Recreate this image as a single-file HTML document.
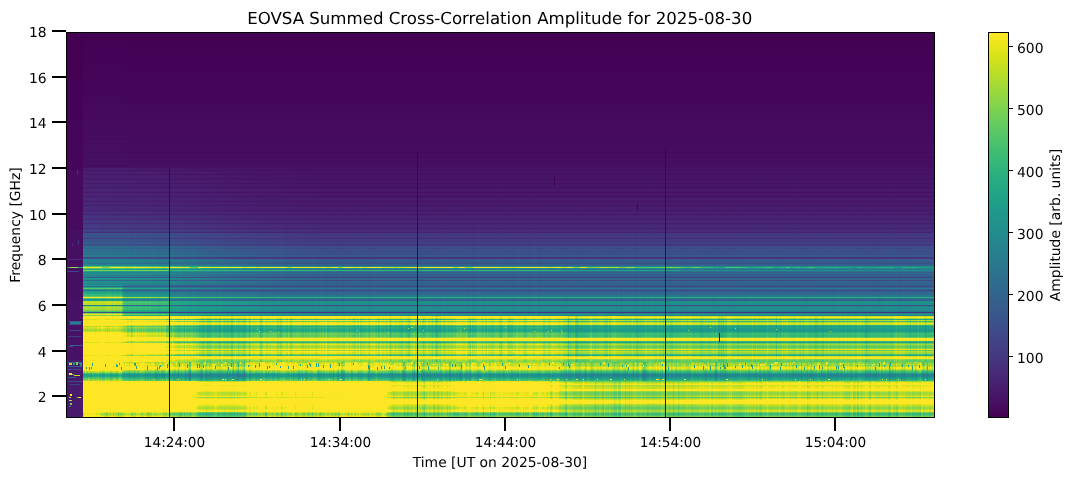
<!DOCTYPE html>
<html lang="en"><head><meta charset="utf-8"><title>EOVSA Summed Cross-Correlation Amplitude for 2025-08-30</title><style>html,body{margin:0;padding:0;background:#fff;overflow:hidden}svg{display:block}</style></head><body>
<svg width="1073" height="479" viewBox="0 0 1073 479" shape-rendering="crispEdges">
<defs>
<filter id="vir" x="0" y="0" width="100%" height="100%" filterUnits="objectBoundingBox" color-interpolation-filters="sRGB">
<feComponentTransfer>
<feFuncR type="table" tableValues=".267 .267 .267 .267 .267 .267 .267 .267 .267 .267 .267 .269 .269 .269 .269 .27 .27 .27 .271 .271 .271 .273 .273 .274 .274 .275 .275 .276 .276 .277 .277 .278 .279 .279 .28 .28 .28 .281 .281 .281 .282 .282 .283 .283 .283 .283 .283 .283 .283 .283 .283 .283 .282 .282 .281 .281 .28 .28 .278 .277 .276 .275 .274 .272 .271 .269 .268 .265 .264 .262 .259 .257 .254 .252 .25 .247 .245 .241 .239 .236 .234 .23 .226 .224 .22 .216 .214 .211 .207 .205 .201 .198 .194 .191 .189 .186 .182 .179 .176 .173 .17 .167 .164 .161 .158 .155 .152 .149 .146 .143 .139 .136 .134 .131 .129 .125 .123 .122 .12 .12 .119 .121 .122 .125 .13 .135 .143 .15 .162 .171 .186 .197 .214 .233 .246 .267 .289 .304 .328 .352 .369 .395 .422 .449 .478 .497 .526 .555 .586 .616 .647 .678 .71 .741 .773 .804 .835 .866 .896 .926 .955 .993 .993 .993 .993 .993 .993 .993 .993 .993 .993 .993 .993 .993 .993 .993 .993 .993 .993 .993 .993 .993 .993 .993 .993 .993 .993 .993 .993 .993 .993 .993 .993 .993 .993 .993 .993 .993 .993 .993 .993 .993 .993 .993 .993 .993 .993 .993 .993 .993 .993 .993 .993 .993 .993 .993 .993 .993 .993 .993 .993 .993 .993 .993 .993 .993 .993 .993 .993 .993 .993 .993 .993 .993 .993 .993 .993 .993 .993 .993 .993 .993 .993 .993 .993 .993 .993 .993 .993 .993 .993 .993 .993 .993 .993 .993"/>
<feFuncG type="table" tableValues=".005 .005 .005 .005 .005 .005 .005 .005 .005 .005 .005 .01 .01 .01 .01 .015 .015 .015 .02 .02 .02 .026 .026 .031 .031 .038 .038 .044 .044 .05 .05 .056 .062 .062 .068 .073 .073 .079 .084 .084 .09 .095 .1 .105 .111 .111 .116 .121 .126 .131 .136 .141 .146 .151 .156 .161 .166 .171 .18 .185 .19 .195 .2 .209 .214 .219 .224 .233 .238 .242 .252 .256 .265 .27 .274 .283 .288 .296 .301 .31 .314 .322 .331 .335 .343 .352 .356 .364 .372 .376 .384 .392 .399 .407 .411 .419 .426 .434 .441 .449 .456 .464 .471 .479 .486 .493 .501 .508 .515 .523 .534 .541 .549 .556 .563 .574 .582 .589 .6 .607 .615 .626 .633 .64 .651 .659 .669 .677 .687 .694 .705 .712 .722 .732 .739 .749 .758 .765 .774 .783 .789 .797 .806 .814 .821 .826 .833 .84 .847 .853 .858 .864 .869 .873 .878 .882 .886 .89 .894 .897 .901 .906 .906 .906 .906 .906 .906 .906 .906 .906 .906 .906 .906 .906 .906 .906 .906 .906 .906 .906 .906 .906 .906 .906 .906 .906 .906 .906 .906 .906 .906 .906 .906 .906 .906 .906 .906 .906 .906 .906 .906 .906 .906 .906 .906 .906 .906 .906 .906 .906 .906 .906 .906 .906 .906 .906 .906 .906 .906 .906 .906 .906 .906 .906 .906 .906 .906 .906 .906 .906 .906 .906 .906 .906 .906 .906 .906 .906 .906 .906 .906 .906 .906 .906 .906 .906 .906 .906 .906 .906 .906 .906 .906 .906 .906 .906"/>
<feFuncB type="table" tableValues=".329 .329 .329 .329 .329 .329 .329 .329 .329 .329 .329 .335 .335 .335 .335 .341 .341 .341 .347 .347 .347 .353 .353 .359 .359 .365 .365 .37 .37 .376 .376 .381 .387 .387 .392 .397 .397 .402 .407 .407 .412 .417 .422 .427 .432 .432 .436 .441 .445 .449 .453 .458 .462 .465 .469 .473 .476 .48 .487 .49 .493 .496 .499 .504 .507 .51 .512 .517 .519 .521 .525 .527 .53 .532 .533 .536 .537 .54 .541 .543 .544 .546 .547 .548 .549 .551 .551 .552 .553 .554 .554 .555 .556 .556 .556 .557 .557 .557 .558 .558 .558 .558 .558 .558 .558 .558 .558 .557 .557 .556 .555 .554 .554 .552 .551 .549 .547 .546 .543 .54 .538 .533 .53 .527 .522 .518 .511 .507 .499 .494 .485 .479 .47 .459 .452 .441 .428 .42 .407 .393 .383 .368 .352 .335 .318 .306 .288 .269 .25 .23 .21 .19 .169 .15 .131 .115 .103 .096 .096 .104 .118 .144 .144 .144 .144 .144 .144 .144 .144 .144 .144 .144 .144 .144 .144 .144 .144 .144 .144 .144 .144 .144 .144 .144 .144 .144 .144 .144 .144 .144 .144 .144 .144 .144 .144 .144 .144 .144 .144 .144 .144 .144 .144 .144 .144 .144 .144 .144 .144 .144 .144 .144 .144 .144 .144 .144 .144 .144 .144 .144 .144 .144 .144 .144 .144 .144 .144 .144 .144 .144 .144 .144 .144 .144 .144 .144 .144 .144 .144 .144 .144 .144 .144 .144 .144 .144 .144 .144 .144 .144 .144 .144 .144 .144 .144 .144"/>
</feComponentTransfer></filter>
<linearGradient id="cb" x1="0" y1="0" x2="0" y2="1"><stop offset="0" stop-color="#fde725"/><stop offset=".031" stop-color="#ece51b"/><stop offset=".062" stop-color="#d8e219"/><stop offset=".094" stop-color="#c2df23"/><stop offset=".125" stop-color="#addc30"/><stop offset=".156" stop-color="#98d83e"/><stop offset=".188" stop-color="#84d44b"/><stop offset=".219" stop-color="#70cf57"/><stop offset=".25" stop-color="#5ec962"/><stop offset=".281" stop-color="#4ec36b"/><stop offset=".312" stop-color="#3fbc73"/><stop offset=".344" stop-color="#32b67a"/><stop offset=".375" stop-color="#28ae80"/><stop offset=".406" stop-color="#22a785"/><stop offset=".438" stop-color="#1fa088"/><stop offset=".469" stop-color="#1f988b"/><stop offset=".5" stop-color="#21918c"/><stop offset=".531" stop-color="#23898e"/><stop offset=".562" stop-color="#26828e"/><stop offset=".594" stop-color="#297a8e"/><stop offset=".625" stop-color="#2c728e"/><stop offset=".656" stop-color="#2f6b8e"/><stop offset=".688" stop-color="#33638d"/><stop offset=".719" stop-color="#375b8d"/><stop offset=".75" stop-color="#3b528b"/><stop offset=".781" stop-color="#3e4989"/><stop offset=".812" stop-color="#424086"/><stop offset=".844" stop-color="#453781"/><stop offset=".875" stop-color="#472d7b"/><stop offset=".906" stop-color="#482374"/><stop offset=".938" stop-color="#48186a"/><stop offset=".969" stop-color="#470d60"/><stop offset="1" stop-color="#440154"/></linearGradient>
</defs>
<rect width="1073" height="479" fill="#fff"/>
<g filter="url(#vir)">
<rect x="67" y="33" width="867" height="384" fill="#000"/>
<g>
<rect x="67" y="33" width="867" height="5" fill="#0d0d0d"/>
<rect x="67" y="38" width="867" height="6" fill="#0e0e0e"/>
<rect x="67" y="44" width="867" height="6" fill="#0f0f0f"/>
<rect x="67" y="50" width="867" height="7" fill="#101010"/>
<rect x="67" y="57" width="867" height="8" fill="#111111"/>
<rect x="67" y="65" width="867" height="8" fill="#121212"/>
<rect x="67" y="73" width="867" height="8" fill="#131313"/>
<rect x="67" y="81" width="867" height="4" fill="#141414"/>
<rect x="67" y="85" width="867" height="5" fill="#151515"/>
<rect x="67" y="90" width="867" height="5" fill="#161616"/>
<rect x="67" y="95" width="867" height="6" fill="#171717"/>
<rect x="67" y="101" width="867" height="4" fill="#181818"/>
<rect x="67" y="105" width="867" height="5" fill="#191919"/>
<rect x="67" y="110" width="867" height="1" fill="#1a1a1a"/>
<rect x="67" y="111" width="867" height="2" fill="#191919"/>
<rect x="67" y="113" width="867" height="5" fill="#1a1a1a"/>
<rect x="67" y="118" width="867" height="3" fill="#1b1b1b"/>
<rect x="67" y="121" width="867" height="1" fill="#1a1a1a"/>
<rect x="67" y="122" width="867" height="1" fill="#1b1b1b"/>
<rect x="67" y="123" width="867" height="2" fill="#1c1c1c"/>
<rect x="67" y="125" width="867" height="1" fill="#1b1b1b"/>
<rect x="67" y="126" width="867" height="1" fill="#1c1c1c"/>
<rect x="67" y="127" width="867" height="1" fill="#1d1d1d"/>
<rect x="67" y="128" width="867" height="2" fill="#1c1c1c"/>
<rect x="67" y="130" width="867" height="1" fill="#1b1b1b"/>
<rect x="67" y="131" width="867" height="1" fill="#1d1d1d"/>
<rect x="67" y="132" width="867" height="1" fill="#1e1e1e"/>
<rect x="67" y="133" width="867" height="1" fill="#1d1d1d"/>
<rect x="67" y="134" width="867" height="1" fill="#1c1c1c"/>
<rect x="67" y="135" width="867" height="1" fill="#1d1d1d"/>
<rect x="67" y="136" width="867" height="1" fill="#1e1e1e"/>
<rect x="67" y="137" width="867" height="1" fill="#1d1d1d"/>
<rect x="67" y="138" width="867" height="2" fill="#1c1c1c"/>
<rect x="67" y="140" width="867" height="1" fill="#1e1e1e"/>
<rect x="67" y="141" width="867" height="1" fill="#1f1f1f"/>
<rect x="67" y="142" width="867" height="1" fill="#1e1e1e"/>
<rect x="67" y="143" width="867" height="1" fill="#1c1c1c"/>
<rect x="67" y="144" width="867" height="1" fill="#1e1e1e"/>
<rect x="67" y="145" width="867" height="1" fill="#202020"/>
<rect x="67" y="146" width="867" height="1" fill="#1e1e1e"/>
<rect x="67" y="147" width="867" height="1" fill="#1d1d1d"/>
<rect x="67" y="148" width="867" height="1" fill="#1f1f1f"/>
<rect x="67" y="149" width="867" height="2" fill="#202020"/>
<rect x="67" y="151" width="867" height="1" fill="#1f1f1f"/>
<rect x="67" y="152" width="867" height="1" fill="#1d1d1d"/>
<rect x="67" y="153" width="867" height="1" fill="#1f1f1f"/>
<rect x="67" y="154" width="867" height="1" fill="#212121"/>
<rect x="67" y="155" width="867" height="1" fill="#202020"/>
<rect x="67" y="156" width="867" height="1" fill="#1d1d1d"/>
<rect x="67" y="157" width="867" height="1" fill="#202020"/>
<rect x="67" y="158" width="867" height="2" fill="#222222"/>
<rect x="67" y="160" width="867" height="1" fill="#202020"/>
<rect x="67" y="161" width="867" height="1" fill="#1e1e1e"/>
<rect x="67" y="162" width="867" height="1" fill="#202020"/>
<rect x="67" y="163" width="867" height="1" fill="#222222"/>
<rect x="67" y="164" width="867" height="1" fill="#212121"/>
<rect x="67" y="165" width="867" height="1" fill="#1e1e1e"/>
<rect x="67" y="166" width="867" height="1" fill="#212121"/>
<rect x="67" y="167" width="867" height="1" fill="#232323"/>
<rect x="67" y="33" width="16" height="135" opacity="1"/>
<rect x="127" y="33" width="86" height="135" opacity=".01"/>
<rect x="213" y="33" width="721" height="135" opacity=".02"/>
</g>
<g>
<rect x="67" y="168" width="867" height="2" fill="#2d2d2d"/>
<rect x="67" y="170" width="867" height="1" fill="#292929"/>
<rect x="67" y="171" width="867" height="1" fill="#2e2e2e"/>
<rect x="67" y="172" width="867" height="1" fill="#313131"/>
<rect x="67" y="173" width="867" height="1" fill="#2e2e2e"/>
<rect x="67" y="174" width="867" height="1" fill="#2a2a2a"/>
<rect x="67" y="175" width="867" height="1" fill="#2f2f2f"/>
<rect x="67" y="176" width="867" height="1" fill="#323232"/>
<rect x="67" y="177" width="867" height="2" fill="#2f2f2f"/>
<rect x="67" y="179" width="867" height="1" fill="#2b2b2b"/>
<rect x="67" y="180" width="867" height="1" fill="#303030"/>
<rect x="67" y="181" width="867" height="1" fill="#343434"/>
<rect x="67" y="182" width="867" height="1" fill="#303030"/>
<rect x="67" y="183" width="867" height="1" fill="#2b2b2b"/>
<rect x="67" y="184" width="867" height="1" fill="#313131"/>
<rect x="67" y="185" width="867" height="1" fill="#353535"/>
<rect x="67" y="186" width="867" height="1" fill="#313131"/>
<rect x="67" y="187" width="867" height="1" fill="#2c2c2c"/>
<rect x="67" y="188" width="867" height="1" fill="#313131"/>
<rect x="67" y="189" width="867" height="1" fill="#353535"/>
<rect x="67" y="190" width="867" height="1" fill="#363636"/>
<rect x="67" y="191" width="867" height="1" fill="#323232"/>
<rect x="67" y="192" width="867" height="1" fill="#2d2d2d"/>
<rect x="67" y="193" width="867" height="1" fill="#323232"/>
<rect x="67" y="194" width="867" height="1" fill="#373737"/>
<rect x="67" y="195" width="867" height="1" fill="#333333"/>
<rect x="67" y="196" width="867" height="1" fill="#2e2e2e"/>
<rect x="67" y="197" width="867" height="1" fill="#333333"/>
<rect x="67" y="198" width="867" height="1" fill="#373737"/>
<rect x="67" y="199" width="867" height="1" fill="#383838"/>
<rect x="67" y="200" width="867" height="1" fill="#343434"/>
<rect x="67" y="201" width="867" height="1" fill="#2f2f2f"/>
<rect x="67" y="202" width="867" height="1" fill="#353535"/>
<rect x="67" y="203" width="867" height="1" fill="#393939"/>
<rect x="67" y="204" width="867" height="1" fill="#363636"/>
<rect x="67" y="205" width="867" height="1" fill="#303030"/>
<rect x="67" y="206" width="867" height="1" fill="#363636"/>
<rect x="67" y="207" width="867" height="1" fill="#3b3b3b"/>
<rect x="67" y="208" width="867" height="1" fill="#373737"/>
<rect x="67" y="209" width="867" height="1" fill="#383838"/>
<rect x="67" y="210" width="867" height="1" fill="#323232"/>
<rect x="67" y="211" width="867" height="1" fill="#393939"/>
<rect x="67" y="212" width="867" height="1" fill="#3d3d3d"/>
<rect x="67" y="213" width="867" height="1" fill="#3a3a3a"/>
<rect x="67" y="214" width="867" height="1" fill="#353535"/>
<rect x="67" y="215" width="867" height="1" fill="#3c3c3c"/>
<rect x="67" y="216" width="867" height="1" fill="#414141"/>
<rect x="67" y="217" width="867" height="1" fill="#3d3d3d"/>
<rect x="67" y="218" width="867" height="1" fill="#3e3e3e"/>
<rect x="67" y="219" width="867" height="1" fill="#383838"/>
<rect x="67" y="220" width="867" height="1" fill="#404040"/>
<rect x="67" y="221" width="867" height="1" fill="#454545"/>
<rect x="67" y="222" width="867" height="1" fill="#414141"/>
<rect x="67" y="223" width="867" height="1" fill="#3b3b3b"/>
<rect x="67" y="224" width="867" height="1" fill="#434343"/>
<rect x="67" y="225" width="867" height="1" fill="#444444"/>
<rect x="67" y="226" width="867" height="1" fill="#474747"/>
<rect x="67" y="227" width="867" height="1" fill="#434343"/>
<rect x="67" y="228" width="867" height="1" fill="#3c3c3c"/>
<rect x="67" y="229" width="867" height="1" fill="#474747"/>
<rect x="67" y="230" width="867" height="1" fill="#494949"/>
<rect x="67" y="231" width="867" height="1" fill="#474747"/>
<rect x="67" y="232" width="867" height="1" fill="#3e3e3e"/>
<rect x="67" y="233" width="867" height="1" fill="#515151"/>
<rect x="67" y="234" width="867" height="1" fill="#545454"/>
<rect x="67" y="235" width="867" height="1" fill="#515151"/>
<rect x="67" y="236" width="867" height="1" fill="#545454"/>
<rect x="67" y="237" width="867" height="1" fill="#515151"/>
<rect x="67" y="238" width="867" height="1" fill="#494949"/>
<rect x="67" y="239" width="867" height="1" fill="#545454"/>
<rect x="67" y="240" width="867" height="1" fill="#565656"/>
<rect x="67" y="241" width="867" height="1" fill="#515151"/>
<rect x="67" y="242" width="867" height="1" fill="#575757"/>
<rect x="67" y="243" width="867" height="1" fill="#5b5b5b"/>
<rect x="67" y="244" width="867" height="1" fill="#4d4d4d"/>
<rect x="67" y="245" width="867" height="1" fill="#565656"/>
<rect x="67" y="246" width="867" height="1" fill="#5f5f5f"/>
<rect x="67" y="247" width="867" height="1" fill="#636363"/>
<rect x="67" y="248" width="867" height="1" fill="#5f5f5f"/>
<rect x="67" y="249" width="867" height="1" fill="#636363"/>
<rect x="67" y="250" width="867" height="1" fill="#656565"/>
<rect x="67" y="251" width="867" height="1" fill="#616161"/>
<rect x="67" y="252" width="867" height="2" fill="#656565"/>
<rect x="67" y="254" width="867" height="1" fill="#636363"/>
<rect x="67" y="255" width="867" height="1" fill="#6b6b6b"/>
<rect x="67" y="256" width="867" height="1" fill="#696969"/>
<rect x="67" y="257" width="867" height="1" fill="#4b4b4b"/>
<rect x="67" y="258" width="867" height="1" fill="#565656"/>
<rect x="67" y="259" width="867" height="1" fill="#696969"/>
<rect x="67" y="260" width="867" height="1" fill="#707070"/>
<rect x="67" y="261" width="867" height="1" fill="#6e6e6e"/>
<rect x="67" y="262" width="867" height="1" fill="#696969"/>
<rect x="67" y="263" width="867" height="1" fill="#656565"/>
<rect x="67" y="264" width="867" height="1" fill="#6e6e6e"/>
<rect x="67" y="265" width="867" height="1" fill="#727272"/>
<rect x="67" y="266" width="867" height="1" fill="#8c8c8c"/>
<rect x="67" y="267" width="867" height="1" fill="#bababa"/>
<rect x="67" y="268" width="867" height="1" fill="#8c8c8c"/>
<rect x="67" y="269" width="867" height="1" fill="#7c7c7c"/>
<rect x="67" y="270" width="867" height="1" fill="#9a9a9a"/>
<rect x="67" y="271" width="867" height="1" fill="#7c7c7c"/>
<rect x="67" y="272" width="867" height="1" fill="#707070"/>
<rect x="67" y="273" width="867" height="1" fill="#747474"/>
<rect x="67" y="274" width="867" height="1" fill="#727272"/>
<rect x="67" y="275" width="867" height="2" fill="#6e6e6e"/>
<rect x="67" y="277" width="867" height="1" fill="#5a5a5a"/>
<rect x="67" y="278" width="867" height="1" fill="#777777"/>
<rect x="67" y="279" width="867" height="1" fill="#747474"/>
<rect x="67" y="280" width="867" height="1" fill="#5f5f5f"/>
<rect x="67" y="281" width="867" height="2" fill="#747474"/>
<rect x="67" y="283" width="867" height="1" fill="#727272"/>
<rect x="67" y="284" width="867" height="1" fill="#6e6e6e"/>
<rect x="67" y="168" width="16" height="117" opacity="1"/>
<rect x="87" y="168" width="2" height="117" opacity=".01"/>
<rect x="90" y="168" width="1" height="117" opacity=".01"/>
<rect x="92" y="168" width="10" height="117" opacity=".01"/>
<rect x="102" y="168" width="3" height="117" opacity=".02"/>
<rect x="105" y="168" width="1" height="117" opacity=".01"/>
<rect x="106" y="168" width="1" height="117" opacity=".02"/>
<rect x="107" y="168" width="4" height="117" opacity=".01"/>
<rect x="111" y="168" width="3" height="117" opacity=".02"/>
<rect x="114" y="168" width="1" height="117" opacity=".01"/>
<rect x="115" y="168" width="5" height="117" opacity=".02"/>
<rect x="120" y="168" width="1" height="117" opacity=".01"/>
<rect x="121" y="168" width="2" height="117" opacity=".02"/>
<rect x="123" y="168" width="2" height="117" opacity=".01"/>
<rect x="125" y="168" width="2" height="117" opacity=".02"/>
<rect x="127" y="168" width="1" height="117" opacity=".03"/>
<rect x="128" y="168" width="3" height="117" opacity=".02"/>
<rect x="131" y="168" width="2" height="117" opacity=".03"/>
<rect x="133" y="168" width="3" height="117" opacity=".02"/>
<rect x="136" y="168" width="6" height="117" opacity=".03"/>
<rect x="142" y="168" width="2" height="117" opacity=".04"/>
<rect x="144" y="168" width="3" height="117" opacity=".03"/>
<rect x="147" y="168" width="2" height="117" opacity=".04"/>
<rect x="149" y="168" width="2" height="117" opacity=".03"/>
<rect x="151" y="168" width="6" height="117" opacity=".04"/>
<rect x="157" y="168" width="8" height="117" opacity=".05"/>
<rect x="165" y="168" width="1" height="117" opacity=".06"/>
<rect x="166" y="168" width="1" height="117" opacity=".05"/>
<rect x="167" y="168" width="4" height="117" opacity=".06"/>
<rect x="171" y="168" width="1" height="117" opacity=".07"/>
<rect x="172" y="168" width="3" height="117" opacity=".06"/>
<rect x="175" y="168" width="3" height="117" opacity=".07"/>
<rect x="178" y="168" width="2" height="117" opacity=".06"/>
<rect x="180" y="168" width="2" height="117" opacity=".07"/>
<rect x="182" y="168" width="1" height="117" opacity=".08"/>
<rect x="183" y="168" width="1" height="117" opacity=".07"/>
<rect x="184" y="168" width="1" height="117" opacity=".08"/>
<rect x="185" y="168" width="2" height="117" opacity=".07"/>
<rect x="187" y="168" width="1" height="117" opacity=".08"/>
<rect x="188" y="168" width="1" height="117" opacity=".09"/>
<rect x="189" y="168" width="2" height="117" opacity=".08"/>
<rect x="191" y="168" width="1" height="117" opacity=".09"/>
<rect x="192" y="168" width="3" height="117" opacity=".08"/>
<rect x="195" y="168" width="1" height="117" opacity=".09"/>
<rect x="196" y="168" width="1" height="117" opacity=".08"/>
<rect x="197" y="168" width="5" height="117" opacity=".09"/>
<rect x="202" y="168" width="2" height="117" opacity=".1"/>
<rect x="204" y="168" width="1" height="117" opacity=".11"/>
<rect x="205" y="168" width="1" height="117" opacity=".09"/>
<rect x="206" y="168" width="5" height="117" opacity=".1"/>
<rect x="211" y="168" width="3" height="117" opacity=".11"/>
<rect x="214" y="168" width="1" height="117" opacity=".1"/>
<rect x="215" y="168" width="3" height="117" opacity=".11"/>
<rect x="218" y="168" width="1" height="117" opacity=".12"/>
<rect x="219" y="168" width="2" height="117" opacity=".11"/>
<rect x="221" y="168" width="5" height="117" opacity=".12"/>
<rect x="226" y="168" width="10" height="117" opacity=".13"/>
<rect x="236" y="168" width="2" height="117" opacity=".14"/>
<rect x="238" y="168" width="2" height="117" opacity=".13"/>
<rect x="240" y="168" width="2" height="117" opacity=".14"/>
<rect x="242" y="168" width="1" height="117" opacity=".15"/>
<rect x="243" y="168" width="1" height="117" opacity=".14"/>
<rect x="244" y="168" width="1" height="117" opacity=".15"/>
<rect x="245" y="168" width="1" height="117" opacity=".14"/>
<rect x="246" y="168" width="10" height="117" opacity=".15"/>
<rect x="256" y="168" width="6" height="117" opacity=".16"/>
<rect x="262" y="168" width="1" height="117" opacity=".17"/>
<rect x="263" y="168" width="4" height="117" opacity=".16"/>
<rect x="267" y="168" width="1" height="117" opacity=".17"/>
<rect x="268" y="168" width="1" height="117" opacity=".16"/>
<rect x="269" y="168" width="1" height="117" opacity=".17"/>
<rect x="270" y="168" width="1" height="117" opacity=".16"/>
<rect x="271" y="168" width="1" height="117" opacity=".17"/>
<rect x="272" y="168" width="1" height="117" opacity=".18"/>
<rect x="273" y="168" width="11" height="117" opacity=".17"/>
<rect x="284" y="168" width="2" height="117" opacity=".18"/>
<rect x="286" y="168" width="1" height="117" opacity=".19"/>
<rect x="287" y="168" width="4" height="117" opacity=".18"/>
<rect x="291" y="168" width="1" height="117" opacity=".19"/>
<rect x="292" y="168" width="3" height="117" opacity=".18"/>
<rect x="295" y="168" width="2" height="117" opacity=".19"/>
<rect x="297" y="168" width="1" height="117" opacity=".18"/>
<rect x="298" y="168" width="2" height="117" opacity=".19"/>
<rect x="300" y="168" width="1" height="117" opacity=".18"/>
<rect x="301" y="168" width="9" height="117" opacity=".19"/>
<rect x="310" y="168" width="1" height="117" opacity=".2"/>
<rect x="311" y="168" width="5" height="117" opacity=".19"/>
<rect x="316" y="168" width="4" height="117" opacity=".2"/>
<rect x="320" y="168" width="1" height="117" opacity=".19"/>
<rect x="321" y="168" width="4" height="117" opacity=".2"/>
<rect x="325" y="168" width="2" height="117" opacity=".21"/>
<rect x="327" y="168" width="8" height="117" opacity=".2"/>
<rect x="335" y="168" width="2" height="117" opacity=".21"/>
<rect x="337" y="168" width="4" height="117" opacity=".2"/>
<rect x="341" y="168" width="3" height="117" opacity=".21"/>
<rect x="344" y="168" width="1" height="117" opacity=".2"/>
<rect x="345" y="168" width="1" height="117" opacity=".21"/>
<rect x="346" y="168" width="9" height="117" opacity=".2"/>
<rect x="355" y="168" width="1" height="117" opacity=".21"/>
<rect x="356" y="168" width="3" height="117" opacity=".2"/>
<rect x="359" y="168" width="1" height="117" opacity=".19"/>
<rect x="360" y="168" width="8" height="117" opacity=".2"/>
<rect x="368" y="168" width="3" height="117" opacity=".21"/>
<rect x="371" y="168" width="10" height="117" opacity=".2"/>
<rect x="381" y="168" width="1" height="117" opacity=".19"/>
<rect x="382" y="168" width="5" height="117" opacity=".2"/>
<rect x="387" y="168" width="1" height="117" opacity=".19"/>
<rect x="388" y="168" width="10" height="117" opacity=".2"/>
<rect x="398" y="168" width="1" height="117" opacity=".19"/>
<rect x="399" y="168" width="2" height="117" opacity=".2"/>
<rect x="401" y="168" width="1" height="117" opacity=".19"/>
<rect x="402" y="168" width="19" height="117" opacity=".2"/>
<rect x="421" y="168" width="1" height="117" opacity=".21"/>
<rect x="422" y="168" width="9" height="117" opacity=".2"/>
<rect x="431" y="168" width="1" height="117" opacity=".21"/>
<rect x="432" y="168" width="2" height="117" opacity=".2"/>
<rect x="434" y="168" width="1" height="117" opacity=".21"/>
<rect x="435" y="168" width="2" height="117" opacity=".2"/>
<rect x="437" y="168" width="2" height="117" opacity=".21"/>
<rect x="439" y="168" width="1" height="117" opacity=".2"/>
<rect x="440" y="168" width="1" height="117" opacity=".21"/>
<rect x="441" y="168" width="1" height="117" opacity=".2"/>
<rect x="442" y="168" width="2" height="117" opacity=".19"/>
<rect x="444" y="168" width="3" height="117" opacity=".2"/>
<rect x="447" y="168" width="1" height="117" opacity=".19"/>
<rect x="448" y="168" width="18" height="117" opacity=".2"/>
<rect x="466" y="168" width="1" height="117" opacity=".19"/>
<rect x="467" y="168" width="1" height="117" opacity=".21"/>
<rect x="468" y="168" width="4" height="117" opacity=".2"/>
<rect x="472" y="168" width="3" height="117" opacity=".21"/>
<rect x="475" y="168" width="3" height="117" opacity=".2"/>
<rect x="478" y="168" width="3" height="117" opacity=".19"/>
<rect x="481" y="168" width="2" height="117" opacity=".2"/>
<rect x="483" y="168" width="1" height="117" opacity=".21"/>
<rect x="484" y="168" width="4" height="117" opacity=".2"/>
<rect x="488" y="168" width="1" height="117" opacity=".19"/>
<rect x="489" y="168" width="2" height="117" opacity=".21"/>
<rect x="491" y="168" width="1" height="117" opacity=".19"/>
<rect x="492" y="168" width="5" height="117" opacity=".2"/>
<rect x="497" y="168" width="3" height="117" opacity=".19"/>
<rect x="500" y="168" width="1" height="117" opacity=".2"/>
<rect x="501" y="168" width="1" height="117" opacity=".19"/>
<rect x="502" y="168" width="10" height="117" opacity=".2"/>
<rect x="512" y="168" width="1" height="117" opacity=".21"/>
<rect x="513" y="168" width="5" height="117" opacity=".2"/>
<rect x="518" y="168" width="2" height="117" opacity=".19"/>
<rect x="520" y="168" width="1" height="117" opacity=".2"/>
<rect x="521" y="168" width="1" height="117" opacity=".19"/>
<rect x="522" y="168" width="5" height="117" opacity=".2"/>
<rect x="527" y="168" width="2" height="117" opacity=".21"/>
<rect x="529" y="168" width="3" height="117" opacity=".2"/>
<rect x="532" y="168" width="5" height="117" opacity=".19"/>
<rect x="537" y="168" width="1" height="117" opacity=".2"/>
<rect x="538" y="168" width="2" height="117" opacity=".21"/>
<rect x="540" y="168" width="11" height="117" opacity=".2"/>
<rect x="551" y="168" width="2" height="117" opacity=".19"/>
<rect x="553" y="168" width="2" height="117" opacity=".2"/>
<rect x="555" y="168" width="1" height="117" opacity=".19"/>
<rect x="556" y="168" width="9" height="117" opacity=".2"/>
<rect x="565" y="168" width="2" height="117" opacity=".21"/>
<rect x="567" y="168" width="4" height="117" opacity=".2"/>
<rect x="571" y="168" width="1" height="117" opacity=".19"/>
<rect x="572" y="168" width="6" height="117" opacity=".2"/>
<rect x="578" y="168" width="1" height="117" opacity=".21"/>
<rect x="579" y="168" width="11" height="117" opacity=".2"/>
<rect x="590" y="168" width="1" height="117" opacity=".19"/>
<rect x="591" y="168" width="3" height="117" opacity=".2"/>
<rect x="594" y="168" width="1" height="117" opacity=".21"/>
<rect x="595" y="168" width="2" height="117" opacity=".2"/>
<rect x="597" y="168" width="2" height="117" opacity=".19"/>
<rect x="599" y="168" width="10" height="117" opacity=".2"/>
<rect x="609" y="168" width="1" height="117" opacity=".21"/>
<rect x="610" y="168" width="10" height="117" opacity=".2"/>
<rect x="620" y="168" width="2" height="117" opacity=".21"/>
<rect x="622" y="168" width="2" height="117" opacity=".2"/>
<rect x="624" y="168" width="1" height="117" opacity=".19"/>
<rect x="625" y="168" width="7" height="117" opacity=".2"/>
<rect x="632" y="168" width="1" height="117" opacity=".19"/>
<rect x="633" y="168" width="2" height="117" opacity=".2"/>
<rect x="635" y="168" width="2" height="117" opacity=".21"/>
<rect x="637" y="168" width="3" height="117" opacity=".2"/>
<rect x="640" y="168" width="1" height="117" opacity=".19"/>
<rect x="641" y="168" width="6" height="117" opacity=".2"/>
<rect x="647" y="168" width="1" height="117" opacity=".19"/>
<rect x="648" y="168" width="2" height="117" opacity=".2"/>
<rect x="650" y="168" width="2" height="117" opacity=".19"/>
<rect x="652" y="168" width="1" height="117" opacity=".2"/>
<rect x="653" y="168" width="1" height="117" opacity=".19"/>
<rect x="654" y="168" width="6" height="117" opacity=".2"/>
<rect x="660" y="168" width="1" height="117" opacity=".19"/>
<rect x="661" y="168" width="1" height="117" opacity=".2"/>
<rect x="662" y="168" width="1" height="117" opacity=".19"/>
<rect x="663" y="168" width="4" height="117" opacity=".2"/>
<rect x="667" y="168" width="1" height="117" opacity=".21"/>
<rect x="668" y="168" width="1" height="117" opacity=".2"/>
<rect x="669" y="168" width="2" height="117" opacity=".21"/>
<rect x="671" y="168" width="5" height="117" opacity=".2"/>
<rect x="676" y="168" width="1" height="117" opacity=".19"/>
<rect x="677" y="168" width="4" height="117" opacity=".2"/>
<rect x="681" y="168" width="2" height="117" opacity=".21"/>
<rect x="683" y="168" width="3" height="117" opacity=".2"/>
<rect x="686" y="168" width="1" height="117" opacity=".21"/>
<rect x="687" y="168" width="1" height="117" opacity=".2"/>
<rect x="688" y="168" width="1" height="117" opacity=".21"/>
<rect x="689" y="168" width="3" height="117" opacity=".2"/>
<rect x="692" y="168" width="1" height="117" opacity=".19"/>
<rect x="693" y="168" width="2" height="117" opacity=".2"/>
<rect x="695" y="168" width="1" height="117" opacity=".19"/>
<rect x="696" y="168" width="15" height="117" opacity=".2"/>
<rect x="711" y="168" width="1" height="117" opacity=".21"/>
<rect x="712" y="168" width="1" height="117" opacity=".2"/>
<rect x="713" y="168" width="2" height="117" opacity=".21"/>
<rect x="715" y="168" width="11" height="117" opacity=".2"/>
<rect x="726" y="168" width="1" height="117" opacity=".21"/>
<rect x="727" y="168" width="1" height="117" opacity=".2"/>
<rect x="728" y="168" width="1" height="117" opacity=".21"/>
<rect x="729" y="168" width="3" height="117" opacity=".2"/>
<rect x="732" y="168" width="1" height="117" opacity=".21"/>
<rect x="733" y="168" width="17" height="117" opacity=".2"/>
<rect x="750" y="168" width="2" height="117" opacity=".19"/>
<rect x="752" y="168" width="1" height="117" opacity=".2"/>
<rect x="753" y="168" width="2" height="117" opacity=".19"/>
<rect x="755" y="168" width="8" height="117" opacity=".2"/>
<rect x="763" y="168" width="2" height="117" opacity=".19"/>
<rect x="765" y="168" width="5" height="117" opacity=".2"/>
<rect x="770" y="168" width="1" height="117" opacity=".19"/>
<rect x="771" y="168" width="17" height="117" opacity=".2"/>
<rect x="788" y="168" width="1" height="117" opacity=".19"/>
<rect x="789" y="168" width="2" height="117" opacity=".2"/>
<rect x="791" y="168" width="2" height="117" opacity=".19"/>
<rect x="793" y="168" width="3" height="117" opacity=".2"/>
<rect x="796" y="168" width="2" height="117" opacity=".19"/>
<rect x="798" y="168" width="1" height="117" opacity=".2"/>
<rect x="799" y="168" width="1" height="117" opacity=".19"/>
<rect x="800" y="168" width="5" height="117" opacity=".2"/>
<rect x="805" y="168" width="2" height="117" opacity=".21"/>
<rect x="807" y="168" width="10" height="117" opacity=".2"/>
<rect x="817" y="168" width="1" height="117" opacity=".19"/>
<rect x="818" y="168" width="3" height="117" opacity=".2"/>
<rect x="821" y="168" width="1" height="117" opacity=".19"/>
<rect x="822" y="168" width="5" height="117" opacity=".2"/>
<rect x="827" y="168" width="1" height="117" opacity=".19"/>
<rect x="828" y="168" width="4" height="117" opacity=".2"/>
<rect x="832" y="168" width="1" height="117" opacity=".21"/>
<rect x="833" y="168" width="4" height="117" opacity=".2"/>
<rect x="837" y="168" width="2" height="117" opacity=".19"/>
<rect x="839" y="168" width="6" height="117" opacity=".2"/>
<rect x="845" y="168" width="1" height="117" opacity=".19"/>
<rect x="846" y="168" width="11" height="117" opacity=".2"/>
<rect x="857" y="168" width="1" height="117" opacity=".21"/>
<rect x="858" y="168" width="4" height="117" opacity=".2"/>
<rect x="862" y="168" width="1" height="117" opacity=".21"/>
<rect x="863" y="168" width="1" height="117" opacity=".2"/>
<rect x="864" y="168" width="1" height="117" opacity=".21"/>
<rect x="865" y="168" width="8" height="117" opacity=".2"/>
<rect x="873" y="168" width="1" height="117" opacity=".21"/>
<rect x="874" y="168" width="3" height="117" opacity=".2"/>
<rect x="877" y="168" width="4" height="117" opacity=".21"/>
<rect x="881" y="168" width="6" height="117" opacity=".2"/>
<rect x="887" y="168" width="2" height="117" opacity=".19"/>
<rect x="889" y="168" width="3" height="117" opacity=".2"/>
<rect x="892" y="168" width="3" height="117" opacity=".19"/>
<rect x="895" y="168" width="4" height="117" opacity=".2"/>
<rect x="899" y="168" width="2" height="117" opacity=".21"/>
<rect x="901" y="168" width="3" height="117" opacity=".2"/>
<rect x="904" y="168" width="1" height="117" opacity=".19"/>
<rect x="905" y="168" width="3" height="117" opacity=".2"/>
<rect x="908" y="168" width="1" height="117" opacity=".21"/>
<rect x="909" y="168" width="1" height="117" opacity=".2"/>
<rect x="910" y="168" width="1" height="117" opacity=".21"/>
<rect x="911" y="168" width="1" height="117" opacity=".2"/>
<rect x="912" y="168" width="1" height="117" opacity=".19"/>
<rect x="913" y="168" width="9" height="117" opacity=".2"/>
<rect x="922" y="168" width="1" height="117" opacity=".19"/>
<rect x="923" y="168" width="10" height="117" opacity=".2"/>
<rect x="933" y="168" width="1" height="117" opacity=".19"/>
</g>
<g>
<rect x="67" y="285" width="867" height="1" fill="#777777"/>
<rect x="67" y="286" width="867" height="1" fill="#626262"/>
<rect x="67" y="287" width="867" height="1" fill="#7d7d7d"/>
<rect x="67" y="288" width="867" height="1" fill="#8d8d8d"/>
<rect x="67" y="289" width="867" height="1" fill="#777777"/>
<rect x="67" y="290" width="867" height="1" fill="#666666"/>
<rect x="67" y="291" width="867" height="1" fill="#777777"/>
<rect x="67" y="292" width="867" height="1" fill="#818181"/>
<rect x="67" y="293" width="867" height="1" fill="#7d7d7d"/>
<rect x="67" y="294" width="867" height="2" fill="#868686"/>
<rect x="67" y="296" width="867" height="1" fill="#8d8d8d"/>
<rect x="67" y="297" width="867" height="1" fill="#acacac"/>
<rect x="67" y="298" width="867" height="1" fill="#8a8a8a"/>
<rect x="67" y="299" width="867" height="1" fill="#777777"/>
<rect x="67" y="300" width="867" height="1" fill="#7b7b7b"/>
<rect x="67" y="301" width="867" height="1" fill="#9a9a9a"/>
<rect x="67" y="302" width="867" height="1" fill="#9d9d9d"/>
<rect x="67" y="303" width="867" height="2" fill="#9a9a9a"/>
<rect x="67" y="305" width="867" height="1" fill="#6d6d6d"/>
<rect x="67" y="306" width="867" height="1" fill="#929292"/>
<rect x="67" y="307" width="867" height="1" fill="#9a9a9a"/>
<rect x="67" y="308" width="867" height="2" fill="#979797"/>
<rect x="67" y="310" width="867" height="1" fill="#929292"/>
<rect x="67" y="311" width="867" height="1" fill="#8a8a8a"/>
<rect x="67" y="312" width="867" height="1" fill="#545454"/>
<rect x="67" y="313" width="867" height="1" fill="#929292"/>
<rect x="67" y="314" width="867" height="1" fill="#a2a2a2"/>
<rect x="67" y="315" width="867" height="1" fill="#929292"/>
<rect x="67" y="285" width="16" height="31" opacity="1"/>
<rect x="83" y="285" width="2" height="31" opacity=".01"/>
<rect x="87" y="285" width="4" height="31" opacity=".01"/>
<rect x="92" y="285" width="11" height="31" opacity=".01"/>
<rect x="103" y="285" width="1" height="31" opacity=".02"/>
<rect x="104" y="285" width="3" height="31" opacity=".01"/>
<rect x="109" y="285" width="1" height="31" opacity=".01"/>
<rect x="111" y="285" width="1" height="31" opacity=".01"/>
<rect x="112" y="285" width="1" height="31" opacity=".02"/>
<rect x="113" y="285" width="1" height="31" opacity=".01"/>
<rect x="115" y="285" width="5" height="31" opacity=".01"/>
<rect x="121" y="285" width="1" height="31" opacity=".01"/>
<rect x="122" y="285" width="1" height="31" opacity=".06"/>
<rect x="123" y="285" width="2" height="31" opacity=".11"/>
<rect x="125" y="285" width="2" height="31" opacity=".12"/>
<rect x="127" y="285" width="1" height="31" opacity=".13"/>
<rect x="128" y="285" width="3" height="31" opacity=".12"/>
<rect x="131" y="285" width="2" height="31" opacity=".13"/>
<rect x="133" y="285" width="3" height="31" opacity=".12"/>
<rect x="136" y="285" width="2" height="31" opacity=".13"/>
<rect x="138" y="285" width="4" height="31" opacity=".12"/>
<rect x="142" y="285" width="3" height="31" opacity=".13"/>
<rect x="145" y="285" width="2" height="31" opacity=".12"/>
<rect x="147" y="285" width="2" height="31" opacity=".13"/>
<rect x="149" y="285" width="2" height="31" opacity=".12"/>
<rect x="151" y="285" width="7" height="31" opacity=".13"/>
<rect x="158" y="285" width="3" height="31" opacity=".14"/>
<rect x="161" y="285" width="4" height="31" opacity=".13"/>
<rect x="165" y="285" width="1" height="31" opacity=".14"/>
<rect x="166" y="285" width="1" height="31" opacity=".13"/>
<rect x="167" y="285" width="2" height="31" opacity=".14"/>
<rect x="169" y="285" width="1" height="31" opacity=".17"/>
<rect x="170" y="285" width="1" height="31" opacity=".19"/>
<rect x="171" y="285" width="1" height="31" opacity=".2"/>
<rect x="172" y="285" width="8" height="31" opacity=".19"/>
<rect x="180" y="285" width="5" height="31" opacity=".2"/>
<rect x="185" y="285" width="1" height="31" opacity=".19"/>
<rect x="186" y="285" width="2" height="31" opacity=".2"/>
<rect x="188" y="285" width="1" height="31" opacity=".21"/>
<rect x="189" y="285" width="2" height="31" opacity=".2"/>
<rect x="191" y="285" width="1" height="31" opacity=".21"/>
<rect x="192" y="285" width="3" height="31" opacity=".2"/>
<rect x="195" y="285" width="1" height="31" opacity=".21"/>
<rect x="196" y="285" width="1" height="31" opacity=".2"/>
<rect x="197" y="285" width="7" height="31" opacity=".21"/>
<rect x="204" y="285" width="1" height="31" opacity=".22"/>
<rect x="205" y="285" width="6" height="31" opacity=".21"/>
<rect x="211" y="285" width="2" height="31" opacity=".22"/>
<rect x="213" y="285" width="2" height="31" opacity=".21"/>
<rect x="215" y="285" width="4" height="31" opacity=".22"/>
<rect x="219" y="285" width="2" height="31" opacity=".21"/>
<rect x="221" y="285" width="2" height="31" opacity=".22"/>
<rect x="223" y="285" width="2" height="31" opacity=".23"/>
<rect x="225" y="285" width="1" height="31" opacity=".22"/>
<rect x="226" y="285" width="10" height="31" opacity=".23"/>
<rect x="236" y="285" width="1" height="31" opacity=".24"/>
<rect x="237" y="285" width="4" height="31" opacity=".23"/>
<rect x="241" y="285" width="2" height="31" opacity=".24"/>
<rect x="243" y="285" width="1" height="31" opacity=".23"/>
<rect x="244" y="285" width="1" height="31" opacity=".24"/>
<rect x="245" y="285" width="1" height="31" opacity=".23"/>
<rect x="246" y="285" width="12" height="31" opacity=".24"/>
<rect x="258" y="285" width="1" height="31" opacity=".25"/>
<rect x="259" y="285" width="1" height="31" opacity=".24"/>
<rect x="260" y="285" width="10" height="31" opacity=".25"/>
<rect x="270" y="285" width="1" height="31" opacity=".24"/>
<rect x="271" y="285" width="3" height="31" opacity=".26"/>
<rect x="274" y="285" width="10" height="31" opacity=".25"/>
<rect x="284" y="285" width="3" height="31" opacity=".26"/>
<rect x="287" y="285" width="1" height="31" opacity=".25"/>
<rect x="288" y="285" width="1" height="31" opacity=".26"/>
<rect x="289" y="285" width="1" height="31" opacity=".25"/>
<rect x="290" y="285" width="2" height="31" opacity=".26"/>
<rect x="292" y="285" width="1" height="31" opacity=".25"/>
<rect x="293" y="285" width="22" height="31" opacity=".26"/>
<rect x="315" y="285" width="1" height="31" opacity=".25"/>
<rect x="316" y="285" width="3" height="31" opacity=".26"/>
<rect x="319" y="285" width="1" height="31" opacity=".27"/>
<rect x="320" y="285" width="1" height="31" opacity=".25"/>
<rect x="321" y="285" width="4" height="31" opacity=".26"/>
<rect x="325" y="285" width="2" height="31" opacity=".27"/>
<rect x="327" y="285" width="8" height="31" opacity=".26"/>
<rect x="335" y="285" width="2" height="31" opacity=".27"/>
<rect x="337" y="285" width="4" height="31" opacity=".26"/>
<rect x="341" y="285" width="3" height="31" opacity=".27"/>
<rect x="344" y="285" width="1" height="31" opacity=".26"/>
<rect x="345" y="285" width="1" height="31" opacity=".27"/>
<rect x="346" y="285" width="9" height="31" opacity=".26"/>
<rect x="355" y="285" width="1" height="31" opacity=".27"/>
<rect x="356" y="285" width="12" height="31" opacity=".26"/>
<rect x="368" y="285" width="3" height="31" opacity=".27"/>
<rect x="371" y="285" width="10" height="31" opacity=".26"/>
<rect x="381" y="285" width="1" height="31" opacity=".25"/>
<rect x="382" y="285" width="5" height="31" opacity=".26"/>
<rect x="387" y="285" width="1" height="31" opacity=".25"/>
<rect x="388" y="285" width="10" height="31" opacity=".26"/>
<rect x="398" y="285" width="1" height="31" opacity=".25"/>
<rect x="399" y="285" width="2" height="31" opacity=".26"/>
<rect x="401" y="285" width="1" height="31" opacity=".25"/>
<rect x="402" y="285" width="19" height="31" opacity=".26"/>
<rect x="421" y="285" width="1" height="31" opacity=".27"/>
<rect x="422" y="285" width="9" height="31" opacity=".26"/>
<rect x="431" y="285" width="1" height="31" opacity=".27"/>
<rect x="432" y="285" width="2" height="31" opacity=".26"/>
<rect x="434" y="285" width="1" height="31" opacity=".27"/>
<rect x="435" y="285" width="2" height="31" opacity=".26"/>
<rect x="437" y="285" width="2" height="31" opacity=".27"/>
<rect x="439" y="285" width="1" height="31" opacity=".26"/>
<rect x="440" y="285" width="1" height="31" opacity=".27"/>
<rect x="441" y="285" width="2" height="31" opacity=".26"/>
<rect x="443" y="285" width="1" height="31" opacity=".25"/>
<rect x="444" y="285" width="22" height="31" opacity=".26"/>
<rect x="466" y="285" width="1" height="31" opacity=".25"/>
<rect x="467" y="285" width="2" height="31" opacity=".27"/>
<rect x="469" y="285" width="3" height="31" opacity=".26"/>
<rect x="472" y="285" width="3" height="31" opacity=".27"/>
<rect x="475" y="285" width="3" height="31" opacity=".26"/>
<rect x="478" y="285" width="3" height="31" opacity=".25"/>
<rect x="481" y="285" width="2" height="31" opacity=".26"/>
<rect x="483" y="285" width="1" height="31" opacity=".27"/>
<rect x="484" y="285" width="5" height="31" opacity=".26"/>
<rect x="489" y="285" width="2" height="31" opacity=".27"/>
<rect x="491" y="285" width="1" height="31" opacity=".25"/>
<rect x="492" y="285" width="5" height="31" opacity=".26"/>
<rect x="497" y="285" width="3" height="31" opacity=".25"/>
<rect x="500" y="285" width="1" height="31" opacity=".26"/>
<rect x="501" y="285" width="1" height="31" opacity=".25"/>
<rect x="502" y="285" width="10" height="31" opacity=".26"/>
<rect x="512" y="285" width="1" height="31" opacity=".27"/>
<rect x="513" y="285" width="5" height="31" opacity=".26"/>
<rect x="518" y="285" width="1" height="31" opacity=".25"/>
<rect x="519" y="285" width="8" height="31" opacity=".26"/>
<rect x="527" y="285" width="2" height="31" opacity=".27"/>
<rect x="529" y="285" width="4" height="31" opacity=".26"/>
<rect x="533" y="285" width="4" height="31" opacity=".25"/>
<rect x="537" y="285" width="1" height="31" opacity=".26"/>
<rect x="538" y="285" width="2" height="31" opacity=".27"/>
<rect x="540" y="285" width="11" height="31" opacity=".26"/>
<rect x="551" y="285" width="1" height="31" opacity=".25"/>
<rect x="552" y="285" width="3" height="31" opacity=".26"/>
<rect x="555" y="285" width="1" height="31" opacity=".25"/>
<rect x="556" y="285" width="9" height="31" opacity=".26"/>
<rect x="565" y="285" width="2" height="31" opacity=".27"/>
<rect x="567" y="285" width="11" height="31" opacity=".26"/>
<rect x="578" y="285" width="1" height="31" opacity=".27"/>
<rect x="579" y="285" width="15" height="31" opacity=".26"/>
<rect x="594" y="285" width="1" height="31" opacity=".27"/>
<rect x="595" y="285" width="2" height="31" opacity=".26"/>
<rect x="597" y="285" width="1" height="31" opacity=".25"/>
<rect x="598" y="285" width="11" height="31" opacity=".26"/>
<rect x="609" y="285" width="1" height="31" opacity=".27"/>
<rect x="610" y="285" width="6" height="31" opacity=".26"/>
<rect x="616" y="285" width="1" height="31" opacity=".27"/>
<rect x="617" y="285" width="3" height="31" opacity=".26"/>
<rect x="620" y="285" width="2" height="31" opacity=".27"/>
<rect x="622" y="285" width="2" height="31" opacity=".26"/>
<rect x="624" y="285" width="1" height="31" opacity=".25"/>
<rect x="625" y="285" width="9" height="31" opacity=".26"/>
<rect x="634" y="285" width="3" height="31" opacity=".27"/>
<rect x="637" y="285" width="3" height="31" opacity=".26"/>
<rect x="640" y="285" width="1" height="31" opacity=".25"/>
<rect x="641" y="285" width="6" height="31" opacity=".26"/>
<rect x="647" y="285" width="1" height="31" opacity=".25"/>
<rect x="648" y="285" width="2" height="31" opacity=".26"/>
<rect x="650" y="285" width="2" height="31" opacity=".25"/>
<rect x="652" y="285" width="1" height="31" opacity=".26"/>
<rect x="653" y="285" width="1" height="31" opacity=".25"/>
<rect x="654" y="285" width="6" height="31" opacity=".26"/>
<rect x="660" y="285" width="1" height="31" opacity=".25"/>
<rect x="661" y="285" width="1" height="31" opacity=".26"/>
<rect x="662" y="285" width="1" height="31" opacity=".25"/>
<rect x="663" y="285" width="4" height="31" opacity=".26"/>
<rect x="667" y="285" width="1" height="31" opacity=".27"/>
<rect x="668" y="285" width="1" height="31" opacity=".26"/>
<rect x="669" y="285" width="2" height="31" opacity=".27"/>
<rect x="671" y="285" width="5" height="31" opacity=".26"/>
<rect x="676" y="285" width="1" height="31" opacity=".25"/>
<rect x="677" y="285" width="1" height="31" opacity=".27"/>
<rect x="678" y="285" width="3" height="31" opacity=".26"/>
<rect x="681" y="285" width="2" height="31" opacity=".27"/>
<rect x="683" y="285" width="1" height="31" opacity=".26"/>
<rect x="684" y="285" width="1" height="31" opacity=".27"/>
<rect x="685" y="285" width="1" height="31" opacity=".26"/>
<rect x="686" y="285" width="1" height="31" opacity=".27"/>
<rect x="687" y="285" width="1" height="31" opacity=".26"/>
<rect x="688" y="285" width="1" height="31" opacity=".27"/>
<rect x="689" y="285" width="22" height="31" opacity=".26"/>
<rect x="711" y="285" width="1" height="31" opacity=".27"/>
<rect x="712" y="285" width="1" height="31" opacity=".26"/>
<rect x="713" y="285" width="2" height="31" opacity=".27"/>
<rect x="715" y="285" width="11" height="31" opacity=".26"/>
<rect x="726" y="285" width="1" height="31" opacity=".27"/>
<rect x="727" y="285" width="1" height="31" opacity=".26"/>
<rect x="728" y="285" width="1" height="31" opacity=".27"/>
<rect x="729" y="285" width="3" height="31" opacity=".26"/>
<rect x="732" y="285" width="1" height="31" opacity=".27"/>
<rect x="733" y="285" width="17" height="31" opacity=".26"/>
<rect x="750" y="285" width="2" height="31" opacity=".25"/>
<rect x="752" y="285" width="1" height="31" opacity=".26"/>
<rect x="753" y="285" width="2" height="31" opacity=".25"/>
<rect x="755" y="285" width="15" height="31" opacity=".26"/>
<rect x="770" y="285" width="1" height="31" opacity=".25"/>
<rect x="771" y="285" width="17" height="31" opacity=".26"/>
<rect x="788" y="285" width="1" height="31" opacity=".25"/>
<rect x="789" y="285" width="2" height="31" opacity=".26"/>
<rect x="791" y="285" width="2" height="31" opacity=".25"/>
<rect x="793" y="285" width="3" height="31" opacity=".26"/>
<rect x="796" y="285" width="1" height="31" opacity=".25"/>
<rect x="797" y="285" width="2" height="31" opacity=".26"/>
<rect x="799" y="285" width="1" height="31" opacity=".25"/>
<rect x="800" y="285" width="5" height="31" opacity=".26"/>
<rect x="805" y="285" width="2" height="31" opacity=".27"/>
<rect x="807" y="285" width="10" height="31" opacity=".26"/>
<rect x="817" y="285" width="1" height="31" opacity=".25"/>
<rect x="818" y="285" width="3" height="31" opacity=".26"/>
<rect x="821" y="285" width="1" height="31" opacity=".25"/>
<rect x="822" y="285" width="5" height="31" opacity=".26"/>
<rect x="827" y="285" width="1" height="31" opacity=".25"/>
<rect x="828" y="285" width="4" height="31" opacity=".26"/>
<rect x="832" y="285" width="1" height="31" opacity=".27"/>
<rect x="833" y="285" width="4" height="31" opacity=".26"/>
<rect x="837" y="285" width="2" height="31" opacity=".25"/>
<rect x="839" y="285" width="6" height="31" opacity=".26"/>
<rect x="845" y="285" width="1" height="31" opacity=".25"/>
<rect x="846" y="285" width="11" height="31" opacity=".26"/>
<rect x="857" y="285" width="1" height="31" opacity=".27"/>
<rect x="858" y="285" width="4" height="31" opacity=".26"/>
<rect x="862" y="285" width="1" height="31" opacity=".27"/>
<rect x="863" y="285" width="1" height="31" opacity=".26"/>
<rect x="864" y="285" width="1" height="31" opacity=".27"/>
<rect x="865" y="285" width="8" height="31" opacity=".26"/>
<rect x="873" y="285" width="1" height="31" opacity=".27"/>
<rect x="874" y="285" width="3" height="31" opacity=".26"/>
<rect x="877" y="285" width="4" height="31" opacity=".27"/>
<rect x="881" y="285" width="6" height="31" opacity=".26"/>
<rect x="887" y="285" width="2" height="31" opacity=".25"/>
<rect x="889" y="285" width="3" height="31" opacity=".26"/>
<rect x="892" y="285" width="3" height="31" opacity=".25"/>
<rect x="895" y="285" width="4" height="31" opacity=".26"/>
<rect x="899" y="285" width="2" height="31" opacity=".27"/>
<rect x="901" y="285" width="7" height="31" opacity=".26"/>
<rect x="908" y="285" width="1" height="31" opacity=".27"/>
<rect x="909" y="285" width="1" height="31" opacity=".26"/>
<rect x="910" y="285" width="1" height="31" opacity=".27"/>
<rect x="911" y="285" width="1" height="31" opacity=".26"/>
<rect x="912" y="285" width="1" height="31" opacity=".25"/>
<rect x="913" y="285" width="9" height="31" opacity=".26"/>
<rect x="922" y="285" width="1" height="31" opacity=".25"/>
<rect x="923" y="285" width="11" height="31" opacity=".26"/>
</g>
<g>
<rect x="67" y="316" width="867" height="1" fill="#cbcbcb"/>
<rect x="67" y="317" width="867" height="1" fill="#d6d6d6"/>
<rect x="67" y="318" width="867" height="1" fill="#c4c4c4"/>
<rect x="67" y="319" width="867" height="1" fill="#a2a2a2"/>
<rect x="67" y="320" width="867" height="1" fill="#c8c8c8"/>
<rect x="67" y="321" width="867" height="1" fill="#afafaf"/>
<rect x="67" y="322" width="867" height="1" fill="#c2c2c2"/>
<rect x="67" y="323" width="867" height="1" fill="#d1d1d1"/>
<rect x="67" y="324" width="867" height="1" fill="#c8c8c8"/>
<rect x="67" y="325" width="867" height="1" fill="#ababab"/>
<rect x="67" y="326" width="867" height="1" fill="#9c9c9c"/>
<rect x="67" y="327" width="867" height="1" fill="#a3a3a3"/>
<rect x="67" y="328" width="867" height="1" fill="#9f9f9f"/>
<rect x="67" y="329" width="867" height="1" fill="#9c9c9c"/>
<rect x="67" y="330" width="867" height="1" fill="#999999"/>
<rect x="67" y="331" width="867" height="1" fill="#9f9f9f"/>
<rect x="67" y="332" width="867" height="1" fill="#a6a6a6"/>
<rect x="67" y="333" width="867" height="2" fill="#afafaf"/>
<rect x="67" y="335" width="867" height="1" fill="#acacac"/>
<rect x="67" y="336" width="867" height="1" fill="#adadad"/>
<rect x="67" y="337" width="867" height="1" fill="#b8b8b8"/>
<rect x="67" y="338" width="867" height="1" fill="#e9e9e9"/>
<rect x="67" y="339" width="867" height="1" fill="#eeeeee"/>
<rect x="67" y="340" width="867" height="1" fill="#d3d3d3"/>
<rect x="67" y="341" width="867" height="1" fill="#aaaaaa"/>
<rect x="67" y="342" width="867" height="1" fill="#a2a2a2"/>
<rect x="67" y="343" width="867" height="1" fill="#b8b8b8"/>
<rect x="67" y="344" width="867" height="1" fill="#c4c4c4"/>
<rect x="67" y="345" width="867" height="1" fill="#bbbbbb"/>
<rect x="67" y="346" width="867" height="2" fill="#b8b8b8"/>
<rect x="67" y="348" width="867" height="1" fill="#bfbfbf"/>
<rect x="67" y="349" width="867" height="1" fill="#cfcfcf"/>
<rect x="67" y="350" width="867" height="1" fill="#b8b8b8"/>
<rect x="67" y="351" width="867" height="1" fill="#c8c8c8"/>
<rect x="67" y="352" width="867" height="1" fill="#c4c4c4"/>
<rect x="67" y="353" width="867" height="1" fill="#c2c2c2"/>
<rect x="67" y="354" width="867" height="1" fill="#afafaf"/>
<rect x="67" y="355" width="867" height="1" fill="#a4a4a4"/>
<rect x="67" y="356" width="867" height="1" fill="#cbcbcb"/>
<rect x="67" y="357" width="867" height="1" fill="#e5e5e5"/>
<rect x="67" y="358" width="867" height="1" fill="#dbdbdb"/>
<rect x="67" y="359" width="867" height="1" fill="#bfbfbf"/>
<rect x="67" y="360" width="867" height="1" fill="#b8b8b8"/>
<rect x="67" y="361" width="867" height="1" fill="#b6b6b6"/>
<rect x="67" y="316" width="16" height="46" opacity="1"/>
<rect x="83" y="316" width="1" height="46" opacity=".04"/>
<rect x="84" y="316" width="1" height="46" opacity=".01"/>
<rect x="85" y="316" width="2" height="46" opacity=".03"/>
<rect x="87" y="316" width="1" height="46" opacity=".04"/>
<rect x="88" y="316" width="1" height="46" opacity=".03"/>
<rect x="89" y="316" width="1" height="46" opacity=".02"/>
<rect x="90" y="316" width="2" height="46" opacity=".03"/>
<rect x="92" y="316" width="2" height="46" opacity=".02"/>
<rect x="94" y="316" width="1" height="46" opacity=".03"/>
<rect x="95" y="316" width="1" height="46" opacity=".04"/>
<rect x="96" y="316" width="1" height="46" opacity=".03"/>
<rect x="97" y="316" width="1" height="46" opacity=".02"/>
<rect x="99" y="316" width="1" height="46" opacity=".04"/>
<rect x="100" y="316" width="1" height="46" opacity=".02"/>
<rect x="103" y="316" width="1" height="46" opacity=".01"/>
<rect x="104" y="316" width="1" height="46" opacity=".02"/>
<rect x="105" y="316" width="1" height="46" opacity=".03"/>
<rect x="106" y="316" width="1" height="46" opacity=".02"/>
<rect x="107" y="316" width="1" height="46" opacity=".06"/>
<rect x="108" y="316" width="1" height="46" opacity=".02"/>
<rect x="109" y="316" width="1" height="46" opacity=".04"/>
<rect x="110" y="316" width="1" height="46" opacity=".01"/>
<rect x="111" y="316" width="1" height="46" opacity=".02"/>
<rect x="112" y="316" width="1" height="46" opacity=".03"/>
<rect x="113" y="316" width="3" height="46" opacity=".02"/>
<rect x="116" y="316" width="1" height="46" opacity=".01"/>
<rect x="117" y="316" width="1" height="46" opacity=".02"/>
<rect x="118" y="316" width="1" height="46" opacity=".03"/>
<rect x="119" y="316" width="1" height="46" opacity=".02"/>
<rect x="120" y="316" width="1" height="46" opacity=".03"/>
<rect x="121" y="316" width="1" height="46" opacity=".04"/>
<rect x="122" y="316" width="1" height="46" opacity=".05"/>
<rect x="123" y="316" width="3" height="46" opacity=".07"/>
<rect x="126" y="316" width="1" height="46" opacity=".08"/>
<rect x="127" y="316" width="2" height="46" opacity=".11"/>
<rect x="129" y="316" width="2" height="46" opacity=".09"/>
<rect x="131" y="316" width="1" height="46" opacity=".14"/>
<rect x="132" y="316" width="1" height="46" opacity=".11"/>
<rect x="133" y="316" width="1" height="46" opacity=".09"/>
<rect x="134" y="316" width="1" height="46" opacity=".1"/>
<rect x="135" y="316" width="2" height="46" opacity=".08"/>
<rect x="137" y="316" width="1" height="46" opacity=".09"/>
<rect x="138" y="316" width="1" height="46" opacity=".08"/>
<rect x="139" y="316" width="2" height="46" opacity=".09"/>
<rect x="141" y="316" width="1" height="46" opacity=".1"/>
<rect x="142" y="316" width="1" height="46" opacity=".08"/>
<rect x="143" y="316" width="1" height="46" opacity=".1"/>
<rect x="144" y="316" width="1" height="46" opacity=".09"/>
<rect x="145" y="316" width="1" height="46" opacity=".08"/>
<rect x="146" y="316" width="6" height="46" opacity=".1"/>
<rect x="152" y="316" width="1" height="46" opacity=".11"/>
<rect x="153" y="316" width="4" height="46" opacity=".1"/>
<rect x="157" y="316" width="1" height="46" opacity=".09"/>
<rect x="158" y="316" width="1" height="46" opacity=".12"/>
<rect x="159" y="316" width="1" height="46" opacity=".1"/>
<rect x="160" y="316" width="1" height="46" opacity=".09"/>
<rect x="161" y="316" width="1" height="46" opacity=".12"/>
<rect x="162" y="316" width="3" height="46" opacity=".1"/>
<rect x="165" y="316" width="1" height="46" opacity=".09"/>
<rect x="166" y="316" width="1" height="46" opacity=".15"/>
<rect x="167" y="316" width="2" height="46" opacity=".14"/>
<rect x="169" y="316" width="1" height="46" opacity=".13"/>
<rect x="170" y="316" width="1" height="46" opacity=".15"/>
<rect x="171" y="316" width="1" height="46" opacity=".17"/>
<rect x="172" y="316" width="1" height="46" opacity=".13"/>
<rect x="173" y="316" width="1" height="46" opacity=".14"/>
<rect x="174" y="316" width="1" height="46" opacity=".15"/>
<rect x="175" y="316" width="3" height="46" opacity=".17"/>
<rect x="178" y="316" width="1" height="46" opacity=".18"/>
<rect x="179" y="316" width="1" height="46" opacity=".19"/>
<rect x="180" y="316" width="2" height="46" opacity=".17"/>
<rect x="182" y="316" width="1" height="46" opacity=".16"/>
<rect x="183" y="316" width="1" height="46" opacity=".17"/>
<rect x="184" y="316" width="1" height="46" opacity=".2"/>
<rect x="185" y="316" width="1" height="46" opacity=".15"/>
<rect x="186" y="316" width="1" height="46" opacity=".17"/>
<rect x="187" y="316" width="1" height="46" opacity=".18"/>
<rect x="188" y="316" width="1" height="46" opacity=".17"/>
<rect x="189" y="316" width="1" height="46" opacity=".18"/>
<rect x="190" y="316" width="3" height="46" opacity=".17"/>
<rect x="193" y="316" width="1" height="46" opacity=".18"/>
<rect x="194" y="316" width="1" height="46" opacity=".19"/>
<rect x="195" y="316" width="1" height="46" opacity=".17"/>
<rect x="196" y="316" width="1" height="46" opacity=".2"/>
<rect x="197" y="316" width="1" height="46" opacity=".19"/>
<rect x="198" y="316" width="1" height="46" opacity=".2"/>
<rect x="199" y="316" width="2" height="46" opacity=".21"/>
<rect x="201" y="316" width="2" height="46" opacity=".22"/>
<rect x="203" y="316" width="1" height="46" opacity=".24"/>
<rect x="204" y="316" width="1" height="46" opacity=".22"/>
<rect x="205" y="316" width="1" height="46" opacity=".21"/>
<rect x="206" y="316" width="1" height="46" opacity=".22"/>
<rect x="207" y="316" width="1" height="46" opacity=".24"/>
<rect x="208" y="316" width="1" height="46" opacity=".23"/>
<rect x="209" y="316" width="2" height="46" opacity=".24"/>
<rect x="211" y="316" width="1" height="46" opacity=".21"/>
<rect x="212" y="316" width="1" height="46" opacity=".22"/>
<rect x="213" y="316" width="1" height="46" opacity=".2"/>
<rect x="214" y="316" width="1" height="46" opacity=".21"/>
<rect x="215" y="316" width="2" height="46" opacity=".22"/>
<rect x="217" y="316" width="1" height="46" opacity=".21"/>
<rect x="218" y="316" width="1" height="46" opacity=".22"/>
<rect x="219" y="316" width="1" height="46" opacity=".23"/>
<rect x="220" y="316" width="1" height="46" opacity=".24"/>
<rect x="221" y="316" width="2" height="46" opacity=".2"/>
<rect x="223" y="316" width="1" height="46" opacity=".22"/>
<rect x="224" y="316" width="1" height="46" opacity=".23"/>
<rect x="225" y="316" width="2" height="46" opacity=".22"/>
<rect x="227" y="316" width="1" height="46" opacity=".24"/>
<rect x="228" y="316" width="3" height="46" opacity=".22"/>
<rect x="231" y="316" width="2" height="46" opacity=".25"/>
<rect x="233" y="316" width="2" height="46" opacity=".22"/>
<rect x="235" y="316" width="1" height="46" opacity=".2"/>
<rect x="236" y="316" width="1" height="46" opacity=".22"/>
<rect x="237" y="316" width="1" height="46" opacity=".21"/>
<rect x="238" y="316" width="1" height="46" opacity=".24"/>
<rect x="239" y="316" width="2" height="46" opacity=".22"/>
<rect x="241" y="316" width="1" height="46" opacity=".21"/>
<rect x="242" y="316" width="1" height="46" opacity=".22"/>
<rect x="243" y="316" width="1" height="46" opacity=".23"/>
<rect x="244" y="316" width="1" height="46" opacity=".24"/>
<rect x="245" y="316" width="1" height="46" opacity=".22"/>
<rect x="246" y="316" width="1" height="46" opacity=".21"/>
<rect x="247" y="316" width="1" height="46" opacity=".19"/>
<rect x="248" y="316" width="1" height="46" opacity=".2"/>
<rect x="249" y="316" width="1" height="46" opacity=".23"/>
<rect x="250" y="316" width="1" height="46" opacity=".21"/>
<rect x="251" y="316" width="1" height="46" opacity=".18"/>
<rect x="252" y="316" width="1" height="46" opacity=".19"/>
<rect x="253" y="316" width="1" height="46" opacity=".2"/>
<rect x="254" y="316" width="3" height="46" opacity=".19"/>
<rect x="257" y="316" width="2" height="46" opacity=".18"/>
<rect x="259" y="316" width="1" height="46" opacity=".2"/>
<rect x="260" y="316" width="2" height="46" opacity=".23"/>
<rect x="262" y="316" width="1" height="46" opacity=".21"/>
<rect x="263" y="316" width="1" height="46" opacity=".19"/>
<rect x="264" y="316" width="1" height="46" opacity=".18"/>
<rect x="265" y="316" width="1" height="46" opacity=".19"/>
<rect x="266" y="316" width="2" height="46" opacity=".2"/>
<rect x="268" y="316" width="2" height="46" opacity=".19"/>
<rect x="270" y="316" width="1" height="46" opacity=".2"/>
<rect x="271" y="316" width="1" height="46" opacity=".18"/>
<rect x="272" y="316" width="1" height="46" opacity=".19"/>
<rect x="273" y="316" width="2" height="46" opacity=".18"/>
<rect x="275" y="316" width="1" height="46" opacity=".19"/>
<rect x="276" y="316" width="1" height="46" opacity=".18"/>
<rect x="277" y="316" width="1" height="46" opacity=".22"/>
<rect x="278" y="316" width="1" height="46" opacity=".21"/>
<rect x="279" y="316" width="1" height="46" opacity=".2"/>
<rect x="280" y="316" width="2" height="46" opacity=".22"/>
<rect x="282" y="316" width="1" height="46" opacity=".2"/>
<rect x="283" y="316" width="3" height="46" opacity=".18"/>
<rect x="286" y="316" width="2" height="46" opacity=".2"/>
<rect x="288" y="316" width="1" height="46" opacity=".17"/>
<rect x="289" y="316" width="1" height="46" opacity=".19"/>
<rect x="290" y="316" width="2" height="46" opacity=".21"/>
<rect x="292" y="316" width="1" height="46" opacity=".2"/>
<rect x="293" y="316" width="2" height="46" opacity=".18"/>
<rect x="295" y="316" width="1" height="46" opacity=".19"/>
<rect x="296" y="316" width="4" height="46" opacity=".18"/>
<rect x="300" y="316" width="1" height="46" opacity=".19"/>
<rect x="301" y="316" width="1" height="46" opacity=".2"/>
<rect x="302" y="316" width="1" height="46" opacity=".19"/>
<rect x="303" y="316" width="1" height="46" opacity=".21"/>
<rect x="304" y="316" width="1" height="46" opacity=".18"/>
<rect x="305" y="316" width="1" height="46" opacity=".2"/>
<rect x="306" y="316" width="2" height="46" opacity=".19"/>
<rect x="308" y="316" width="1" height="46" opacity=".2"/>
<rect x="309" y="316" width="2" height="46" opacity=".18"/>
<rect x="311" y="316" width="3" height="46" opacity=".19"/>
<rect x="314" y="316" width="1" height="46" opacity=".18"/>
<rect x="315" y="316" width="2" height="46" opacity=".2"/>
<rect x="317" y="316" width="2" height="46" opacity=".19"/>
<rect x="319" y="316" width="1" height="46" opacity=".18"/>
<rect x="320" y="316" width="1" height="46" opacity=".17"/>
<rect x="321" y="316" width="1" height="46" opacity=".2"/>
<rect x="322" y="316" width="2" height="46" opacity=".17"/>
<rect x="324" y="316" width="1" height="46" opacity=".2"/>
<rect x="325" y="316" width="1" height="46" opacity=".17"/>
<rect x="326" y="316" width="1" height="46" opacity=".16"/>
<rect x="327" y="316" width="2" height="46" opacity=".2"/>
<rect x="329" y="316" width="8" height="46" opacity=".18"/>
<rect x="337" y="316" width="1" height="46" opacity=".2"/>
<rect x="338" y="316" width="5" height="46" opacity=".19"/>
<rect x="343" y="316" width="2" height="46" opacity=".2"/>
<rect x="345" y="316" width="1" height="46" opacity=".18"/>
<rect x="346" y="316" width="1" height="46" opacity=".19"/>
<rect x="347" y="316" width="1" height="46" opacity=".17"/>
<rect x="348" y="316" width="1" height="46" opacity=".19"/>
<rect x="349" y="316" width="1" height="46" opacity=".2"/>
<rect x="350" y="316" width="1" height="46" opacity=".18"/>
<rect x="351" y="316" width="1" height="46" opacity=".19"/>
<rect x="352" y="316" width="2" height="46" opacity=".2"/>
<rect x="354" y="316" width="1" height="46" opacity=".21"/>
<rect x="355" y="316" width="1" height="46" opacity=".2"/>
<rect x="356" y="316" width="1" height="46" opacity=".19"/>
<rect x="357" y="316" width="1" height="46" opacity=".2"/>
<rect x="358" y="316" width="1" height="46" opacity=".21"/>
<rect x="359" y="316" width="1" height="46" opacity=".17"/>
<rect x="360" y="316" width="2" height="46" opacity=".21"/>
<rect x="362" y="316" width="1" height="46" opacity=".19"/>
<rect x="363" y="316" width="2" height="46" opacity=".2"/>
<rect x="365" y="316" width="2" height="46" opacity=".19"/>
<rect x="367" y="316" width="1" height="46" opacity=".18"/>
<rect x="368" y="316" width="1" height="46" opacity=".2"/>
<rect x="369" y="316" width="1" height="46" opacity=".21"/>
<rect x="370" y="316" width="4" height="46" opacity=".18"/>
<rect x="374" y="316" width="1" height="46" opacity=".17"/>
<rect x="375" y="316" width="1" height="46" opacity=".19"/>
<rect x="376" y="316" width="1" height="46" opacity=".2"/>
<rect x="377" y="316" width="1" height="46" opacity=".18"/>
<rect x="378" y="316" width="1" height="46" opacity=".22"/>
<rect x="379" y="316" width="1" height="46" opacity=".2"/>
<rect x="380" y="316" width="1" height="46" opacity=".18"/>
<rect x="381" y="316" width="1" height="46" opacity=".19"/>
<rect x="382" y="316" width="2" height="46" opacity=".2"/>
<rect x="384" y="316" width="2" height="46" opacity=".19"/>
<rect x="386" y="316" width="1" height="46" opacity=".21"/>
<rect x="387" y="316" width="1" height="46" opacity=".2"/>
<rect x="388" y="316" width="1" height="46" opacity=".18"/>
<rect x="389" y="316" width="1" height="46" opacity=".21"/>
<rect x="390" y="316" width="1" height="46" opacity=".23"/>
<rect x="391" y="316" width="1" height="46" opacity=".21"/>
<rect x="392" y="316" width="3" height="46" opacity=".2"/>
<rect x="395" y="316" width="1" height="46" opacity=".22"/>
<rect x="396" y="316" width="2" height="46" opacity=".2"/>
<rect x="398" y="316" width="2" height="46" opacity=".21"/>
<rect x="400" y="316" width="2" height="46" opacity=".22"/>
<rect x="402" y="316" width="1" height="46" opacity=".23"/>
<rect x="403" y="316" width="2" height="46" opacity=".2"/>
<rect x="405" y="316" width="1" height="46" opacity=".21"/>
<rect x="406" y="316" width="2" height="46" opacity=".22"/>
<rect x="408" y="316" width="2" height="46" opacity=".24"/>
<rect x="410" y="316" width="1" height="46" opacity=".21"/>
<rect x="411" y="316" width="2" height="46" opacity=".2"/>
<rect x="413" y="316" width="1" height="46" opacity=".19"/>
<rect x="414" y="316" width="1" height="46" opacity=".18"/>
<rect x="415" y="316" width="1" height="46" opacity=".21"/>
<rect x="416" y="316" width="1" height="46" opacity=".2"/>
<rect x="417" y="316" width="2" height="46" opacity=".22"/>
<rect x="419" y="316" width="1" height="46" opacity=".2"/>
<rect x="420" y="316" width="1" height="46" opacity=".21"/>
<rect x="421" y="316" width="1" height="46" opacity=".2"/>
<rect x="422" y="316" width="1" height="46" opacity=".22"/>
<rect x="423" y="316" width="1" height="46" opacity=".23"/>
<rect x="424" y="316" width="2" height="46" opacity=".22"/>
<rect x="426" y="316" width="1" height="46" opacity=".2"/>
<rect x="427" y="316" width="1" height="46" opacity=".19"/>
<rect x="428" y="316" width="4" height="46" opacity=".21"/>
<rect x="432" y="316" width="1" height="46" opacity=".24"/>
<rect x="433" y="316" width="2" height="46" opacity=".21"/>
<rect x="435" y="316" width="1" height="46" opacity=".23"/>
<rect x="436" y="316" width="1" height="46" opacity=".26"/>
<rect x="437" y="316" width="1" height="46" opacity=".24"/>
<rect x="438" y="316" width="2" height="46" opacity=".22"/>
<rect x="440" y="316" width="1" height="46" opacity=".23"/>
<rect x="441" y="316" width="2" height="46" opacity=".2"/>
<rect x="443" y="316" width="2" height="46" opacity=".22"/>
<rect x="445" y="316" width="1" height="46" opacity=".21"/>
<rect x="446" y="316" width="2" height="46" opacity=".2"/>
<rect x="448" y="316" width="1" height="46" opacity=".21"/>
<rect x="449" y="316" width="2" height="46" opacity=".2"/>
<rect x="451" y="316" width="1" height="46" opacity=".21"/>
<rect x="452" y="316" width="1" height="46" opacity=".2"/>
<rect x="453" y="316" width="1" height="46" opacity=".19"/>
<rect x="454" y="316" width="2" height="46" opacity=".2"/>
<rect x="456" y="316" width="1" height="46" opacity=".18"/>
<rect x="457" y="316" width="1" height="46" opacity=".17"/>
<rect x="458" y="316" width="2" height="46" opacity=".18"/>
<rect x="460" y="316" width="1" height="46" opacity=".17"/>
<rect x="461" y="316" width="2" height="46" opacity=".18"/>
<rect x="463" y="316" width="2" height="46" opacity=".19"/>
<rect x="465" y="316" width="1" height="46" opacity=".18"/>
<rect x="466" y="316" width="1" height="46" opacity=".17"/>
<rect x="467" y="316" width="1" height="46" opacity=".2"/>
<rect x="468" y="316" width="1" height="46" opacity=".21"/>
<rect x="469" y="316" width="1" height="46" opacity=".22"/>
<rect x="470" y="316" width="1" height="46" opacity=".23"/>
<rect x="471" y="316" width="1" height="46" opacity=".19"/>
<rect x="472" y="316" width="1" height="46" opacity=".22"/>
<rect x="473" y="316" width="2" height="46" opacity=".21"/>
<rect x="475" y="316" width="1" height="46" opacity=".2"/>
<rect x="476" y="316" width="1" height="46" opacity=".21"/>
<rect x="477" y="316" width="1" height="46" opacity=".17"/>
<rect x="478" y="316" width="2" height="46" opacity=".18"/>
<rect x="480" y="316" width="1" height="46" opacity=".19"/>
<rect x="481" y="316" width="1" height="46" opacity=".18"/>
<rect x="482" y="316" width="1" height="46" opacity=".21"/>
<rect x="483" y="316" width="1" height="46" opacity=".18"/>
<rect x="484" y="316" width="1" height="46" opacity=".19"/>
<rect x="485" y="316" width="1" height="46" opacity=".2"/>
<rect x="486" y="316" width="1" height="46" opacity=".21"/>
<rect x="487" y="316" width="1" height="46" opacity=".18"/>
<rect x="488" y="316" width="4" height="46" opacity=".2"/>
<rect x="492" y="316" width="1" height="46" opacity=".22"/>
<rect x="493" y="316" width="2" height="46" opacity=".2"/>
<rect x="495" y="316" width="4" height="46" opacity=".19"/>
<rect x="499" y="316" width="2" height="46" opacity=".22"/>
<rect x="501" y="316" width="1" height="46" opacity=".23"/>
<rect x="502" y="316" width="1" height="46" opacity=".2"/>
<rect x="503" y="316" width="2" height="46" opacity=".19"/>
<rect x="505" y="316" width="1" height="46" opacity=".17"/>
<rect x="506" y="316" width="1" height="46" opacity=".18"/>
<rect x="507" y="316" width="1" height="46" opacity=".2"/>
<rect x="508" y="316" width="1" height="46" opacity=".21"/>
<rect x="509" y="316" width="1" height="46" opacity=".22"/>
<rect x="510" y="316" width="3" height="46" opacity=".21"/>
<rect x="513" y="316" width="1" height="46" opacity=".19"/>
<rect x="514" y="316" width="1" height="46" opacity=".2"/>
<rect x="515" y="316" width="1" height="46" opacity=".19"/>
<rect x="516" y="316" width="1" height="46" opacity=".18"/>
<rect x="517" y="316" width="1" height="46" opacity=".17"/>
<rect x="518" y="316" width="3" height="46" opacity=".19"/>
<rect x="521" y="316" width="1" height="46" opacity=".18"/>
<rect x="522" y="316" width="1" height="46" opacity=".19"/>
<rect x="523" y="316" width="1" height="46" opacity=".2"/>
<rect x="524" y="316" width="3" height="46" opacity=".21"/>
<rect x="527" y="316" width="2" height="46" opacity=".19"/>
<rect x="529" y="316" width="1" height="46" opacity=".18"/>
<rect x="530" y="316" width="1" height="46" opacity=".19"/>
<rect x="531" y="316" width="1" height="46" opacity=".18"/>
<rect x="532" y="316" width="1" height="46" opacity=".19"/>
<rect x="533" y="316" width="2" height="46" opacity=".2"/>
<rect x="535" y="316" width="3" height="46" opacity=".18"/>
<rect x="538" y="316" width="1" height="46" opacity=".17"/>
<rect x="539" y="316" width="2" height="46" opacity=".19"/>
<rect x="541" y="316" width="1" height="46" opacity=".18"/>
<rect x="542" y="316" width="1" height="46" opacity=".19"/>
<rect x="543" y="316" width="1" height="46" opacity=".21"/>
<rect x="544" y="316" width="1" height="46" opacity=".22"/>
<rect x="545" y="316" width="1" height="46" opacity=".19"/>
<rect x="546" y="316" width="1" height="46" opacity=".2"/>
<rect x="547" y="316" width="1" height="46" opacity=".19"/>
<rect x="548" y="316" width="2" height="46" opacity=".21"/>
<rect x="550" y="316" width="1" height="46" opacity=".2"/>
<rect x="551" y="316" width="1" height="46" opacity=".19"/>
<rect x="552" y="316" width="1" height="46" opacity=".18"/>
<rect x="553" y="316" width="2" height="46" opacity=".19"/>
<rect x="555" y="316" width="1" height="46" opacity=".2"/>
<rect x="556" y="316" width="1" height="46" opacity=".19"/>
<rect x="557" y="316" width="2" height="46" opacity=".2"/>
<rect x="559" y="316" width="1" height="46" opacity=".21"/>
<rect x="560" y="316" width="1" height="46" opacity=".2"/>
<rect x="561" y="316" width="1" height="46" opacity=".19"/>
<rect x="562" y="316" width="1" height="46" opacity=".2"/>
<rect x="563" y="316" width="2" height="46" opacity=".21"/>
<rect x="565" y="316" width="2" height="46" opacity=".22"/>
<rect x="567" y="316" width="1" height="46" opacity=".23"/>
<rect x="568" y="316" width="1" height="46" opacity=".27"/>
<rect x="569" y="316" width="1" height="46" opacity=".23"/>
<rect x="570" y="316" width="1" height="46" opacity=".24"/>
<rect x="571" y="316" width="1" height="46" opacity=".23"/>
<rect x="572" y="316" width="1" height="46" opacity=".22"/>
<rect x="573" y="316" width="1" height="46" opacity=".23"/>
<rect x="574" y="316" width="1" height="46" opacity=".21"/>
<rect x="575" y="316" width="1" height="46" opacity=".26"/>
<rect x="576" y="316" width="1" height="46" opacity=".27"/>
<rect x="577" y="316" width="1" height="46" opacity=".26"/>
<rect x="578" y="316" width="1" height="46" opacity=".25"/>
<rect x="579" y="316" width="1" height="46" opacity=".23"/>
<rect x="580" y="316" width="1" height="46" opacity=".24"/>
<rect x="581" y="316" width="1" height="46" opacity=".25"/>
<rect x="582" y="316" width="5" height="46" opacity=".24"/>
<rect x="587" y="316" width="1" height="46" opacity=".23"/>
<rect x="588" y="316" width="1" height="46" opacity=".24"/>
<rect x="589" y="316" width="1" height="46" opacity=".22"/>
<rect x="590" y="316" width="1" height="46" opacity=".21"/>
<rect x="591" y="316" width="1" height="46" opacity=".2"/>
<rect x="592" y="316" width="1" height="46" opacity=".23"/>
<rect x="593" y="316" width="1" height="46" opacity=".22"/>
<rect x="594" y="316" width="1" height="46" opacity=".24"/>
<rect x="595" y="316" width="2" height="46" opacity=".23"/>
<rect x="597" y="316" width="1" height="46" opacity=".22"/>
<rect x="598" y="316" width="1" height="46" opacity=".23"/>
<rect x="599" y="316" width="5" height="46" opacity=".22"/>
<rect x="604" y="316" width="2" height="46" opacity=".24"/>
<rect x="606" y="316" width="1" height="46" opacity=".25"/>
<rect x="607" y="316" width="1" height="46" opacity=".24"/>
<rect x="608" y="316" width="1" height="46" opacity=".21"/>
<rect x="609" y="316" width="1" height="46" opacity=".24"/>
<rect x="610" y="316" width="1" height="46" opacity=".23"/>
<rect x="611" y="316" width="1" height="46" opacity=".22"/>
<rect x="612" y="316" width="2" height="46" opacity=".21"/>
<rect x="614" y="316" width="1" height="46" opacity=".2"/>
<rect x="615" y="316" width="1" height="46" opacity=".21"/>
<rect x="616" y="316" width="3" height="46" opacity=".22"/>
<rect x="619" y="316" width="1" height="46" opacity=".23"/>
<rect x="620" y="316" width="1" height="46" opacity=".22"/>
<rect x="621" y="316" width="1" height="46" opacity=".23"/>
<rect x="622" y="316" width="1" height="46" opacity=".22"/>
<rect x="623" y="316" width="3" height="46" opacity=".23"/>
<rect x="626" y="316" width="1" height="46" opacity=".24"/>
<rect x="627" y="316" width="2" height="46" opacity=".23"/>
<rect x="629" y="316" width="2" height="46" opacity=".24"/>
<rect x="631" y="316" width="1" height="46" opacity=".23"/>
<rect x="632" y="316" width="1" height="46" opacity=".22"/>
<rect x="633" y="316" width="1" height="46" opacity=".23"/>
<rect x="634" y="316" width="1" height="46" opacity=".24"/>
<rect x="635" y="316" width="1" height="46" opacity=".23"/>
<rect x="636" y="316" width="1" height="46" opacity=".25"/>
<rect x="637" y="316" width="1" height="46" opacity=".26"/>
<rect x="638" y="316" width="4" height="46" opacity=".24"/>
<rect x="642" y="316" width="3" height="46" opacity=".23"/>
<rect x="645" y="316" width="1" height="46" opacity=".22"/>
<rect x="646" y="316" width="1" height="46" opacity=".21"/>
<rect x="647" y="316" width="2" height="46" opacity=".23"/>
<rect x="649" y="316" width="1" height="46" opacity=".22"/>
<rect x="650" y="316" width="1" height="46" opacity=".23"/>
<rect x="651" y="316" width="1" height="46" opacity=".21"/>
<rect x="652" y="316" width="3" height="46" opacity=".23"/>
<rect x="655" y="316" width="2" height="46" opacity=".24"/>
<rect x="657" y="316" width="2" height="46" opacity=".22"/>
<rect x="659" y="316" width="3" height="46" opacity=".24"/>
<rect x="662" y="316" width="1" height="46" opacity=".23"/>
<rect x="663" y="316" width="1" height="46" opacity=".26"/>
<rect x="664" y="316" width="1" height="46" opacity=".23"/>
<rect x="665" y="316" width="1" height="46" opacity=".24"/>
<rect x="666" y="316" width="1" height="46" opacity=".25"/>
<rect x="667" y="316" width="1" height="46" opacity=".23"/>
<rect x="668" y="316" width="2" height="46" opacity=".24"/>
<rect x="670" y="316" width="3" height="46" opacity=".25"/>
<rect x="673" y="316" width="3" height="46" opacity=".23"/>
<rect x="676" y="316" width="1" height="46" opacity=".24"/>
<rect x="677" y="316" width="4" height="46" opacity=".23"/>
<rect x="681" y="316" width="2" height="46" opacity=".22"/>
<rect x="683" y="316" width="1" height="46" opacity=".23"/>
<rect x="684" y="316" width="2" height="46" opacity=".22"/>
<rect x="686" y="316" width="2" height="46" opacity=".23"/>
<rect x="688" y="316" width="4" height="46" opacity=".22"/>
<rect x="692" y="316" width="1" height="46" opacity=".23"/>
<rect x="693" y="316" width="2" height="46" opacity=".24"/>
<rect x="695" y="316" width="5" height="46" opacity=".23"/>
<rect x="700" y="316" width="3" height="46" opacity=".25"/>
<rect x="703" y="316" width="2" height="46" opacity=".24"/>
<rect x="705" y="316" width="1" height="46" opacity=".23"/>
<rect x="706" y="316" width="1" height="46" opacity=".24"/>
<rect x="707" y="316" width="1" height="46" opacity=".23"/>
<rect x="708" y="316" width="1" height="46" opacity=".25"/>
<rect x="709" y="316" width="3" height="46" opacity=".24"/>
<rect x="712" y="316" width="1" height="46" opacity=".23"/>
<rect x="713" y="316" width="1" height="46" opacity=".22"/>
<rect x="714" y="316" width="2" height="46" opacity=".24"/>
<rect x="716" y="316" width="1" height="46" opacity=".22"/>
<rect x="717" y="316" width="1" height="46" opacity=".23"/>
<rect x="718" y="316" width="1" height="46" opacity=".27"/>
<rect x="719" y="316" width="1" height="46" opacity=".26"/>
<rect x="720" y="316" width="1" height="46" opacity=".25"/>
<rect x="721" y="316" width="1" height="46" opacity=".27"/>
<rect x="722" y="316" width="1" height="46" opacity=".25"/>
<rect x="723" y="316" width="1" height="46" opacity=".27"/>
<rect x="724" y="316" width="1" height="46" opacity=".24"/>
<rect x="725" y="316" width="2" height="46" opacity=".25"/>
<rect x="727" y="316" width="4" height="46" opacity=".22"/>
<rect x="731" y="316" width="2" height="46" opacity=".23"/>
<rect x="733" y="316" width="2" height="46" opacity=".24"/>
<rect x="735" y="316" width="2" height="46" opacity=".23"/>
<rect x="737" y="316" width="2" height="46" opacity=".25"/>
<rect x="739" y="316" width="1" height="46" opacity=".23"/>
<rect x="740" y="316" width="7" height="46" opacity=".24"/>
<rect x="747" y="316" width="1" height="46" opacity=".23"/>
<rect x="748" y="316" width="2" height="46" opacity=".24"/>
<rect x="750" y="316" width="1" height="46" opacity=".23"/>
<rect x="751" y="316" width="1" height="46" opacity=".24"/>
<rect x="752" y="316" width="1" height="46" opacity=".22"/>
<rect x="753" y="316" width="2" height="46" opacity=".24"/>
<rect x="755" y="316" width="1" height="46" opacity=".25"/>
<rect x="756" y="316" width="1" height="46" opacity=".22"/>
<rect x="757" y="316" width="4" height="46" opacity=".24"/>
<rect x="761" y="316" width="1" height="46" opacity=".23"/>
<rect x="762" y="316" width="2" height="46" opacity=".24"/>
<rect x="764" y="316" width="1" height="46" opacity=".23"/>
<rect x="765" y="316" width="1" height="46" opacity=".24"/>
<rect x="766" y="316" width="1" height="46" opacity=".23"/>
<rect x="767" y="316" width="1" height="46" opacity=".21"/>
<rect x="768" y="316" width="2" height="46" opacity=".23"/>
<rect x="770" y="316" width="2" height="46" opacity=".24"/>
<rect x="772" y="316" width="1" height="46" opacity=".23"/>
<rect x="773" y="316" width="1" height="46" opacity=".24"/>
<rect x="774" y="316" width="1" height="46" opacity=".23"/>
<rect x="775" y="316" width="1" height="46" opacity=".24"/>
<rect x="776" y="316" width="1" height="46" opacity=".27"/>
<rect x="777" y="316" width="1" height="46" opacity=".23"/>
<rect x="778" y="316" width="1" height="46" opacity=".24"/>
<rect x="779" y="316" width="1" height="46" opacity=".23"/>
<rect x="780" y="316" width="1" height="46" opacity=".25"/>
<rect x="781" y="316" width="1" height="46" opacity=".23"/>
<rect x="782" y="316" width="1" height="46" opacity=".21"/>
<rect x="783" y="316" width="1" height="46" opacity=".24"/>
<rect x="784" y="316" width="1" height="46" opacity=".22"/>
<rect x="785" y="316" width="1" height="46" opacity=".23"/>
<rect x="786" y="316" width="2" height="46" opacity=".22"/>
<rect x="788" y="316" width="1" height="46" opacity=".23"/>
<rect x="789" y="316" width="1" height="46" opacity=".24"/>
<rect x="790" y="316" width="1" height="46" opacity=".23"/>
<rect x="791" y="316" width="3" height="46" opacity=".24"/>
<rect x="794" y="316" width="1" height="46" opacity=".25"/>
<rect x="795" y="316" width="1" height="46" opacity=".24"/>
<rect x="796" y="316" width="1" height="46" opacity=".23"/>
<rect x="797" y="316" width="1" height="46" opacity=".22"/>
<rect x="798" y="316" width="1" height="46" opacity=".23"/>
<rect x="799" y="316" width="1" height="46" opacity=".24"/>
<rect x="800" y="316" width="1" height="46" opacity=".25"/>
<rect x="801" y="316" width="2" height="46" opacity=".23"/>
<rect x="803" y="316" width="1" height="46" opacity=".25"/>
<rect x="804" y="316" width="1" height="46" opacity=".24"/>
<rect x="805" y="316" width="1" height="46" opacity=".22"/>
<rect x="806" y="316" width="1" height="46" opacity=".23"/>
<rect x="807" y="316" width="1" height="46" opacity=".22"/>
<rect x="808" y="316" width="1" height="46" opacity=".23"/>
<rect x="809" y="316" width="1" height="46" opacity=".24"/>
<rect x="810" y="316" width="1" height="46" opacity=".25"/>
<rect x="811" y="316" width="2" height="46" opacity=".23"/>
<rect x="813" y="316" width="2" height="46" opacity=".24"/>
<rect x="815" y="316" width="1" height="46" opacity=".26"/>
<rect x="816" y="316" width="1" height="46" opacity=".25"/>
<rect x="817" y="316" width="1" height="46" opacity=".26"/>
<rect x="818" y="316" width="1" height="46" opacity=".23"/>
<rect x="819" y="316" width="3" height="46" opacity=".24"/>
<rect x="822" y="316" width="1" height="46" opacity=".25"/>
<rect x="823" y="316" width="1" height="46" opacity=".26"/>
<rect x="824" y="316" width="2" height="46" opacity=".23"/>
<rect x="826" y="316" width="2" height="46" opacity=".24"/>
<rect x="828" y="316" width="1" height="46" opacity=".22"/>
<rect x="829" y="316" width="1" height="46" opacity=".23"/>
<rect x="830" y="316" width="1" height="46" opacity=".24"/>
<rect x="831" y="316" width="3" height="46" opacity=".23"/>
<rect x="834" y="316" width="1" height="46" opacity=".24"/>
<rect x="835" y="316" width="3" height="46" opacity=".23"/>
<rect x="838" y="316" width="2" height="46" opacity=".24"/>
<rect x="840" y="316" width="3" height="46" opacity=".23"/>
<rect x="843" y="316" width="2" height="46" opacity=".24"/>
<rect x="845" y="316" width="1" height="46" opacity=".22"/>
<rect x="846" y="316" width="1" height="46" opacity=".23"/>
<rect x="847" y="316" width="1" height="46" opacity=".24"/>
<rect x="848" y="316" width="5" height="46" opacity=".23"/>
<rect x="853" y="316" width="1" height="46" opacity=".22"/>
<rect x="854" y="316" width="3" height="46" opacity=".24"/>
<rect x="857" y="316" width="2" height="46" opacity=".22"/>
<rect x="859" y="316" width="1" height="46" opacity=".23"/>
<rect x="860" y="316" width="1" height="46" opacity=".22"/>
<rect x="861" y="316" width="1" height="46" opacity=".23"/>
<rect x="862" y="316" width="1" height="46" opacity=".24"/>
<rect x="863" y="316" width="1" height="46" opacity=".23"/>
<rect x="864" y="316" width="1" height="46" opacity=".24"/>
<rect x="865" y="316" width="1" height="46" opacity=".25"/>
<rect x="866" y="316" width="1" height="46" opacity=".27"/>
<rect x="867" y="316" width="1" height="46" opacity=".25"/>
<rect x="868" y="316" width="1" height="46" opacity=".24"/>
<rect x="869" y="316" width="1" height="46" opacity=".25"/>
<rect x="870" y="316" width="4" height="46" opacity=".23"/>
<rect x="874" y="316" width="1" height="46" opacity=".24"/>
<rect x="875" y="316" width="1" height="46" opacity=".23"/>
<rect x="876" y="316" width="1" height="46" opacity=".24"/>
<rect x="877" y="316" width="2" height="46" opacity=".23"/>
<rect x="879" y="316" width="1" height="46" opacity=".24"/>
<rect x="880" y="316" width="2" height="46" opacity=".23"/>
<rect x="882" y="316" width="2" height="46" opacity=".24"/>
<rect x="884" y="316" width="1" height="46" opacity=".23"/>
<rect x="885" y="316" width="2" height="46" opacity=".24"/>
<rect x="887" y="316" width="3" height="46" opacity=".23"/>
<rect x="890" y="316" width="3" height="46" opacity=".24"/>
<rect x="893" y="316" width="1" height="46" opacity=".23"/>
<rect x="894" y="316" width="1" height="46" opacity=".22"/>
<rect x="895" y="316" width="1" height="46" opacity=".21"/>
<rect x="896" y="316" width="1" height="46" opacity=".2"/>
<rect x="897" y="316" width="1" height="46" opacity=".23"/>
<rect x="898" y="316" width="2" height="46" opacity=".22"/>
<rect x="900" y="316" width="1" height="46" opacity=".21"/>
<rect x="901" y="316" width="4" height="46" opacity=".22"/>
<rect x="905" y="316" width="2" height="46" opacity=".23"/>
<rect x="907" y="316" width="1" height="46" opacity=".24"/>
<rect x="908" y="316" width="2" height="46" opacity=".23"/>
<rect x="910" y="316" width="1" height="46" opacity=".26"/>
<rect x="911" y="316" width="2" height="46" opacity=".23"/>
<rect x="913" y="316" width="1" height="46" opacity=".25"/>
<rect x="914" y="316" width="1" height="46" opacity=".23"/>
<rect x="915" y="316" width="1" height="46" opacity=".24"/>
<rect x="916" y="316" width="1" height="46" opacity=".25"/>
<rect x="917" y="316" width="2" height="46" opacity=".22"/>
<rect x="919" y="316" width="2" height="46" opacity=".24"/>
<rect x="921" y="316" width="1" height="46" opacity=".22"/>
<rect x="922" y="316" width="1" height="46" opacity=".23"/>
<rect x="923" y="316" width="1" height="46" opacity=".24"/>
<rect x="924" y="316" width="1" height="46" opacity=".23"/>
<rect x="925" y="316" width="1" height="46" opacity=".27"/>
<rect x="926" y="316" width="1" height="46" opacity=".25"/>
<rect x="927" y="316" width="1" height="46" opacity=".23"/>
<rect x="928" y="316" width="2" height="46" opacity=".24"/>
<rect x="930" y="316" width="1" height="46" opacity=".23"/>
<rect x="931" y="316" width="1" height="46" opacity=".24"/>
<rect x="932" y="316" width="2" height="46" opacity=".23"/>
</g>
<g>
<rect x="67" y="362" width="867" height="1" fill="#a9a9a9"/>
<rect x="67" y="363" width="867" height="1" fill="#adadad"/>
<rect x="67" y="364" width="867" height="1" fill="#b1b1b1"/>
<rect x="67" y="365" width="867" height="1" fill="#adadad"/>
<rect x="67" y="366" width="867" height="1" fill="#b5b5b5"/>
<rect x="67" y="367" width="867" height="2" fill="#bbbbbb"/>
<rect x="67" y="369" width="867" height="1" fill="#b3b3b3"/>
<rect x="67" y="370" width="867" height="1" fill="#a7a7a7"/>
<rect x="67" y="371" width="867" height="1" fill="#9e9e9e"/>
<rect x="67" y="372" width="867" height="1" fill="#9a9a9a"/>
<rect x="67" y="373" width="867" height="1" fill="#8b8b8b"/>
<rect x="67" y="374" width="867" height="1" fill="#828282"/>
<rect x="67" y="375" width="867" height="1" fill="#7f7f7f"/>
<rect x="67" y="376" width="867" height="1" fill="#828282"/>
<rect x="67" y="377" width="867" height="1" fill="#8a8a8a"/>
<rect x="67" y="378" width="867" height="1" fill="#909090"/>
<rect x="67" y="379" width="867" height="1" fill="#959595"/>
<rect x="67" y="380" width="867" height="1" fill="#9b9b9b"/>
<rect x="67" y="362" width="16" height="19" opacity="1"/>
<rect x="83" y="362" width="1" height="19" opacity=".04"/>
<rect x="84" y="362" width="1" height="19" opacity=".05"/>
<rect x="85" y="362" width="1" height="19" opacity=".01"/>
<rect x="86" y="362" width="2" height="19" opacity=".04"/>
<rect x="88" y="362" width="1" height="19" opacity=".02"/>
<rect x="89" y="362" width="1" height="19" opacity=".03"/>
<rect x="90" y="362" width="1" height="19" opacity=".04"/>
<rect x="91" y="362" width="1" height="19" opacity=".05"/>
<rect x="92" y="362" width="2" height="19" opacity=".02"/>
<rect x="94" y="362" width="2" height="19" opacity=".03"/>
<rect x="96" y="362" width="2" height="19" opacity=".02"/>
<rect x="99" y="362" width="2" height="19" opacity=".04"/>
<rect x="101" y="362" width="1" height="19" opacity=".02"/>
<rect x="102" y="362" width="1" height="19" opacity=".06"/>
<rect x="103" y="362" width="2" height="19" opacity=".05"/>
<rect x="105" y="362" width="1" height="19" opacity=".01"/>
<rect x="106" y="362" width="1" height="19" opacity=".02"/>
<rect x="107" y="362" width="1" height="19" opacity=".04"/>
<rect x="108" y="362" width="1" height="19" opacity=".01"/>
<rect x="109" y="362" width="1" height="19" opacity=".03"/>
<rect x="110" y="362" width="2" height="19" opacity=".05"/>
<rect x="112" y="362" width="2" height="19" opacity=".03"/>
<rect x="114" y="362" width="1" height="19" opacity=".02"/>
<rect x="115" y="362" width="1" height="19" opacity=".03"/>
<rect x="116" y="362" width="1" height="19" opacity=".04"/>
<rect x="117" y="362" width="1" height="19" opacity=".05"/>
<rect x="118" y="362" width="1" height="19" opacity=".01"/>
<rect x="122" y="362" width="2" height="19" opacity=".07"/>
<rect x="124" y="362" width="1" height="19" opacity=".1"/>
<rect x="125" y="362" width="1" height="19" opacity=".07"/>
<rect x="126" y="362" width="3" height="19" opacity=".09"/>
<rect x="129" y="362" width="1" height="19" opacity=".12"/>
<rect x="130" y="362" width="2" height="19" opacity=".09"/>
<rect x="132" y="362" width="1" height="19" opacity=".08"/>
<rect x="133" y="362" width="1" height="19" opacity=".09"/>
<rect x="134" y="362" width="1" height="19" opacity=".11"/>
<rect x="135" y="362" width="1" height="19" opacity=".09"/>
<rect x="136" y="362" width="1" height="19" opacity=".07"/>
<rect x="137" y="362" width="1" height="19" opacity=".11"/>
<rect x="138" y="362" width="1" height="19" opacity=".08"/>
<rect x="139" y="362" width="1" height="19" opacity=".09"/>
<rect x="140" y="362" width="1" height="19" opacity=".06"/>
<rect x="141" y="362" width="3" height="19" opacity=".07"/>
<rect x="144" y="362" width="1" height="19" opacity=".08"/>
<rect x="145" y="362" width="1" height="19" opacity=".12"/>
<rect x="146" y="362" width="1" height="19" opacity=".08"/>
<rect x="147" y="362" width="1" height="19" opacity=".12"/>
<rect x="148" y="362" width="1" height="19" opacity=".1"/>
<rect x="149" y="362" width="1" height="19" opacity=".09"/>
<rect x="150" y="362" width="1" height="19" opacity=".1"/>
<rect x="151" y="362" width="1" height="19" opacity=".09"/>
<rect x="152" y="362" width="1" height="19" opacity=".08"/>
<rect x="153" y="362" width="1" height="19" opacity=".09"/>
<rect x="154" y="362" width="1" height="19" opacity=".1"/>
<rect x="155" y="362" width="1" height="19" opacity=".14"/>
<rect x="156" y="362" width="3" height="19" opacity=".12"/>
<rect x="159" y="362" width="1" height="19" opacity=".1"/>
<rect x="160" y="362" width="1" height="19" opacity=".08"/>
<rect x="161" y="362" width="1" height="19" opacity=".12"/>
<rect x="162" y="362" width="1" height="19" opacity=".13"/>
<rect x="163" y="362" width="1" height="19" opacity=".12"/>
<rect x="164" y="362" width="1" height="19" opacity=".11"/>
<rect x="165" y="362" width="1" height="19" opacity=".09"/>
<rect x="166" y="362" width="1" height="19" opacity=".06"/>
<rect x="167" y="362" width="1" height="19" opacity=".08"/>
<rect x="168" y="362" width="1" height="19" opacity=".13"/>
<rect x="169" y="362" width="1" height="19" opacity=".14"/>
<rect x="170" y="362" width="1" height="19" opacity=".11"/>
<rect x="171" y="362" width="1" height="19" opacity=".09"/>
<rect x="172" y="362" width="1" height="19" opacity=".11"/>
<rect x="173" y="362" width="2" height="19" opacity=".13"/>
<rect x="175" y="362" width="1" height="19" opacity=".14"/>
<rect x="176" y="362" width="1" height="19" opacity=".1"/>
<rect x="177" y="362" width="1" height="19" opacity=".13"/>
<rect x="178" y="362" width="1" height="19" opacity=".16"/>
<rect x="179" y="362" width="1" height="19" opacity=".12"/>
<rect x="180" y="362" width="1" height="19" opacity=".11"/>
<rect x="181" y="362" width="1" height="19" opacity=".13"/>
<rect x="182" y="362" width="2" height="19" opacity=".11"/>
<rect x="184" y="362" width="1" height="19" opacity=".12"/>
<rect x="185" y="362" width="1" height="19" opacity=".15"/>
<rect x="186" y="362" width="1" height="19" opacity=".13"/>
<rect x="187" y="362" width="1" height="19" opacity=".12"/>
<rect x="188" y="362" width="1" height="19" opacity=".16"/>
<rect x="189" y="362" width="1" height="19" opacity=".2"/>
<rect x="190" y="362" width="1" height="19" opacity=".22"/>
<rect x="191" y="362" width="5" height="19" opacity=".11"/>
<rect x="196" y="362" width="1" height="19" opacity=".12"/>
<rect x="197" y="362" width="1" height="19" opacity=".14"/>
<rect x="198" y="362" width="1" height="19" opacity=".12"/>
<rect x="199" y="362" width="1" height="19" opacity=".15"/>
<rect x="200" y="362" width="1" height="19" opacity=".17"/>
<rect x="201" y="362" width="1" height="19" opacity=".18"/>
<rect x="202" y="362" width="1" height="19" opacity=".17"/>
<rect x="203" y="362" width="1" height="19" opacity=".13"/>
<rect x="204" y="362" width="1" height="19" opacity=".11"/>
<rect x="205" y="362" width="1" height="19" opacity=".17"/>
<rect x="206" y="362" width="1" height="19" opacity=".18"/>
<rect x="207" y="362" width="1" height="19" opacity=".15"/>
<rect x="208" y="362" width="1" height="19" opacity=".14"/>
<rect x="209" y="362" width="1" height="19" opacity=".17"/>
<rect x="210" y="362" width="2" height="19" opacity=".16"/>
<rect x="212" y="362" width="1" height="19" opacity=".14"/>
<rect x="213" y="362" width="1" height="19" opacity=".13"/>
<rect x="214" y="362" width="1" height="19" opacity=".14"/>
<rect x="215" y="362" width="1" height="19" opacity=".13"/>
<rect x="216" y="362" width="1" height="19" opacity=".14"/>
<rect x="217" y="362" width="1" height="19" opacity=".16"/>
<rect x="218" y="362" width="1" height="19" opacity=".14"/>
<rect x="219" y="362" width="1" height="19" opacity=".17"/>
<rect x="220" y="362" width="2" height="19" opacity=".16"/>
<rect x="222" y="362" width="2" height="19" opacity=".14"/>
<rect x="224" y="362" width="1" height="19" opacity=".13"/>
<rect x="225" y="362" width="1" height="19" opacity=".16"/>
<rect x="226" y="362" width="1" height="19" opacity=".12"/>
<rect x="227" y="362" width="1" height="19" opacity=".19"/>
<rect x="228" y="362" width="2" height="19" opacity=".15"/>
<rect x="230" y="362" width="1" height="19" opacity=".16"/>
<rect x="231" y="362" width="1" height="19" opacity=".12"/>
<rect x="232" y="362" width="1" height="19" opacity=".17"/>
<rect x="233" y="362" width="1" height="19" opacity=".22"/>
<rect x="234" y="362" width="1" height="19" opacity=".13"/>
<rect x="235" y="362" width="1" height="19" opacity=".16"/>
<rect x="236" y="362" width="1" height="19" opacity=".17"/>
<rect x="237" y="362" width="1" height="19" opacity=".19"/>
<rect x="238" y="362" width="1" height="19" opacity=".21"/>
<rect x="239" y="362" width="2" height="19" opacity=".16"/>
<rect x="241" y="362" width="1" height="19" opacity=".15"/>
<rect x="242" y="362" width="1" height="19" opacity=".17"/>
<rect x="243" y="362" width="1" height="19" opacity=".18"/>
<rect x="244" y="362" width="1" height="19" opacity=".22"/>
<rect x="245" y="362" width="1" height="19" opacity=".13"/>
<rect x="246" y="362" width="1" height="19" opacity=".12"/>
<rect x="247" y="362" width="2" height="19" opacity=".08"/>
<rect x="249" y="362" width="1" height="19" opacity=".14"/>
<rect x="250" y="362" width="1" height="19" opacity=".13"/>
<rect x="251" y="362" width="1" height="19" opacity=".1"/>
<rect x="252" y="362" width="2" height="19" opacity=".09"/>
<rect x="254" y="362" width="1" height="19" opacity=".07"/>
<rect x="255" y="362" width="1" height="19" opacity=".1"/>
<rect x="256" y="362" width="1" height="19" opacity=".11"/>
<rect x="257" y="362" width="1" height="19" opacity=".09"/>
<rect x="258" y="362" width="1" height="19" opacity=".1"/>
<rect x="259" y="362" width="3" height="19" opacity=".09"/>
<rect x="262" y="362" width="1" height="19" opacity=".1"/>
<rect x="263" y="362" width="1" height="19" opacity=".05"/>
<rect x="264" y="362" width="1" height="19" opacity=".06"/>
<rect x="265" y="362" width="1" height="19" opacity=".09"/>
<rect x="266" y="362" width="1" height="19" opacity=".1"/>
<rect x="267" y="362" width="3" height="19" opacity=".09"/>
<rect x="270" y="362" width="1" height="19" opacity=".08"/>
<rect x="271" y="362" width="1" height="19" opacity=".07"/>
<rect x="272" y="362" width="1" height="19" opacity=".1"/>
<rect x="273" y="362" width="1" height="19" opacity=".09"/>
<rect x="274" y="362" width="1" height="19" opacity=".11"/>
<rect x="275" y="362" width="1" height="19" opacity=".06"/>
<rect x="276" y="362" width="1" height="19" opacity=".07"/>
<rect x="277" y="362" width="1" height="19" opacity=".1"/>
<rect x="278" y="362" width="2" height="19" opacity=".09"/>
<rect x="280" y="362" width="1" height="19" opacity=".06"/>
<rect x="281" y="362" width="1" height="19" opacity=".08"/>
<rect x="282" y="362" width="2" height="19" opacity=".05"/>
<rect x="284" y="362" width="1" height="19" opacity=".06"/>
<rect x="285" y="362" width="1" height="19" opacity=".07"/>
<rect x="286" y="362" width="1" height="19" opacity=".08"/>
<rect x="287" y="362" width="2" height="19" opacity=".09"/>
<rect x="289" y="362" width="1" height="19" opacity=".08"/>
<rect x="290" y="362" width="1" height="19" opacity=".05"/>
<rect x="291" y="362" width="1" height="19" opacity=".09"/>
<rect x="292" y="362" width="1" height="19" opacity=".06"/>
<rect x="293" y="362" width="1" height="19" opacity=".11"/>
<rect x="294" y="362" width="1" height="19" opacity=".08"/>
<rect x="295" y="362" width="1" height="19" opacity=".07"/>
<rect x="296" y="362" width="1" height="19" opacity=".08"/>
<rect x="297" y="362" width="1" height="19" opacity=".09"/>
<rect x="298" y="362" width="1" height="19" opacity=".12"/>
<rect x="299" y="362" width="1" height="19" opacity=".11"/>
<rect x="300" y="362" width="1" height="19" opacity=".1"/>
<rect x="301" y="362" width="1" height="19" opacity=".08"/>
<rect x="302" y="362" width="1" height="19" opacity=".12"/>
<rect x="303" y="362" width="1" height="19" opacity=".08"/>
<rect x="304" y="362" width="1" height="19" opacity=".09"/>
<rect x="305" y="362" width="1" height="19" opacity=".1"/>
<rect x="306" y="362" width="1" height="19" opacity=".12"/>
<rect x="307" y="362" width="1" height="19" opacity=".1"/>
<rect x="308" y="362" width="1" height="19" opacity=".06"/>
<rect x="309" y="362" width="3" height="19" opacity=".09"/>
<rect x="312" y="362" width="1" height="19" opacity=".07"/>
<rect x="313" y="362" width="1" height="19" opacity=".06"/>
<rect x="314" y="362" width="1" height="19" opacity=".04"/>
<rect x="315" y="362" width="1" height="19" opacity=".05"/>
<rect x="316" y="362" width="1" height="19" opacity=".06"/>
<rect x="317" y="362" width="1" height="19" opacity=".09"/>
<rect x="318" y="362" width="1" height="19" opacity=".14"/>
<rect x="319" y="362" width="1" height="19" opacity=".11"/>
<rect x="320" y="362" width="2" height="19" opacity=".1"/>
<rect x="322" y="362" width="1" height="19" opacity=".08"/>
<rect x="323" y="362" width="2" height="19" opacity=".1"/>
<rect x="325" y="362" width="1" height="19" opacity=".05"/>
<rect x="326" y="362" width="2" height="19" opacity=".08"/>
<rect x="328" y="362" width="1" height="19" opacity=".06"/>
<rect x="329" y="362" width="1" height="19" opacity=".1"/>
<rect x="330" y="362" width="2" height="19" opacity=".09"/>
<rect x="332" y="362" width="1" height="19" opacity=".07"/>
<rect x="333" y="362" width="1" height="19" opacity=".13"/>
<rect x="334" y="362" width="2" height="19" opacity=".07"/>
<rect x="336" y="362" width="1" height="19" opacity=".08"/>
<rect x="337" y="362" width="1" height="19" opacity=".11"/>
<rect x="338" y="362" width="1" height="19" opacity=".14"/>
<rect x="339" y="362" width="1" height="19" opacity=".08"/>
<rect x="340" y="362" width="1" height="19" opacity=".09"/>
<rect x="341" y="362" width="2" height="19" opacity=".16"/>
<rect x="343" y="362" width="1" height="19" opacity=".15"/>
<rect x="344" y="362" width="1" height="19" opacity=".14"/>
<rect x="345" y="362" width="1" height="19" opacity=".07"/>
<rect x="346" y="362" width="1" height="19" opacity=".08"/>
<rect x="347" y="362" width="1" height="19" opacity=".07"/>
<rect x="348" y="362" width="1" height="19" opacity=".08"/>
<rect x="349" y="362" width="1" height="19" opacity=".05"/>
<rect x="350" y="362" width="1" height="19" opacity=".07"/>
<rect x="351" y="362" width="1" height="19" opacity=".11"/>
<rect x="352" y="362" width="1" height="19" opacity=".1"/>
<rect x="353" y="362" width="1" height="19" opacity=".07"/>
<rect x="354" y="362" width="1" height="19" opacity=".06"/>
<rect x="355" y="362" width="1" height="19" opacity=".07"/>
<rect x="356" y="362" width="1" height="19" opacity=".06"/>
<rect x="357" y="362" width="1" height="19" opacity=".07"/>
<rect x="358" y="362" width="1" height="19" opacity=".11"/>
<rect x="359" y="362" width="1" height="19" opacity=".09"/>
<rect x="360" y="362" width="3" height="19" opacity=".1"/>
<rect x="363" y="362" width="1" height="19" opacity=".06"/>
<rect x="364" y="362" width="1" height="19" opacity=".07"/>
<rect x="365" y="362" width="1" height="19" opacity=".06"/>
<rect x="366" y="362" width="1" height="19" opacity=".07"/>
<rect x="367" y="362" width="1" height="19" opacity=".09"/>
<rect x="368" y="362" width="2" height="19" opacity=".15"/>
<rect x="370" y="362" width="1" height="19" opacity=".12"/>
<rect x="371" y="362" width="1" height="19" opacity=".09"/>
<rect x="372" y="362" width="2" height="19" opacity=".1"/>
<rect x="374" y="362" width="1" height="19" opacity=".09"/>
<rect x="375" y="362" width="1" height="19" opacity=".08"/>
<rect x="376" y="362" width="1" height="19" opacity=".05"/>
<rect x="377" y="362" width="2" height="19" opacity=".09"/>
<rect x="379" y="362" width="1" height="19" opacity=".1"/>
<rect x="380" y="362" width="2" height="19" opacity=".09"/>
<rect x="382" y="362" width="1" height="19" opacity=".12"/>
<rect x="383" y="362" width="1" height="19" opacity=".07"/>
<rect x="384" y="362" width="1" height="19" opacity=".1"/>
<rect x="385" y="362" width="1" height="19" opacity=".08"/>
<rect x="386" y="362" width="1" height="19" opacity=".11"/>
<rect x="387" y="362" width="1" height="19" opacity=".08"/>
<rect x="388" y="362" width="2" height="19" opacity=".11"/>
<rect x="390" y="362" width="1" height="19" opacity=".12"/>
<rect x="391" y="362" width="1" height="19" opacity=".14"/>
<rect x="392" y="362" width="1" height="19" opacity=".15"/>
<rect x="393" y="362" width="1" height="19" opacity=".12"/>
<rect x="394" y="362" width="1" height="19" opacity=".11"/>
<rect x="395" y="362" width="1" height="19" opacity=".12"/>
<rect x="396" y="362" width="1" height="19" opacity=".11"/>
<rect x="397" y="362" width="1" height="19" opacity=".09"/>
<rect x="398" y="362" width="1" height="19" opacity=".12"/>
<rect x="399" y="362" width="1" height="19" opacity=".1"/>
<rect x="400" y="362" width="1" height="19" opacity=".08"/>
<rect x="401" y="362" width="1" height="19" opacity=".12"/>
<rect x="402" y="362" width="1" height="19" opacity=".14"/>
<rect x="403" y="362" width="1" height="19" opacity=".19"/>
<rect x="404" y="362" width="1" height="19" opacity=".2"/>
<rect x="405" y="362" width="1" height="19" opacity=".15"/>
<rect x="406" y="362" width="1" height="19" opacity=".12"/>
<rect x="407" y="362" width="1" height="19" opacity=".1"/>
<rect x="408" y="362" width="1" height="19" opacity=".12"/>
<rect x="409" y="362" width="3" height="19" opacity=".11"/>
<rect x="412" y="362" width="1" height="19" opacity=".16"/>
<rect x="413" y="362" width="1" height="19" opacity=".15"/>
<rect x="414" y="362" width="1" height="19" opacity=".19"/>
<rect x="415" y="362" width="2" height="19" opacity=".12"/>
<rect x="417" y="362" width="1" height="19" opacity=".14"/>
<rect x="418" y="362" width="1" height="19" opacity=".13"/>
<rect x="419" y="362" width="1" height="19" opacity=".1"/>
<rect x="420" y="362" width="1" height="19" opacity=".09"/>
<rect x="421" y="362" width="1" height="19" opacity=".15"/>
<rect x="422" y="362" width="2" height="19" opacity=".18"/>
<rect x="424" y="362" width="1" height="19" opacity=".17"/>
<rect x="425" y="362" width="1" height="19" opacity=".15"/>
<rect x="426" y="362" width="2" height="19" opacity=".14"/>
<rect x="428" y="362" width="1" height="19" opacity=".13"/>
<rect x="429" y="362" width="1" height="19" opacity=".16"/>
<rect x="430" y="362" width="1" height="19" opacity=".15"/>
<rect x="431" y="362" width="3" height="19" opacity=".13"/>
<rect x="434" y="362" width="1" height="19" opacity=".14"/>
<rect x="435" y="362" width="1" height="19" opacity=".12"/>
<rect x="436" y="362" width="1" height="19" opacity=".14"/>
<rect x="437" y="362" width="1" height="19" opacity=".13"/>
<rect x="438" y="362" width="1" height="19" opacity=".14"/>
<rect x="439" y="362" width="1" height="19" opacity=".13"/>
<rect x="440" y="362" width="1" height="19" opacity=".17"/>
<rect x="441" y="362" width="1" height="19" opacity=".14"/>
<rect x="442" y="362" width="1" height="19" opacity=".13"/>
<rect x="443" y="362" width="1" height="19" opacity=".11"/>
<rect x="444" y="362" width="1" height="19" opacity=".1"/>
<rect x="445" y="362" width="2" height="19" opacity=".14"/>
<rect x="447" y="362" width="1" height="19" opacity=".13"/>
<rect x="448" y="362" width="1" height="19" opacity=".12"/>
<rect x="449" y="362" width="1" height="19" opacity=".2"/>
<rect x="450" y="362" width="1" height="19" opacity=".18"/>
<rect x="451" y="362" width="1" height="19" opacity=".12"/>
<rect x="452" y="362" width="1" height="19" opacity=".13"/>
<rect x="453" y="362" width="1" height="19" opacity=".14"/>
<rect x="454" y="362" width="1" height="19" opacity=".13"/>
<rect x="455" y="362" width="1" height="19" opacity=".11"/>
<rect x="456" y="362" width="3" height="19" opacity=".14"/>
<rect x="459" y="362" width="1" height="19" opacity=".15"/>
<rect x="460" y="362" width="2" height="19" opacity=".17"/>
<rect x="462" y="362" width="1" height="19" opacity=".12"/>
<rect x="463" y="362" width="1" height="19" opacity=".08"/>
<rect x="464" y="362" width="1" height="19" opacity=".1"/>
<rect x="465" y="362" width="1" height="19" opacity=".12"/>
<rect x="466" y="362" width="1" height="19" opacity=".16"/>
<rect x="467" y="362" width="1" height="19" opacity=".13"/>
<rect x="468" y="362" width="1" height="19" opacity=".12"/>
<rect x="469" y="362" width="1" height="19" opacity=".15"/>
<rect x="470" y="362" width="1" height="19" opacity=".17"/>
<rect x="471" y="362" width="1" height="19" opacity=".1"/>
<rect x="472" y="362" width="1" height="19" opacity=".08"/>
<rect x="473" y="362" width="1" height="19" opacity=".09"/>
<rect x="474" y="362" width="3" height="19" opacity=".11"/>
<rect x="477" y="362" width="1" height="19" opacity=".14"/>
<rect x="478" y="362" width="1" height="19" opacity=".15"/>
<rect x="479" y="362" width="1" height="19" opacity=".13"/>
<rect x="480" y="362" width="1" height="19" opacity=".12"/>
<rect x="481" y="362" width="1" height="19" opacity=".11"/>
<rect x="482" y="362" width="2" height="19" opacity=".08"/>
<rect x="484" y="362" width="1" height="19" opacity=".07"/>
<rect x="485" y="362" width="1" height="19" opacity=".11"/>
<rect x="486" y="362" width="1" height="19" opacity=".1"/>
<rect x="487" y="362" width="1" height="19" opacity=".09"/>
<rect x="488" y="362" width="1" height="19" opacity=".11"/>
<rect x="489" y="362" width="1" height="19" opacity=".15"/>
<rect x="490" y="362" width="1" height="19" opacity=".13"/>
<rect x="491" y="362" width="1" height="19" opacity=".11"/>
<rect x="492" y="362" width="1" height="19" opacity=".1"/>
<rect x="493" y="362" width="1" height="19" opacity=".11"/>
<rect x="494" y="362" width="1" height="19" opacity=".09"/>
<rect x="495" y="362" width="1" height="19" opacity=".08"/>
<rect x="496" y="362" width="1" height="19" opacity=".11"/>
<rect x="497" y="362" width="1" height="19" opacity=".12"/>
<rect x="498" y="362" width="1" height="19" opacity=".11"/>
<rect x="499" y="362" width="1" height="19" opacity=".13"/>
<rect x="500" y="362" width="2" height="19" opacity=".11"/>
<rect x="502" y="362" width="1" height="19" opacity=".1"/>
<rect x="503" y="362" width="1" height="19" opacity=".14"/>
<rect x="504" y="362" width="1" height="19" opacity=".12"/>
<rect x="505" y="362" width="2" height="19" opacity=".1"/>
<rect x="507" y="362" width="1" height="19" opacity=".08"/>
<rect x="508" y="362" width="1" height="19" opacity=".11"/>
<rect x="509" y="362" width="1" height="19" opacity=".1"/>
<rect x="510" y="362" width="1" height="19" opacity=".11"/>
<rect x="511" y="362" width="2" height="19" opacity=".13"/>
<rect x="513" y="362" width="1" height="19" opacity=".12"/>
<rect x="514" y="362" width="1" height="19" opacity=".11"/>
<rect x="515" y="362" width="1" height="19" opacity=".13"/>
<rect x="516" y="362" width="1" height="19" opacity=".11"/>
<rect x="517" y="362" width="1" height="19" opacity=".12"/>
<rect x="518" y="362" width="1" height="19" opacity=".13"/>
<rect x="519" y="362" width="1" height="19" opacity=".08"/>
<rect x="520" y="362" width="1" height="19" opacity=".09"/>
<rect x="521" y="362" width="1" height="19" opacity=".13"/>
<rect x="522" y="362" width="1" height="19" opacity=".1"/>
<rect x="523" y="362" width="1" height="19" opacity=".11"/>
<rect x="524" y="362" width="1" height="19" opacity=".12"/>
<rect x="525" y="362" width="1" height="19" opacity=".1"/>
<rect x="526" y="362" width="1" height="19" opacity=".11"/>
<rect x="527" y="362" width="1" height="19" opacity=".12"/>
<rect x="528" y="362" width="1" height="19" opacity=".09"/>
<rect x="529" y="362" width="1" height="19" opacity=".1"/>
<rect x="530" y="362" width="1" height="19" opacity=".09"/>
<rect x="531" y="362" width="1" height="19" opacity=".11"/>
<rect x="532" y="362" width="1" height="19" opacity=".12"/>
<rect x="533" y="362" width="1" height="19" opacity=".09"/>
<rect x="534" y="362" width="1" height="19" opacity=".1"/>
<rect x="535" y="362" width="1" height="19" opacity=".11"/>
<rect x="536" y="362" width="1" height="19" opacity=".1"/>
<rect x="537" y="362" width="4" height="19" opacity=".12"/>
<rect x="541" y="362" width="1" height="19" opacity=".1"/>
<rect x="542" y="362" width="2" height="19" opacity=".09"/>
<rect x="544" y="362" width="1" height="19" opacity=".1"/>
<rect x="545" y="362" width="1" height="19" opacity=".13"/>
<rect x="546" y="362" width="2" height="19" opacity=".11"/>
<rect x="548" y="362" width="1" height="19" opacity=".12"/>
<rect x="549" y="362" width="1" height="19" opacity=".13"/>
<rect x="550" y="362" width="1" height="19" opacity=".1"/>
<rect x="551" y="362" width="1" height="19" opacity=".09"/>
<rect x="552" y="362" width="1" height="19" opacity=".12"/>
<rect x="553" y="362" width="2" height="19" opacity=".11"/>
<rect x="555" y="362" width="1" height="19" opacity=".12"/>
<rect x="556" y="362" width="1" height="19" opacity=".11"/>
<rect x="557" y="362" width="1" height="19" opacity=".08"/>
<rect x="558" y="362" width="1" height="19" opacity=".12"/>
<rect x="559" y="362" width="1" height="19" opacity=".1"/>
<rect x="560" y="362" width="1" height="19" opacity=".13"/>
<rect x="561" y="362" width="1" height="19" opacity=".15"/>
<rect x="562" y="362" width="1" height="19" opacity=".13"/>
<rect x="563" y="362" width="1" height="19" opacity=".15"/>
<rect x="564" y="362" width="1" height="19" opacity=".16"/>
<rect x="565" y="362" width="1" height="19" opacity=".15"/>
<rect x="566" y="362" width="1" height="19" opacity=".18"/>
<rect x="567" y="362" width="1" height="19" opacity=".12"/>
<rect x="568" y="362" width="1" height="19" opacity=".17"/>
<rect x="569" y="362" width="1" height="19" opacity=".16"/>
<rect x="570" y="362" width="1" height="19" opacity=".17"/>
<rect x="571" y="362" width="2" height="19" opacity=".14"/>
<rect x="573" y="362" width="1" height="19" opacity=".13"/>
<rect x="574" y="362" width="1" height="19" opacity=".11"/>
<rect x="575" y="362" width="3" height="19" opacity=".16"/>
<rect x="578" y="362" width="3" height="19" opacity=".17"/>
<rect x="581" y="362" width="1" height="19" opacity=".15"/>
<rect x="582" y="362" width="1" height="19" opacity=".13"/>
<rect x="583" y="362" width="1" height="19" opacity=".14"/>
<rect x="584" y="362" width="1" height="19" opacity=".16"/>
<rect x="585" y="362" width="1" height="19" opacity=".18"/>
<rect x="586" y="362" width="1" height="19" opacity=".16"/>
<rect x="587" y="362" width="2" height="19" opacity=".13"/>
<rect x="589" y="362" width="2" height="19" opacity=".15"/>
<rect x="591" y="362" width="1" height="19" opacity=".19"/>
<rect x="592" y="362" width="2" height="19" opacity=".17"/>
<rect x="594" y="362" width="1" height="19" opacity=".15"/>
<rect x="595" y="362" width="1" height="19" opacity=".13"/>
<rect x="596" y="362" width="1" height="19" opacity=".15"/>
<rect x="597" y="362" width="1" height="19" opacity=".16"/>
<rect x="598" y="362" width="2" height="19" opacity=".15"/>
<rect x="600" y="362" width="2" height="19" opacity=".16"/>
<rect x="602" y="362" width="1" height="19" opacity=".14"/>
<rect x="603" y="362" width="1" height="19" opacity=".15"/>
<rect x="604" y="362" width="1" height="19" opacity=".14"/>
<rect x="605" y="362" width="1" height="19" opacity=".13"/>
<rect x="606" y="362" width="1" height="19" opacity=".16"/>
<rect x="607" y="362" width="1" height="19" opacity=".15"/>
<rect x="608" y="362" width="1" height="19" opacity=".14"/>
<rect x="609" y="362" width="1" height="19" opacity=".15"/>
<rect x="610" y="362" width="1" height="19" opacity=".14"/>
<rect x="611" y="362" width="1" height="19" opacity=".13"/>
<rect x="612" y="362" width="2" height="19" opacity=".17"/>
<rect x="614" y="362" width="1" height="19" opacity=".19"/>
<rect x="615" y="362" width="2" height="19" opacity=".16"/>
<rect x="617" y="362" width="3" height="19" opacity=".17"/>
<rect x="620" y="362" width="2" height="19" opacity=".14"/>
<rect x="622" y="362" width="1" height="19" opacity=".15"/>
<rect x="623" y="362" width="1" height="19" opacity=".16"/>
<rect x="624" y="362" width="1" height="19" opacity=".17"/>
<rect x="625" y="362" width="1" height="19" opacity=".18"/>
<rect x="626" y="362" width="1" height="19" opacity=".15"/>
<rect x="627" y="362" width="1" height="19" opacity=".17"/>
<rect x="628" y="362" width="1" height="19" opacity=".15"/>
<rect x="629" y="362" width="3" height="19" opacity=".14"/>
<rect x="632" y="362" width="1" height="19" opacity=".15"/>
<rect x="633" y="362" width="1" height="19" opacity=".19"/>
<rect x="634" y="362" width="1" height="19" opacity=".14"/>
<rect x="635" y="362" width="1" height="19" opacity=".13"/>
<rect x="636" y="362" width="1" height="19" opacity=".16"/>
<rect x="637" y="362" width="1" height="19" opacity=".17"/>
<rect x="638" y="362" width="1" height="19" opacity=".16"/>
<rect x="639" y="362" width="1" height="19" opacity=".12"/>
<rect x="640" y="362" width="1" height="19" opacity=".11"/>
<rect x="641" y="362" width="1" height="19" opacity=".15"/>
<rect x="642" y="362" width="1" height="19" opacity=".18"/>
<rect x="643" y="362" width="1" height="19" opacity=".23"/>
<rect x="644" y="362" width="1" height="19" opacity=".22"/>
<rect x="645" y="362" width="1" height="19" opacity=".2"/>
<rect x="646" y="362" width="1" height="19" opacity=".18"/>
<rect x="647" y="362" width="1" height="19" opacity=".17"/>
<rect x="648" y="362" width="1" height="19" opacity=".16"/>
<rect x="649" y="362" width="1" height="19" opacity=".13"/>
<rect x="650" y="362" width="1" height="19" opacity=".15"/>
<rect x="651" y="362" width="1" height="19" opacity=".14"/>
<rect x="652" y="362" width="1" height="19" opacity=".16"/>
<rect x="653" y="362" width="1" height="19" opacity=".15"/>
<rect x="654" y="362" width="1" height="19" opacity=".14"/>
<rect x="655" y="362" width="1" height="19" opacity=".16"/>
<rect x="656" y="362" width="1" height="19" opacity=".12"/>
<rect x="657" y="362" width="1" height="19" opacity=".15"/>
<rect x="658" y="362" width="1" height="19" opacity=".14"/>
<rect x="659" y="362" width="1" height="19" opacity=".12"/>
<rect x="660" y="362" width="1" height="19" opacity=".15"/>
<rect x="661" y="362" width="1" height="19" opacity=".13"/>
<rect x="662" y="362" width="1" height="19" opacity=".16"/>
<rect x="663" y="362" width="2" height="19" opacity=".1"/>
<rect x="665" y="362" width="1" height="19" opacity=".19"/>
<rect x="666" y="362" width="1" height="19" opacity=".2"/>
<rect x="667" y="362" width="1" height="19" opacity=".15"/>
<rect x="668" y="362" width="1" height="19" opacity=".17"/>
<rect x="669" y="362" width="1" height="19" opacity=".15"/>
<rect x="670" y="362" width="1" height="19" opacity=".14"/>
<rect x="671" y="362" width="1" height="19" opacity=".17"/>
<rect x="672" y="362" width="1" height="19" opacity=".16"/>
<rect x="673" y="362" width="1" height="19" opacity=".14"/>
<rect x="674" y="362" width="1" height="19" opacity=".15"/>
<rect x="675" y="362" width="1" height="19" opacity=".16"/>
<rect x="676" y="362" width="1" height="19" opacity=".18"/>
<rect x="677" y="362" width="2" height="19" opacity=".15"/>
<rect x="679" y="362" width="1" height="19" opacity=".16"/>
<rect x="680" y="362" width="1" height="19" opacity=".17"/>
<rect x="681" y="362" width="1" height="19" opacity=".14"/>
<rect x="682" y="362" width="3" height="19" opacity=".15"/>
<rect x="685" y="362" width="2" height="19" opacity=".16"/>
<rect x="687" y="362" width="3" height="19" opacity=".17"/>
<rect x="690" y="362" width="1" height="19" opacity=".16"/>
<rect x="691" y="362" width="1" height="19" opacity=".13"/>
<rect x="692" y="362" width="1" height="19" opacity=".11"/>
<rect x="693" y="362" width="1" height="19" opacity=".14"/>
<rect x="694" y="362" width="1" height="19" opacity=".13"/>
<rect x="695" y="362" width="1" height="19" opacity=".15"/>
<rect x="696" y="362" width="1" height="19" opacity=".12"/>
<rect x="697" y="362" width="1" height="19" opacity=".15"/>
<rect x="698" y="362" width="1" height="19" opacity=".14"/>
<rect x="699" y="362" width="2" height="19" opacity=".13"/>
<rect x="701" y="362" width="1" height="19" opacity=".14"/>
<rect x="702" y="362" width="1" height="19" opacity=".13"/>
<rect x="703" y="362" width="1" height="19" opacity=".15"/>
<rect x="704" y="362" width="1" height="19" opacity=".16"/>
<rect x="705" y="362" width="2" height="19" opacity=".17"/>
<rect x="707" y="362" width="1" height="19" opacity=".14"/>
<rect x="708" y="362" width="1" height="19" opacity=".12"/>
<rect x="709" y="362" width="2" height="19" opacity=".16"/>
<rect x="711" y="362" width="3" height="19" opacity=".14"/>
<rect x="714" y="362" width="1" height="19" opacity=".17"/>
<rect x="715" y="362" width="1" height="19" opacity=".2"/>
<rect x="716" y="362" width="1" height="19" opacity=".23"/>
<rect x="717" y="362" width="1" height="19" opacity=".16"/>
<rect x="718" y="362" width="1" height="19" opacity=".15"/>
<rect x="719" y="362" width="1" height="19" opacity=".14"/>
<rect x="720" y="362" width="1" height="19" opacity=".19"/>
<rect x="721" y="362" width="2" height="19" opacity=".16"/>
<rect x="723" y="362" width="1" height="19" opacity=".19"/>
<rect x="724" y="362" width="1" height="19" opacity=".17"/>
<rect x="725" y="362" width="1" height="19" opacity=".19"/>
<rect x="726" y="362" width="1" height="19" opacity=".16"/>
<rect x="727" y="362" width="1" height="19" opacity=".15"/>
<rect x="728" y="362" width="1" height="19" opacity=".13"/>
<rect x="729" y="362" width="1" height="19" opacity=".15"/>
<rect x="730" y="362" width="2" height="19" opacity=".13"/>
<rect x="732" y="362" width="2" height="19" opacity=".15"/>
<rect x="734" y="362" width="1" height="19" opacity=".14"/>
<rect x="735" y="362" width="1" height="19" opacity=".16"/>
<rect x="736" y="362" width="4" height="19" opacity=".14"/>
<rect x="740" y="362" width="1" height="19" opacity=".1"/>
<rect x="741" y="362" width="1" height="19" opacity=".15"/>
<rect x="742" y="362" width="1" height="19" opacity=".12"/>
<rect x="743" y="362" width="1" height="19" opacity=".14"/>
<rect x="744" y="362" width="1" height="19" opacity=".12"/>
<rect x="745" y="362" width="1" height="19" opacity=".16"/>
<rect x="746" y="362" width="1" height="19" opacity=".12"/>
<rect x="747" y="362" width="1" height="19" opacity=".14"/>
<rect x="748" y="362" width="2" height="19" opacity=".16"/>
<rect x="750" y="362" width="1" height="19" opacity=".14"/>
<rect x="751" y="362" width="3" height="19" opacity=".13"/>
<rect x="754" y="362" width="2" height="19" opacity=".14"/>
<rect x="756" y="362" width="1" height="19" opacity=".17"/>
<rect x="757" y="362" width="2" height="19" opacity=".12"/>
<rect x="759" y="362" width="1" height="19" opacity=".16"/>
<rect x="760" y="362" width="1" height="19" opacity=".17"/>
<rect x="761" y="362" width="1" height="19" opacity=".15"/>
<rect x="762" y="362" width="1" height="19" opacity=".13"/>
<rect x="763" y="362" width="2" height="19" opacity=".16"/>
<rect x="765" y="362" width="1" height="19" opacity=".15"/>
<rect x="766" y="362" width="1" height="19" opacity=".13"/>
<rect x="767" y="362" width="3" height="19" opacity=".17"/>
<rect x="770" y="362" width="1" height="19" opacity=".16"/>
<rect x="771" y="362" width="2" height="19" opacity=".15"/>
<rect x="773" y="362" width="4" height="19" opacity=".13"/>
<rect x="777" y="362" width="1" height="19" opacity=".15"/>
<rect x="778" y="362" width="2" height="19" opacity=".14"/>
<rect x="780" y="362" width="1" height="19" opacity=".15"/>
<rect x="781" y="362" width="2" height="19" opacity=".14"/>
<rect x="783" y="362" width="2" height="19" opacity=".13"/>
<rect x="785" y="362" width="1" height="19" opacity=".14"/>
<rect x="786" y="362" width="1" height="19" opacity=".16"/>
<rect x="787" y="362" width="1" height="19" opacity=".14"/>
<rect x="788" y="362" width="1" height="19" opacity=".13"/>
<rect x="789" y="362" width="1" height="19" opacity=".17"/>
<rect x="790" y="362" width="1" height="19" opacity=".13"/>
<rect x="791" y="362" width="1" height="19" opacity=".15"/>
<rect x="792" y="362" width="2" height="19" opacity=".17"/>
<rect x="794" y="362" width="1" height="19" opacity=".14"/>
<rect x="795" y="362" width="2" height="19" opacity=".16"/>
<rect x="797" y="362" width="1" height="19" opacity=".15"/>
<rect x="798" y="362" width="1" height="19" opacity=".17"/>
<rect x="799" y="362" width="2" height="19" opacity=".14"/>
<rect x="801" y="362" width="1" height="19" opacity=".19"/>
<rect x="802" y="362" width="1" height="19" opacity=".15"/>
<rect x="803" y="362" width="2" height="19" opacity=".14"/>
<rect x="805" y="362" width="2" height="19" opacity=".15"/>
<rect x="807" y="362" width="1" height="19" opacity=".18"/>
<rect x="808" y="362" width="1" height="19" opacity=".14"/>
<rect x="809" y="362" width="1" height="19" opacity=".15"/>
<rect x="810" y="362" width="1" height="19" opacity=".17"/>
<rect x="811" y="362" width="1" height="19" opacity=".18"/>
<rect x="812" y="362" width="1" height="19" opacity=".15"/>
<rect x="813" y="362" width="1" height="19" opacity=".17"/>
<rect x="814" y="362" width="1" height="19" opacity=".15"/>
<rect x="815" y="362" width="1" height="19" opacity=".14"/>
<rect x="816" y="362" width="1" height="19" opacity=".15"/>
<rect x="817" y="362" width="2" height="19" opacity=".11"/>
<rect x="819" y="362" width="1" height="19" opacity=".15"/>
<rect x="820" y="362" width="1" height="19" opacity=".12"/>
<rect x="821" y="362" width="2" height="19" opacity=".17"/>
<rect x="823" y="362" width="2" height="19" opacity=".15"/>
<rect x="825" y="362" width="1" height="19" opacity=".14"/>
<rect x="826" y="362" width="1" height="19" opacity=".12"/>
<rect x="827" y="362" width="2" height="19" opacity=".17"/>
<rect x="829" y="362" width="1" height="19" opacity=".15"/>
<rect x="830" y="362" width="2" height="19" opacity=".16"/>
<rect x="832" y="362" width="1" height="19" opacity=".14"/>
<rect x="833" y="362" width="1" height="19" opacity=".16"/>
<rect x="834" y="362" width="2" height="19" opacity=".15"/>
<rect x="836" y="362" width="1" height="19" opacity=".18"/>
<rect x="837" y="362" width="1" height="19" opacity=".17"/>
<rect x="838" y="362" width="1" height="19" opacity=".16"/>
<rect x="839" y="362" width="2" height="19" opacity=".14"/>
<rect x="841" y="362" width="1" height="19" opacity=".16"/>
<rect x="842" y="362" width="1" height="19" opacity=".14"/>
<rect x="843" y="362" width="1" height="19" opacity=".12"/>
<rect x="844" y="362" width="1" height="19" opacity=".16"/>
<rect x="845" y="362" width="2" height="19" opacity=".13"/>
<rect x="847" y="362" width="1" height="19" opacity=".15"/>
<rect x="848" y="362" width="1" height="19" opacity=".12"/>
<rect x="849" y="362" width="1" height="19" opacity=".15"/>
<rect x="850" y="362" width="2" height="19" opacity=".16"/>
<rect x="852" y="362" width="1" height="19" opacity=".15"/>
<rect x="853" y="362" width="1" height="19" opacity=".13"/>
<rect x="854" y="362" width="1" height="19" opacity=".12"/>
<rect x="855" y="362" width="1" height="19" opacity=".16"/>
<rect x="856" y="362" width="1" height="19" opacity=".15"/>
<rect x="857" y="362" width="1" height="19" opacity=".14"/>
<rect x="858" y="362" width="1" height="19" opacity=".12"/>
<rect x="859" y="362" width="1" height="19" opacity=".11"/>
<rect x="860" y="362" width="2" height="19" opacity=".13"/>
<rect x="862" y="362" width="3" height="19" opacity=".14"/>
<rect x="865" y="362" width="1" height="19" opacity=".2"/>
<rect x="866" y="362" width="2" height="19" opacity=".17"/>
<rect x="868" y="362" width="1" height="19" opacity=".18"/>
<rect x="869" y="362" width="1" height="19" opacity=".16"/>
<rect x="870" y="362" width="1" height="19" opacity=".19"/>
<rect x="871" y="362" width="1" height="19" opacity=".15"/>
<rect x="872" y="362" width="1" height="19" opacity=".16"/>
<rect x="873" y="362" width="1" height="19" opacity=".15"/>
<rect x="874" y="362" width="1" height="19" opacity=".16"/>
<rect x="875" y="362" width="1" height="19" opacity=".17"/>
<rect x="876" y="362" width="1" height="19" opacity=".18"/>
<rect x="877" y="362" width="1" height="19" opacity=".14"/>
<rect x="878" y="362" width="1" height="19" opacity=".16"/>
<rect x="879" y="362" width="1" height="19" opacity=".14"/>
<rect x="880" y="362" width="1" height="19" opacity=".12"/>
<rect x="881" y="362" width="1" height="19" opacity=".17"/>
<rect x="882" y="362" width="1" height="19" opacity=".16"/>
<rect x="883" y="362" width="2" height="19" opacity=".14"/>
<rect x="885" y="362" width="1" height="19" opacity=".16"/>
<rect x="886" y="362" width="1" height="19" opacity=".15"/>
<rect x="887" y="362" width="1" height="19" opacity=".14"/>
<rect x="888" y="362" width="1" height="19" opacity=".15"/>
<rect x="889" y="362" width="1" height="19" opacity=".2"/>
<rect x="890" y="362" width="1" height="19" opacity=".18"/>
<rect x="891" y="362" width="1" height="19" opacity=".16"/>
<rect x="892" y="362" width="1" height="19" opacity=".17"/>
<rect x="893" y="362" width="1" height="19" opacity=".16"/>
<rect x="894" y="362" width="1" height="19" opacity=".14"/>
<rect x="895" y="362" width="1" height="19" opacity=".17"/>
<rect x="896" y="362" width="1" height="19" opacity=".13"/>
<rect x="897" y="362" width="1" height="19" opacity=".14"/>
<rect x="898" y="362" width="1" height="19" opacity=".13"/>
<rect x="899" y="362" width="1" height="19" opacity=".14"/>
<rect x="900" y="362" width="1" height="19" opacity=".13"/>
<rect x="901" y="362" width="1" height="19" opacity=".17"/>
<rect x="902" y="362" width="2" height="19" opacity=".16"/>
<rect x="904" y="362" width="1" height="19" opacity=".17"/>
<rect x="905" y="362" width="1" height="19" opacity=".16"/>
<rect x="906" y="362" width="1" height="19" opacity=".13"/>
<rect x="907" y="362" width="1" height="19" opacity=".14"/>
<rect x="908" y="362" width="1" height="19" opacity=".13"/>
<rect x="909" y="362" width="1" height="19" opacity=".14"/>
<rect x="910" y="362" width="1" height="19" opacity=".13"/>
<rect x="911" y="362" width="1" height="19" opacity=".15"/>
<rect x="912" y="362" width="1" height="19" opacity=".17"/>
<rect x="913" y="362" width="2" height="19" opacity=".13"/>
<rect x="915" y="362" width="1" height="19" opacity=".18"/>
<rect x="916" y="362" width="1" height="19" opacity=".15"/>
<rect x="917" y="362" width="1" height="19" opacity=".13"/>
<rect x="918" y="362" width="1" height="19" opacity=".12"/>
<rect x="919" y="362" width="1" height="19" opacity=".11"/>
<rect x="920" y="362" width="1" height="19" opacity=".09"/>
<rect x="921" y="362" width="1" height="19" opacity=".13"/>
<rect x="922" y="362" width="1" height="19" opacity=".16"/>
<rect x="923" y="362" width="2" height="19" opacity=".17"/>
<rect x="925" y="362" width="1" height="19" opacity=".15"/>
<rect x="926" y="362" width="1" height="19" opacity=".17"/>
<rect x="927" y="362" width="1" height="19" opacity=".2"/>
<rect x="928" y="362" width="1" height="19" opacity=".15"/>
<rect x="929" y="362" width="1" height="19" opacity=".16"/>
<rect x="930" y="362" width="1" height="19" opacity=".13"/>
<rect x="931" y="362" width="1" height="19" opacity=".16"/>
<rect x="932" y="362" width="1" height="19" opacity=".17"/>
<rect x="933" y="362" width="1" height="19" opacity=".13"/>
</g>
<g>
<rect x="67" y="381" width="867" height="1" fill="#c7c7c7"/>
<rect x="67" y="382" width="867" height="1" fill="#d3d3d3"/>
<rect x="67" y="383" width="867" height="1" fill="#dadada"/>
<rect x="67" y="384" width="867" height="1" fill="#e1e1e1"/>
<rect x="67" y="385" width="867" height="1" fill="#d1d1d1"/>
<rect x="67" y="386" width="867" height="2" fill="#d6d6d6"/>
<rect x="67" y="388" width="867" height="1" fill="#d8d8d8"/>
<rect x="67" y="389" width="867" height="2" fill="#e3e3e3"/>
<rect x="67" y="391" width="867" height="1" fill="#cfcfcf"/>
<rect x="67" y="392" width="867" height="3" fill="#c7c7c7"/>
<rect x="67" y="395" width="867" height="1" fill="#cccccc"/>
<rect x="67" y="396" width="867" height="1" fill="#d3d3d3"/>
<rect x="67" y="397" width="867" height="1" fill="#c0c0c0"/>
<rect x="67" y="398" width="867" height="1" fill="#cfcfcf"/>
<rect x="67" y="399" width="867" height="1" fill="#d9d9d9"/>
<rect x="67" y="400" width="867" height="1" fill="#e2e2e2"/>
<rect x="67" y="401" width="867" height="2" fill="#e5e5e5"/>
<rect x="67" y="403" width="867" height="1" fill="#e0e0e0"/>
<rect x="67" y="404" width="867" height="1" fill="#d3d3d3"/>
<rect x="67" y="405" width="867" height="1" fill="#cccccc"/>
<rect x="67" y="406" width="867" height="1" fill="#cbcbcb"/>
<rect x="67" y="407" width="867" height="2" fill="#c5c5c5"/>
<rect x="67" y="409" width="867" height="1" fill="#cbcbcb"/>
<rect x="67" y="410" width="867" height="2" fill="#d1d1d1"/>
<rect x="67" y="381" width="16" height="31" opacity="1"/>
<rect x="83" y="381" width="1" height="31" opacity=".07"/>
<rect x="84" y="381" width="1" height="31" opacity=".02"/>
<rect x="85" y="381" width="2" height="31" opacity=".01"/>
<rect x="87" y="381" width="2" height="31" opacity=".02"/>
<rect x="89" y="381" width="1" height="31" opacity=".01"/>
<rect x="90" y="381" width="1" height="31" opacity=".02"/>
<rect x="92" y="381" width="2" height="31" opacity=".01"/>
<rect x="94" y="381" width="1" height="31" opacity=".03"/>
<rect x="96" y="381" width="1" height="31" opacity=".02"/>
<rect x="97" y="381" width="1" height="31" opacity=".03"/>
<rect x="98" y="381" width="1" height="31" opacity=".02"/>
<rect x="99" y="381" width="1" height="31" opacity=".01"/>
<rect x="100" y="381" width="1" height="31" opacity=".03"/>
<rect x="101" y="381" width="1" height="31" opacity=".02"/>
<rect x="102" y="381" width="1" height="31" opacity=".01"/>
<rect x="103" y="381" width="1" height="31" opacity=".02"/>
<rect x="104" y="381" width="1" height="31" opacity=".03"/>
<rect x="105" y="381" width="1" height="31" opacity=".02"/>
<rect x="106" y="381" width="1" height="31" opacity=".04"/>
<rect x="107" y="381" width="1" height="31" opacity=".05"/>
<rect x="108" y="381" width="1" height="31" opacity=".01"/>
<rect x="109" y="381" width="1" height="31" opacity=".03"/>
<rect x="110" y="381" width="1" height="31" opacity=".02"/>
<rect x="111" y="381" width="1" height="31" opacity=".01"/>
<rect x="113" y="381" width="1" height="31" opacity=".04"/>
<rect x="115" y="381" width="1" height="31" opacity=".03"/>
<rect x="116" y="381" width="1" height="31" opacity=".02"/>
<rect x="117" y="381" width="1" height="31" opacity=".03"/>
<rect x="118" y="381" width="1" height="31" opacity=".05"/>
<rect x="119" y="381" width="2" height="31" opacity=".03"/>
<rect x="121" y="381" width="1" height="31" opacity=".04"/>
<rect x="122" y="381" width="1" height="31" opacity=".05"/>
<rect x="123" y="381" width="1" height="31" opacity=".08"/>
<rect x="124" y="381" width="3" height="31" opacity=".07"/>
<rect x="127" y="381" width="1" height="31" opacity=".04"/>
<rect x="128" y="381" width="2" height="31" opacity=".06"/>
<rect x="130" y="381" width="1" height="31" opacity=".07"/>
<rect x="131" y="381" width="1" height="31" opacity=".08"/>
<rect x="132" y="381" width="1" height="31" opacity=".1"/>
<rect x="133" y="381" width="1" height="31" opacity=".07"/>
<rect x="134" y="381" width="2" height="31" opacity=".08"/>
<rect x="136" y="381" width="1" height="31" opacity=".07"/>
<rect x="137" y="381" width="1" height="31" opacity=".05"/>
<rect x="138" y="381" width="2" height="31" opacity=".06"/>
<rect x="140" y="381" width="1" height="31" opacity=".07"/>
<rect x="141" y="381" width="2" height="31" opacity=".09"/>
<rect x="143" y="381" width="1" height="31" opacity=".08"/>
<rect x="144" y="381" width="2" height="31" opacity=".07"/>
<rect x="146" y="381" width="1" height="31" opacity=".08"/>
<rect x="147" y="381" width="1" height="31" opacity=".12"/>
<rect x="148" y="381" width="1" height="31" opacity=".09"/>
<rect x="149" y="381" width="1" height="31" opacity=".11"/>
<rect x="150" y="381" width="1" height="31" opacity=".09"/>
<rect x="151" y="381" width="1" height="31" opacity=".1"/>
<rect x="152" y="381" width="1" height="31" opacity=".07"/>
<rect x="153" y="381" width="1" height="31" opacity=".08"/>
<rect x="154" y="381" width="1" height="31" opacity=".09"/>
<rect x="155" y="381" width="2" height="31" opacity=".08"/>
<rect x="157" y="381" width="3" height="31" opacity=".07"/>
<rect x="160" y="381" width="1" height="31" opacity=".08"/>
<rect x="161" y="381" width="1" height="31" opacity=".07"/>
<rect x="162" y="381" width="1" height="31" opacity=".08"/>
<rect x="163" y="381" width="1" height="31" opacity=".1"/>
<rect x="164" y="381" width="2" height="31" opacity=".09"/>
<rect x="166" y="381" width="1" height="31" opacity=".11"/>
<rect x="167" y="381" width="2" height="31" opacity=".07"/>
<rect x="169" y="381" width="1" height="31" opacity=".09"/>
<rect x="170" y="381" width="1" height="31" opacity=".11"/>
<rect x="171" y="381" width="1" height="31" opacity=".1"/>
<rect x="172" y="381" width="6" height="31" opacity=".12"/>
<rect x="178" y="381" width="1" height="31" opacity=".13"/>
<rect x="179" y="381" width="1" height="31" opacity=".15"/>
<rect x="180" y="381" width="1" height="31" opacity=".14"/>
<rect x="181" y="381" width="1" height="31" opacity=".15"/>
<rect x="182" y="381" width="2" height="31" opacity=".13"/>
<rect x="184" y="381" width="1" height="31" opacity=".16"/>
<rect x="185" y="381" width="2" height="31" opacity=".13"/>
<rect x="187" y="381" width="2" height="31" opacity=".14"/>
<rect x="189" y="381" width="1" height="31" opacity=".15"/>
<rect x="190" y="381" width="1" height="31" opacity=".16"/>
<rect x="191" y="381" width="1" height="31" opacity=".14"/>
<rect x="192" y="381" width="1" height="31" opacity=".13"/>
<rect x="193" y="381" width="1" height="31" opacity=".15"/>
<rect x="194" y="381" width="1" height="31" opacity=".16"/>
<rect x="195" y="381" width="1" height="31" opacity=".18"/>
<rect x="196" y="381" width="1" height="31" opacity=".2"/>
<rect x="197" y="381" width="1" height="31" opacity=".21"/>
<rect x="198" y="381" width="1" height="31" opacity=".22"/>
<rect x="199" y="381" width="2" height="31" opacity=".23"/>
<rect x="201" y="381" width="1" height="31" opacity=".22"/>
<rect x="202" y="381" width="4" height="31" opacity=".23"/>
<rect x="206" y="381" width="3" height="31" opacity=".24"/>
<rect x="209" y="381" width="5" height="31" opacity=".23"/>
<rect x="214" y="381" width="1" height="31" opacity=".22"/>
<rect x="215" y="381" width="2" height="31" opacity=".21"/>
<rect x="217" y="381" width="5" height="31" opacity=".23"/>
<rect x="222" y="381" width="1" height="31" opacity=".24"/>
<rect x="223" y="381" width="1" height="31" opacity=".23"/>
<rect x="224" y="381" width="1" height="31" opacity=".24"/>
<rect x="225" y="381" width="2" height="31" opacity=".23"/>
<rect x="227" y="381" width="1" height="31" opacity=".24"/>
<rect x="228" y="381" width="1" height="31" opacity=".23"/>
<rect x="229" y="381" width="4" height="31" opacity=".24"/>
<rect x="233" y="381" width="1" height="31" opacity=".23"/>
<rect x="234" y="381" width="1" height="31" opacity=".25"/>
<rect x="235" y="381" width="1" height="31" opacity=".22"/>
<rect x="236" y="381" width="1" height="31" opacity=".23"/>
<rect x="237" y="381" width="1" height="31" opacity=".24"/>
<rect x="238" y="381" width="3" height="31" opacity=".23"/>
<rect x="241" y="381" width="1" height="31" opacity=".22"/>
<rect x="242" y="381" width="1" height="31" opacity=".23"/>
<rect x="243" y="381" width="1" height="31" opacity=".22"/>
<rect x="244" y="381" width="1" height="31" opacity=".24"/>
<rect x="245" y="381" width="1" height="31" opacity=".23"/>
<rect x="246" y="381" width="1" height="31" opacity=".21"/>
<rect x="247" y="381" width="1" height="31" opacity=".2"/>
<rect x="248" y="381" width="1" height="31" opacity=".18"/>
<rect x="249" y="381" width="2" height="31" opacity=".21"/>
<rect x="251" y="381" width="3" height="31" opacity=".19"/>
<rect x="254" y="381" width="1" height="31" opacity=".21"/>
<rect x="255" y="381" width="1" height="31" opacity=".19"/>
<rect x="256" y="381" width="1" height="31" opacity=".21"/>
<rect x="257" y="381" width="1" height="31" opacity=".19"/>
<rect x="258" y="381" width="1" height="31" opacity=".18"/>
<rect x="259" y="381" width="2" height="31" opacity=".19"/>
<rect x="261" y="381" width="2" height="31" opacity=".18"/>
<rect x="263" y="381" width="2" height="31" opacity=".19"/>
<rect x="265" y="381" width="2" height="31" opacity=".22"/>
<rect x="267" y="381" width="1" height="31" opacity=".19"/>
<rect x="268" y="381" width="3" height="31" opacity=".18"/>
<rect x="271" y="381" width="2" height="31" opacity=".19"/>
<rect x="273" y="381" width="1" height="31" opacity=".18"/>
<rect x="274" y="381" width="1" height="31" opacity=".16"/>
<rect x="275" y="381" width="1" height="31" opacity=".18"/>
<rect x="276" y="381" width="2" height="31" opacity=".2"/>
<rect x="278" y="381" width="1" height="31" opacity=".19"/>
<rect x="279" y="381" width="2" height="31" opacity=".18"/>
<rect x="281" y="381" width="1" height="31" opacity=".22"/>
<rect x="282" y="381" width="1" height="31" opacity=".21"/>
<rect x="283" y="381" width="1" height="31" opacity=".18"/>
<rect x="284" y="381" width="1" height="31" opacity=".2"/>
<rect x="285" y="381" width="1" height="31" opacity=".19"/>
<rect x="286" y="381" width="1" height="31" opacity=".2"/>
<rect x="287" y="381" width="2" height="31" opacity=".18"/>
<rect x="289" y="381" width="1" height="31" opacity=".19"/>
<rect x="290" y="381" width="2" height="31" opacity=".18"/>
<rect x="292" y="381" width="1" height="31" opacity=".17"/>
<rect x="293" y="381" width="1" height="31" opacity=".16"/>
<rect x="294" y="381" width="1" height="31" opacity=".17"/>
<rect x="295" y="381" width="1" height="31" opacity=".21"/>
<rect x="296" y="381" width="2" height="31" opacity=".19"/>
<rect x="298" y="381" width="1" height="31" opacity=".18"/>
<rect x="299" y="381" width="2" height="31" opacity=".17"/>
<rect x="301" y="381" width="1" height="31" opacity=".18"/>
<rect x="302" y="381" width="3" height="31" opacity=".19"/>
<rect x="305" y="381" width="1" height="31" opacity=".18"/>
<rect x="306" y="381" width="1" height="31" opacity=".17"/>
<rect x="307" y="381" width="3" height="31" opacity=".19"/>
<rect x="310" y="381" width="2" height="31" opacity=".18"/>
<rect x="312" y="381" width="1" height="31" opacity=".21"/>
<rect x="313" y="381" width="2" height="31" opacity=".17"/>
<rect x="315" y="381" width="2" height="31" opacity=".18"/>
<rect x="317" y="381" width="1" height="31" opacity=".17"/>
<rect x="318" y="381" width="1" height="31" opacity=".16"/>
<rect x="319" y="381" width="3" height="31" opacity=".19"/>
<rect x="322" y="381" width="3" height="31" opacity=".17"/>
<rect x="325" y="381" width="2" height="31" opacity=".15"/>
<rect x="327" y="381" width="2" height="31" opacity=".17"/>
<rect x="329" y="381" width="1" height="31" opacity=".15"/>
<rect x="330" y="381" width="5" height="31" opacity=".16"/>
<rect x="335" y="381" width="1" height="31" opacity=".17"/>
<rect x="336" y="381" width="2" height="31" opacity=".16"/>
<rect x="338" y="381" width="1" height="31" opacity=".18"/>
<rect x="339" y="381" width="1" height="31" opacity=".16"/>
<rect x="340" y="381" width="1" height="31" opacity=".13"/>
<rect x="341" y="381" width="2" height="31" opacity=".12"/>
<rect x="343" y="381" width="4" height="31" opacity=".1"/>
<rect x="347" y="381" width="1" height="31" opacity=".11"/>
<rect x="348" y="381" width="1" height="31" opacity=".13"/>
<rect x="349" y="381" width="1" height="31" opacity=".11"/>
<rect x="350" y="381" width="1" height="31" opacity=".09"/>
<rect x="351" y="381" width="1" height="31" opacity=".12"/>
<rect x="352" y="381" width="1" height="31" opacity=".1"/>
<rect x="353" y="381" width="1" height="31" opacity=".09"/>
<rect x="354" y="381" width="1" height="31" opacity=".11"/>
<rect x="355" y="381" width="1" height="31" opacity=".12"/>
<rect x="356" y="381" width="1" height="31" opacity=".08"/>
<rect x="357" y="381" width="1" height="31" opacity=".1"/>
<rect x="358" y="381" width="1" height="31" opacity=".11"/>
<rect x="359" y="381" width="1" height="31" opacity=".08"/>
<rect x="360" y="381" width="2" height="31" opacity=".1"/>
<rect x="362" y="381" width="3" height="31" opacity=".11"/>
<rect x="365" y="381" width="1" height="31" opacity=".12"/>
<rect x="366" y="381" width="2" height="31" opacity=".11"/>
<rect x="368" y="381" width="1" height="31" opacity=".12"/>
<rect x="369" y="381" width="1" height="31" opacity=".1"/>
<rect x="370" y="381" width="1" height="31" opacity=".08"/>
<rect x="371" y="381" width="2" height="31" opacity=".11"/>
<rect x="373" y="381" width="2" height="31" opacity=".09"/>
<rect x="375" y="381" width="1" height="31" opacity=".1"/>
<rect x="376" y="381" width="1" height="31" opacity=".11"/>
<rect x="377" y="381" width="1" height="31" opacity=".13"/>
<rect x="378" y="381" width="1" height="31" opacity=".12"/>
<rect x="379" y="381" width="1" height="31" opacity=".13"/>
<rect x="380" y="381" width="1" height="31" opacity=".12"/>
<rect x="381" y="381" width="2" height="31" opacity=".1"/>
<rect x="383" y="381" width="1" height="31" opacity=".08"/>
<rect x="384" y="381" width="2" height="31" opacity=".12"/>
<rect x="386" y="381" width="1" height="31" opacity=".17"/>
<rect x="387" y="381" width="1" height="31" opacity=".2"/>
<rect x="388" y="381" width="3" height="31" opacity=".22"/>
<rect x="391" y="381" width="2" height="31" opacity=".24"/>
<rect x="393" y="381" width="1" height="31" opacity=".26"/>
<rect x="394" y="381" width="1" height="31" opacity=".25"/>
<rect x="395" y="381" width="1" height="31" opacity=".24"/>
<rect x="396" y="381" width="1" height="31" opacity=".25"/>
<rect x="397" y="381" width="5" height="31" opacity=".24"/>
<rect x="402" y="381" width="1" height="31" opacity=".23"/>
<rect x="403" y="381" width="1" height="31" opacity=".25"/>
<rect x="404" y="381" width="1" height="31" opacity=".26"/>
<rect x="405" y="381" width="2" height="31" opacity=".25"/>
<rect x="407" y="381" width="2" height="31" opacity=".26"/>
<rect x="409" y="381" width="1" height="31" opacity=".25"/>
<rect x="410" y="381" width="1" height="31" opacity=".24"/>
<rect x="411" y="381" width="1" height="31" opacity=".26"/>
<rect x="412" y="381" width="1" height="31" opacity=".25"/>
<rect x="413" y="381" width="2" height="31" opacity=".24"/>
<rect x="415" y="381" width="2" height="31" opacity=".26"/>
<rect x="417" y="381" width="1" height="31" opacity=".25"/>
<rect x="418" y="381" width="1" height="31" opacity=".24"/>
<rect x="419" y="381" width="3" height="31" opacity=".25"/>
<rect x="422" y="381" width="1" height="31" opacity=".26"/>
<rect x="423" y="381" width="1" height="31" opacity=".27"/>
<rect x="424" y="381" width="1" height="31" opacity=".29"/>
<rect x="425" y="381" width="1" height="31" opacity=".25"/>
<rect x="426" y="381" width="1" height="31" opacity=".26"/>
<rect x="427" y="381" width="2" height="31" opacity=".24"/>
<rect x="429" y="381" width="2" height="31" opacity=".25"/>
<rect x="431" y="381" width="2" height="31" opacity=".24"/>
<rect x="433" y="381" width="2" height="31" opacity=".27"/>
<rect x="435" y="381" width="1" height="31" opacity=".25"/>
<rect x="436" y="381" width="1" height="31" opacity=".24"/>
<rect x="437" y="381" width="1" height="31" opacity=".27"/>
<rect x="438" y="381" width="1" height="31" opacity=".26"/>
<rect x="439" y="381" width="1" height="31" opacity=".25"/>
<rect x="440" y="381" width="1" height="31" opacity=".24"/>
<rect x="441" y="381" width="1" height="31" opacity=".26"/>
<rect x="442" y="381" width="1" height="31" opacity=".25"/>
<rect x="443" y="381" width="1" height="31" opacity=".24"/>
<rect x="444" y="381" width="1" height="31" opacity=".23"/>
<rect x="445" y="381" width="2" height="31" opacity=".24"/>
<rect x="447" y="381" width="1" height="31" opacity=".26"/>
<rect x="448" y="381" width="2" height="31" opacity=".24"/>
<rect x="450" y="381" width="1" height="31" opacity=".25"/>
<rect x="451" y="381" width="2" height="31" opacity=".22"/>
<rect x="453" y="381" width="1" height="31" opacity=".23"/>
<rect x="454" y="381" width="1" height="31" opacity=".24"/>
<rect x="455" y="381" width="2" height="31" opacity=".22"/>
<rect x="457" y="381" width="1" height="31" opacity=".21"/>
<rect x="458" y="381" width="1" height="31" opacity=".22"/>
<rect x="459" y="381" width="5" height="31" opacity=".2"/>
<rect x="464" y="381" width="1" height="31" opacity=".21"/>
<rect x="465" y="381" width="1" height="31" opacity=".22"/>
<rect x="466" y="381" width="1" height="31" opacity=".21"/>
<rect x="467" y="381" width="2" height="31" opacity=".19"/>
<rect x="469" y="381" width="2" height="31" opacity=".18"/>
<rect x="471" y="381" width="5" height="31" opacity=".2"/>
<rect x="476" y="381" width="1" height="31" opacity=".22"/>
<rect x="477" y="381" width="2" height="31" opacity=".21"/>
<rect x="479" y="381" width="2" height="31" opacity=".19"/>
<rect x="481" y="381" width="2" height="31" opacity=".2"/>
<rect x="483" y="381" width="1" height="31" opacity=".24"/>
<rect x="484" y="381" width="5" height="31" opacity=".2"/>
<rect x="489" y="381" width="1" height="31" opacity=".19"/>
<rect x="490" y="381" width="1" height="31" opacity=".24"/>
<rect x="491" y="381" width="1" height="31" opacity=".2"/>
<rect x="492" y="381" width="2" height="31" opacity=".21"/>
<rect x="494" y="381" width="1" height="31" opacity=".22"/>
<rect x="495" y="381" width="2" height="31" opacity=".2"/>
<rect x="497" y="381" width="1" height="31" opacity=".18"/>
<rect x="498" y="381" width="3" height="31" opacity=".2"/>
<rect x="501" y="381" width="2" height="31" opacity=".19"/>
<rect x="503" y="381" width="8" height="31" opacity=".2"/>
<rect x="511" y="381" width="2" height="31" opacity=".21"/>
<rect x="513" y="381" width="1" height="31" opacity=".2"/>
<rect x="514" y="381" width="1" height="31" opacity=".19"/>
<rect x="515" y="381" width="1" height="31" opacity=".21"/>
<rect x="516" y="381" width="1" height="31" opacity=".22"/>
<rect x="517" y="381" width="1" height="31" opacity=".21"/>
<rect x="518" y="381" width="1" height="31" opacity=".22"/>
<rect x="519" y="381" width="2" height="31" opacity=".2"/>
<rect x="521" y="381" width="2" height="31" opacity=".19"/>
<rect x="523" y="381" width="1" height="31" opacity=".21"/>
<rect x="524" y="381" width="1" height="31" opacity=".19"/>
<rect x="525" y="381" width="1" height="31" opacity=".21"/>
<rect x="526" y="381" width="1" height="31" opacity=".2"/>
<rect x="527" y="381" width="1" height="31" opacity=".21"/>
<rect x="528" y="381" width="1" height="31" opacity=".2"/>
<rect x="529" y="381" width="2" height="31" opacity=".18"/>
<rect x="531" y="381" width="1" height="31" opacity=".19"/>
<rect x="532" y="381" width="1" height="31" opacity=".2"/>
<rect x="533" y="381" width="1" height="31" opacity=".21"/>
<rect x="534" y="381" width="1" height="31" opacity=".23"/>
<rect x="535" y="381" width="1" height="31" opacity=".21"/>
<rect x="536" y="381" width="1" height="31" opacity=".23"/>
<rect x="537" y="381" width="2" height="31" opacity=".21"/>
<rect x="539" y="381" width="1" height="31" opacity=".19"/>
<rect x="540" y="381" width="2" height="31" opacity=".2"/>
<rect x="542" y="381" width="1" height="31" opacity=".22"/>
<rect x="543" y="381" width="1" height="31" opacity=".21"/>
<rect x="544" y="381" width="2" height="31" opacity=".2"/>
<rect x="546" y="381" width="1" height="31" opacity=".21"/>
<rect x="547" y="381" width="1" height="31" opacity=".23"/>
<rect x="548" y="381" width="1" height="31" opacity=".22"/>
<rect x="549" y="381" width="1" height="31" opacity=".21"/>
<rect x="550" y="381" width="1" height="31" opacity=".25"/>
<rect x="551" y="381" width="1" height="31" opacity=".26"/>
<rect x="552" y="381" width="1" height="31" opacity=".24"/>
<rect x="553" y="381" width="1" height="31" opacity=".2"/>
<rect x="554" y="381" width="2" height="31" opacity=".22"/>
<rect x="556" y="381" width="1" height="31" opacity=".23"/>
<rect x="557" y="381" width="1" height="31" opacity=".22"/>
<rect x="558" y="381" width="1" height="31" opacity=".23"/>
<rect x="559" y="381" width="1" height="31" opacity=".25"/>
<rect x="560" y="381" width="1" height="31" opacity=".26"/>
<rect x="561" y="381" width="1" height="31" opacity=".25"/>
<rect x="562" y="381" width="2" height="31" opacity=".26"/>
<rect x="564" y="381" width="1" height="31" opacity=".27"/>
<rect x="565" y="381" width="1" height="31" opacity=".29"/>
<rect x="566" y="381" width="1" height="31" opacity=".3"/>
<rect x="567" y="381" width="3" height="31" opacity=".26"/>
<rect x="570" y="381" width="1" height="31" opacity=".27"/>
<rect x="571" y="381" width="1" height="31" opacity=".26"/>
<rect x="572" y="381" width="1" height="31" opacity=".27"/>
<rect x="573" y="381" width="5" height="31" opacity=".28"/>
<rect x="578" y="381" width="1" height="31" opacity=".27"/>
<rect x="579" y="381" width="1" height="31" opacity=".29"/>
<rect x="580" y="381" width="1" height="31" opacity=".28"/>
<rect x="581" y="381" width="1" height="31" opacity=".29"/>
<rect x="582" y="381" width="1" height="31" opacity=".27"/>
<rect x="583" y="381" width="1" height="31" opacity=".25"/>
<rect x="584" y="381" width="1" height="31" opacity=".27"/>
<rect x="585" y="381" width="1" height="31" opacity=".29"/>
<rect x="586" y="381" width="1" height="31" opacity=".27"/>
<rect x="587" y="381" width="7" height="31" opacity=".28"/>
<rect x="594" y="381" width="1" height="31" opacity=".29"/>
<rect x="595" y="381" width="1" height="31" opacity=".3"/>
<rect x="596" y="381" width="1" height="31" opacity=".29"/>
<rect x="597" y="381" width="1" height="31" opacity=".28"/>
<rect x="598" y="381" width="1" height="31" opacity=".29"/>
<rect x="599" y="381" width="1" height="31" opacity=".28"/>
<rect x="600" y="381" width="1" height="31" opacity=".27"/>
<rect x="601" y="381" width="2" height="31" opacity=".29"/>
<rect x="603" y="381" width="1" height="31" opacity=".3"/>
<rect x="604" y="381" width="1" height="31" opacity=".27"/>
<rect x="605" y="381" width="1" height="31" opacity=".28"/>
<rect x="606" y="381" width="1" height="31" opacity=".29"/>
<rect x="607" y="381" width="1" height="31" opacity=".28"/>
<rect x="608" y="381" width="1" height="31" opacity=".29"/>
<rect x="609" y="381" width="2" height="31" opacity=".28"/>
<rect x="611" y="381" width="3" height="31" opacity=".29"/>
<rect x="614" y="381" width="1" height="31" opacity=".31"/>
<rect x="615" y="381" width="2" height="31" opacity=".3"/>
<rect x="617" y="381" width="1" height="31" opacity=".28"/>
<rect x="618" y="381" width="1" height="31" opacity=".3"/>
<rect x="619" y="381" width="2" height="31" opacity=".31"/>
<rect x="621" y="381" width="1" height="31" opacity=".27"/>
<rect x="622" y="381" width="3" height="31" opacity=".28"/>
<rect x="625" y="381" width="1" height="31" opacity=".3"/>
<rect x="626" y="381" width="1" height="31" opacity=".28"/>
<rect x="627" y="381" width="1" height="31" opacity=".29"/>
<rect x="628" y="381" width="1" height="31" opacity=".28"/>
<rect x="629" y="381" width="1" height="31" opacity=".3"/>
<rect x="630" y="381" width="1" height="31" opacity=".28"/>
<rect x="631" y="381" width="1" height="31" opacity=".29"/>
<rect x="632" y="381" width="1" height="31" opacity=".28"/>
<rect x="633" y="381" width="3" height="31" opacity=".27"/>
<rect x="636" y="381" width="2" height="31" opacity=".28"/>
<rect x="638" y="381" width="1" height="31" opacity=".29"/>
<rect x="639" y="381" width="2" height="31" opacity=".28"/>
<rect x="641" y="381" width="1" height="31" opacity=".27"/>
<rect x="642" y="381" width="1" height="31" opacity=".28"/>
<rect x="643" y="381" width="1" height="31" opacity=".29"/>
<rect x="644" y="381" width="2" height="31" opacity=".28"/>
<rect x="646" y="381" width="4" height="31" opacity=".29"/>
<rect x="650" y="381" width="1" height="31" opacity=".28"/>
<rect x="651" y="381" width="7" height="31" opacity=".29"/>
<rect x="658" y="381" width="1" height="31" opacity=".28"/>
<rect x="659" y="381" width="2" height="31" opacity=".29"/>
<rect x="661" y="381" width="2" height="31" opacity=".27"/>
<rect x="663" y="381" width="1" height="31" opacity=".28"/>
<rect x="664" y="381" width="1" height="31" opacity=".29"/>
<rect x="665" y="381" width="2" height="31" opacity=".27"/>
<rect x="667" y="381" width="2" height="31" opacity=".28"/>
<rect x="669" y="381" width="1" height="31" opacity=".29"/>
<rect x="670" y="381" width="3" height="31" opacity=".28"/>
<rect x="673" y="381" width="1" height="31" opacity=".31"/>
<rect x="674" y="381" width="4" height="31" opacity=".28"/>
<rect x="678" y="381" width="1" height="31" opacity=".3"/>
<rect x="679" y="381" width="1" height="31" opacity=".29"/>
<rect x="680" y="381" width="3" height="31" opacity=".28"/>
<rect x="683" y="381" width="1" height="31" opacity=".29"/>
<rect x="684" y="381" width="2" height="31" opacity=".28"/>
<rect x="686" y="381" width="2" height="31" opacity=".27"/>
<rect x="688" y="381" width="1" height="31" opacity=".28"/>
<rect x="689" y="381" width="2" height="31" opacity=".27"/>
<rect x="691" y="381" width="1" height="31" opacity=".29"/>
<rect x="692" y="381" width="5" height="31" opacity=".28"/>
<rect x="697" y="381" width="1" height="31" opacity=".27"/>
<rect x="698" y="381" width="1" height="31" opacity=".28"/>
<rect x="699" y="381" width="1" height="31" opacity=".27"/>
<rect x="700" y="381" width="1" height="31" opacity=".26"/>
<rect x="701" y="381" width="2" height="31" opacity=".27"/>
<rect x="703" y="381" width="1" height="31" opacity=".26"/>
<rect x="704" y="381" width="4" height="31" opacity=".27"/>
<rect x="708" y="381" width="1" height="31" opacity=".28"/>
<rect x="709" y="381" width="2" height="31" opacity=".26"/>
<rect x="711" y="381" width="1" height="31" opacity=".28"/>
<rect x="712" y="381" width="1" height="31" opacity=".29"/>
<rect x="713" y="381" width="1" height="31" opacity=".26"/>
<rect x="714" y="381" width="5" height="31" opacity=".27"/>
<rect x="719" y="381" width="1" height="31" opacity=".28"/>
<rect x="720" y="381" width="1" height="31" opacity=".27"/>
<rect x="721" y="381" width="2" height="31" opacity=".28"/>
<rect x="723" y="381" width="1" height="31" opacity=".27"/>
<rect x="724" y="381" width="1" height="31" opacity=".28"/>
<rect x="725" y="381" width="2" height="31" opacity=".27"/>
<rect x="727" y="381" width="1" height="31" opacity=".26"/>
<rect x="728" y="381" width="1" height="31" opacity=".27"/>
<rect x="729" y="381" width="1" height="31" opacity=".25"/>
<rect x="730" y="381" width="1" height="31" opacity=".26"/>
<rect x="731" y="381" width="1" height="31" opacity=".25"/>
<rect x="732" y="381" width="2" height="31" opacity=".27"/>
<rect x="734" y="381" width="1" height="31" opacity=".28"/>
<rect x="735" y="381" width="1" height="31" opacity=".27"/>
<rect x="736" y="381" width="1" height="31" opacity=".28"/>
<rect x="737" y="381" width="1" height="31" opacity=".27"/>
<rect x="738" y="381" width="4" height="31" opacity=".28"/>
<rect x="742" y="381" width="3" height="31" opacity=".27"/>
<rect x="745" y="381" width="1" height="31" opacity=".25"/>
<rect x="746" y="381" width="1" height="31" opacity=".27"/>
<rect x="747" y="381" width="1" height="31" opacity=".25"/>
<rect x="748" y="381" width="5" height="31" opacity=".26"/>
<rect x="753" y="381" width="1" height="31" opacity=".27"/>
<rect x="754" y="381" width="1" height="31" opacity=".25"/>
<rect x="755" y="381" width="1" height="31" opacity=".26"/>
<rect x="756" y="381" width="2" height="31" opacity=".27"/>
<rect x="758" y="381" width="1" height="31" opacity=".25"/>
<rect x="759" y="381" width="1" height="31" opacity=".27"/>
<rect x="760" y="381" width="1" height="31" opacity=".28"/>
<rect x="761" y="381" width="1" height="31" opacity=".27"/>
<rect x="762" y="381" width="1" height="31" opacity=".26"/>
<rect x="763" y="381" width="2" height="31" opacity=".25"/>
<rect x="765" y="381" width="1" height="31" opacity=".26"/>
<rect x="766" y="381" width="1" height="31" opacity=".25"/>
<rect x="767" y="381" width="1" height="31" opacity=".23"/>
<rect x="768" y="381" width="1" height="31" opacity=".25"/>
<rect x="769" y="381" width="5" height="31" opacity=".26"/>
<rect x="774" y="381" width="1" height="31" opacity=".25"/>
<rect x="775" y="381" width="1" height="31" opacity=".26"/>
<rect x="776" y="381" width="1" height="31" opacity=".25"/>
<rect x="777" y="381" width="2" height="31" opacity=".26"/>
<rect x="779" y="381" width="1" height="31" opacity=".24"/>
<rect x="780" y="381" width="1" height="31" opacity=".25"/>
<rect x="781" y="381" width="2" height="31" opacity=".26"/>
<rect x="783" y="381" width="1" height="31" opacity=".27"/>
<rect x="784" y="381" width="1" height="31" opacity=".26"/>
<rect x="785" y="381" width="1" height="31" opacity=".24"/>
<rect x="786" y="381" width="2" height="31" opacity=".25"/>
<rect x="788" y="381" width="1" height="31" opacity=".24"/>
<rect x="789" y="381" width="2" height="31" opacity=".26"/>
<rect x="791" y="381" width="1" height="31" opacity=".25"/>
<rect x="792" y="381" width="1" height="31" opacity=".26"/>
<rect x="793" y="381" width="1" height="31" opacity=".25"/>
<rect x="794" y="381" width="3" height="31" opacity=".26"/>
<rect x="797" y="381" width="1" height="31" opacity=".25"/>
<rect x="798" y="381" width="3" height="31" opacity=".24"/>
<rect x="801" y="381" width="1" height="31" opacity=".26"/>
<rect x="802" y="381" width="1" height="31" opacity=".25"/>
<rect x="803" y="381" width="2" height="31" opacity=".26"/>
<rect x="805" y="381" width="2" height="31" opacity=".25"/>
<rect x="807" y="381" width="1" height="31" opacity=".29"/>
<rect x="808" y="381" width="2" height="31" opacity=".27"/>
<rect x="810" y="381" width="1" height="31" opacity=".26"/>
<rect x="811" y="381" width="1" height="31" opacity=".25"/>
<rect x="812" y="381" width="1" height="31" opacity=".24"/>
<rect x="813" y="381" width="1" height="31" opacity=".26"/>
<rect x="814" y="381" width="1" height="31" opacity=".25"/>
<rect x="815" y="381" width="2" height="31" opacity=".26"/>
<rect x="817" y="381" width="1" height="31" opacity=".28"/>
<rect x="818" y="381" width="1" height="31" opacity=".26"/>
<rect x="819" y="381" width="2" height="31" opacity=".25"/>
<rect x="821" y="381" width="1" height="31" opacity=".26"/>
<rect x="822" y="381" width="1" height="31" opacity=".27"/>
<rect x="823" y="381" width="1" height="31" opacity=".26"/>
<rect x="824" y="381" width="2" height="31" opacity=".25"/>
<rect x="826" y="381" width="1" height="31" opacity=".26"/>
<rect x="827" y="381" width="5" height="31" opacity=".25"/>
<rect x="832" y="381" width="2" height="31" opacity=".26"/>
<rect x="834" y="381" width="1" height="31" opacity=".24"/>
<rect x="835" y="381" width="2" height="31" opacity=".26"/>
<rect x="837" y="381" width="3" height="31" opacity=".25"/>
<rect x="840" y="381" width="1" height="31" opacity=".24"/>
<rect x="841" y="381" width="2" height="31" opacity=".25"/>
<rect x="843" y="381" width="1" height="31" opacity=".26"/>
<rect x="844" y="381" width="1" height="31" opacity=".27"/>
<rect x="845" y="381" width="1" height="31" opacity=".26"/>
<rect x="846" y="381" width="4" height="31" opacity=".27"/>
<rect x="850" y="381" width="1" height="31" opacity=".26"/>
<rect x="851" y="381" width="1" height="31" opacity=".25"/>
<rect x="852" y="381" width="1" height="31" opacity=".24"/>
<rect x="853" y="381" width="1" height="31" opacity=".28"/>
<rect x="854" y="381" width="2" height="31" opacity=".27"/>
<rect x="856" y="381" width="1" height="31" opacity=".25"/>
<rect x="857" y="381" width="1" height="31" opacity=".29"/>
<rect x="858" y="381" width="1" height="31" opacity=".28"/>
<rect x="859" y="381" width="1" height="31" opacity=".25"/>
<rect x="860" y="381" width="1" height="31" opacity=".26"/>
<rect x="861" y="381" width="1" height="31" opacity=".27"/>
<rect x="862" y="381" width="1" height="31" opacity=".26"/>
<rect x="863" y="381" width="1" height="31" opacity=".25"/>
<rect x="864" y="381" width="1" height="31" opacity=".26"/>
<rect x="865" y="381" width="2" height="31" opacity=".24"/>
<rect x="867" y="381" width="2" height="31" opacity=".25"/>
<rect x="869" y="381" width="2" height="31" opacity=".28"/>
<rect x="871" y="381" width="1" height="31" opacity=".25"/>
<rect x="872" y="381" width="1" height="31" opacity=".24"/>
<rect x="873" y="381" width="3" height="31" opacity=".25"/>
<rect x="876" y="381" width="4" height="31" opacity=".26"/>
<rect x="880" y="381" width="2" height="31" opacity=".25"/>
<rect x="882" y="381" width="1" height="31" opacity=".26"/>
<rect x="883" y="381" width="1" height="31" opacity=".25"/>
<rect x="884" y="381" width="1" height="31" opacity=".26"/>
<rect x="885" y="381" width="3" height="31" opacity=".25"/>
<rect x="888" y="381" width="2" height="31" opacity=".27"/>
<rect x="890" y="381" width="1" height="31" opacity=".26"/>
<rect x="891" y="381" width="2" height="31" opacity=".24"/>
<rect x="893" y="381" width="1" height="31" opacity=".25"/>
<rect x="894" y="381" width="1" height="31" opacity=".26"/>
<rect x="895" y="381" width="1" height="31" opacity=".25"/>
<rect x="896" y="381" width="2" height="31" opacity=".27"/>
<rect x="898" y="381" width="5" height="31" opacity=".24"/>
<rect x="903" y="381" width="1" height="31" opacity=".25"/>
<rect x="904" y="381" width="1" height="31" opacity=".24"/>
<rect x="905" y="381" width="2" height="31" opacity=".25"/>
<rect x="907" y="381" width="1" height="31" opacity=".26"/>
<rect x="908" y="381" width="2" height="31" opacity=".25"/>
<rect x="910" y="381" width="1" height="31" opacity=".26"/>
<rect x="911" y="381" width="1" height="31" opacity=".24"/>
<rect x="912" y="381" width="3" height="31" opacity=".26"/>
<rect x="915" y="381" width="2" height="31" opacity=".25"/>
<rect x="917" y="381" width="1" height="31" opacity=".26"/>
<rect x="918" y="381" width="1" height="31" opacity=".25"/>
<rect x="919" y="381" width="1" height="31" opacity=".26"/>
<rect x="920" y="381" width="1" height="31" opacity=".27"/>
<rect x="921" y="381" width="2" height="31" opacity=".23"/>
<rect x="923" y="381" width="2" height="31" opacity=".25"/>
<rect x="925" y="381" width="1" height="31" opacity=".24"/>
<rect x="926" y="381" width="1" height="31" opacity=".25"/>
<rect x="927" y="381" width="2" height="31" opacity=".24"/>
<rect x="929" y="381" width="2" height="31" opacity=".25"/>
<rect x="931" y="381" width="3" height="31" opacity=".24"/>
</g>
<g>
<rect x="67" y="412" width="867" height="1" fill="#afafaf"/>
<rect x="67" y="413" width="867" height="2" fill="#a4a4a4"/>
<rect x="67" y="415" width="867" height="1" fill="#a9a9a9"/>
<rect x="67" y="416" width="867" height="1" fill="#afafaf"/>
<rect x="67" y="412" width="16" height="5" opacity="1"/>
<rect x="83" y="412" width="1" height="5" opacity=".09"/>
<rect x="84" y="412" width="1" height="5" opacity=".02"/>
<rect x="85" y="412" width="1" height="5" opacity=".01"/>
<rect x="86" y="412" width="1" height="5" opacity=".02"/>
<rect x="87" y="412" width="1" height="5" opacity=".03"/>
<rect x="88" y="412" width="2" height="5" opacity=".02"/>
<rect x="90" y="412" width="1" height="5" opacity=".03"/>
<rect x="92" y="412" width="1" height="5" opacity=".02"/>
<rect x="93" y="412" width="1" height="5" opacity=".01"/>
<rect x="94" y="412" width="1" height="5" opacity=".04"/>
<rect x="96" y="412" width="2" height="5" opacity=".04"/>
<rect x="98" y="412" width="2" height="5" opacity=".03"/>
<rect x="100" y="412" width="1" height="5" opacity=".07"/>
<rect x="101" y="412" width="1" height="5" opacity=".08"/>
<rect x="102" y="412" width="2" height="5" opacity=".09"/>
<rect x="104" y="412" width="2" height="5" opacity=".1"/>
<rect x="106" y="412" width="1" height="5" opacity=".12"/>
<rect x="107" y="412" width="1" height="5" opacity=".13"/>
<rect x="108" y="412" width="1" height="5" opacity=".08"/>
<rect x="109" y="412" width="1" height="5" opacity=".11"/>
<rect x="110" y="412" width="1" height="5" opacity=".09"/>
<rect x="111" y="412" width="1" height="5" opacity=".08"/>
<rect x="112" y="412" width="1" height="5" opacity=".07"/>
<rect x="113" y="412" width="1" height="5" opacity=".12"/>
<rect x="114" y="412" width="1" height="5" opacity=".07"/>
<rect x="115" y="412" width="1" height="5" opacity=".1"/>
<rect x="116" y="412" width="1" height="5" opacity=".09"/>
<rect x="117" y="412" width="1" height="5" opacity=".1"/>
<rect x="118" y="412" width="1" height="5" opacity=".13"/>
<rect x="119" y="412" width="2" height="5" opacity=".11"/>
<rect x="121" y="412" width="1" height="5" opacity=".12"/>
<rect x="122" y="412" width="2" height="5" opacity=".1"/>
<rect x="124" y="412" width="3" height="5" opacity=".08"/>
<rect x="127" y="412" width="1" height="5" opacity=".05"/>
<rect x="128" y="412" width="2" height="5" opacity=".07"/>
<rect x="130" y="412" width="1" height="5" opacity=".08"/>
<rect x="131" y="412" width="1" height="5" opacity=".1"/>
<rect x="132" y="412" width="1" height="5" opacity=".13"/>
<rect x="133" y="412" width="1" height="5" opacity=".08"/>
<rect x="134" y="412" width="2" height="5" opacity=".1"/>
<rect x="136" y="412" width="1" height="5" opacity=".08"/>
<rect x="137" y="412" width="1" height="5" opacity=".06"/>
<rect x="138" y="412" width="2" height="5" opacity=".07"/>
<rect x="140" y="412" width="1" height="5" opacity=".08"/>
<rect x="141" y="412" width="2" height="5" opacity=".11"/>
<rect x="143" y="412" width="1" height="5" opacity=".09"/>
<rect x="144" y="412" width="2" height="5" opacity=".08"/>
<rect x="146" y="412" width="1" height="5" opacity=".09"/>
<rect x="147" y="412" width="1" height="5" opacity=".15"/>
<rect x="148" y="412" width="1" height="5" opacity=".11"/>
<rect x="149" y="412" width="1" height="5" opacity=".13"/>
<rect x="150" y="412" width="2" height="5" opacity=".11"/>
<rect x="152" y="412" width="1" height="5" opacity=".07"/>
<rect x="153" y="412" width="1" height="5" opacity=".09"/>
<rect x="154" y="412" width="1" height="5" opacity=".1"/>
<rect x="155" y="412" width="1" height="5" opacity=".08"/>
<rect x="156" y="412" width="1" height="5" opacity=".1"/>
<rect x="157" y="412" width="3" height="5" opacity=".08"/>
<rect x="160" y="412" width="1" height="5" opacity=".09"/>
<rect x="161" y="412" width="1" height="5" opacity=".07"/>
<rect x="162" y="412" width="1" height="5" opacity=".09"/>
<rect x="163" y="412" width="3" height="5" opacity=".11"/>
<rect x="166" y="412" width="1" height="5" opacity=".13"/>
<rect x="167" y="412" width="2" height="5" opacity=".08"/>
<rect x="169" y="412" width="1" height="5" opacity=".11"/>
<rect x="170" y="412" width="1" height="5" opacity=".14"/>
<rect x="171" y="412" width="1" height="5" opacity=".13"/>
<rect x="172" y="412" width="3" height="5" opacity=".15"/>
<rect x="175" y="412" width="1" height="5" opacity=".14"/>
<rect x="176" y="412" width="1" height="5" opacity=".15"/>
<rect x="177" y="412" width="1" height="5" opacity=".14"/>
<rect x="178" y="412" width="1" height="5" opacity=".15"/>
<rect x="179" y="412" width="1" height="5" opacity=".18"/>
<rect x="180" y="412" width="1" height="5" opacity=".17"/>
<rect x="181" y="412" width="1" height="5" opacity=".18"/>
<rect x="182" y="412" width="1" height="5" opacity=".15"/>
<rect x="183" y="412" width="1" height="5" opacity=".14"/>
<rect x="184" y="412" width="1" height="5" opacity=".19"/>
<rect x="185" y="412" width="1" height="5" opacity=".14"/>
<rect x="186" y="412" width="1" height="5" opacity=".15"/>
<rect x="187" y="412" width="1" height="5" opacity=".16"/>
<rect x="188" y="412" width="1" height="5" opacity=".15"/>
<rect x="189" y="412" width="1" height="5" opacity=".16"/>
<rect x="190" y="412" width="1" height="5" opacity=".17"/>
<rect x="191" y="412" width="1" height="5" opacity=".15"/>
<rect x="192" y="412" width="4" height="5" opacity=".13"/>
<rect x="196" y="412" width="1" height="5" opacity=".16"/>
<rect x="197" y="412" width="1" height="5" opacity=".17"/>
<rect x="198" y="412" width="1" height="5" opacity=".19"/>
<rect x="199" y="412" width="2" height="5" opacity=".2"/>
<rect x="201" y="412" width="1" height="5" opacity=".18"/>
<rect x="202" y="412" width="2" height="5" opacity=".2"/>
<rect x="204" y="412" width="1" height="5" opacity=".19"/>
<rect x="205" y="412" width="1" height="5" opacity=".2"/>
<rect x="206" y="412" width="3" height="5" opacity=".21"/>
<rect x="209" y="412" width="4" height="5" opacity=".2"/>
<rect x="213" y="412" width="2" height="5" opacity=".19"/>
<rect x="215" y="412" width="2" height="5" opacity=".17"/>
<rect x="217" y="412" width="3" height="5" opacity=".2"/>
<rect x="220" y="412" width="2" height="5" opacity=".19"/>
<rect x="222" y="412" width="2" height="5" opacity=".2"/>
<rect x="224" y="412" width="1" height="5" opacity=".21"/>
<rect x="225" y="412" width="1" height="5" opacity=".2"/>
<rect x="226" y="412" width="1" height="5" opacity=".19"/>
<rect x="227" y="412" width="1" height="5" opacity=".2"/>
<rect x="228" y="412" width="1" height="5" opacity=".19"/>
<rect x="229" y="412" width="1" height="5" opacity=".21"/>
<rect x="230" y="412" width="4" height="5" opacity=".2"/>
<rect x="234" y="412" width="1" height="5" opacity=".21"/>
<rect x="235" y="412" width="1" height="5" opacity=".18"/>
<rect x="236" y="412" width="2" height="5" opacity=".2"/>
<rect x="238" y="412" width="2" height="5" opacity=".19"/>
<rect x="240" y="412" width="1" height="5" opacity=".2"/>
<rect x="241" y="412" width="1" height="5" opacity=".18"/>
<rect x="242" y="412" width="1" height="5" opacity=".19"/>
<rect x="243" y="412" width="1" height="5" opacity=".18"/>
<rect x="244" y="412" width="1" height="5" opacity=".21"/>
<rect x="245" y="412" width="1" height="5" opacity=".18"/>
<rect x="246" y="412" width="1" height="5" opacity=".15"/>
<rect x="247" y="412" width="1" height="5" opacity=".13"/>
<rect x="248" y="412" width="1" height="5" opacity=".11"/>
<rect x="249" y="412" width="2" height="5" opacity=".14"/>
<rect x="251" y="412" width="1" height="5" opacity=".11"/>
<rect x="252" y="412" width="2" height="5" opacity=".12"/>
<rect x="254" y="412" width="1" height="5" opacity=".14"/>
<rect x="255" y="412" width="1" height="5" opacity=".12"/>
<rect x="256" y="412" width="1" height="5" opacity=".15"/>
<rect x="257" y="412" width="1" height="5" opacity=".12"/>
<rect x="258" y="412" width="1" height="5" opacity=".1"/>
<rect x="259" y="412" width="1" height="5" opacity=".11"/>
<rect x="260" y="412" width="1" height="5" opacity=".12"/>
<rect x="261" y="412" width="2" height="5" opacity=".1"/>
<rect x="263" y="412" width="1" height="5" opacity=".12"/>
<rect x="264" y="412" width="1" height="5" opacity=".11"/>
<rect x="265" y="412" width="1" height="5" opacity=".16"/>
<rect x="266" y="412" width="1" height="5" opacity=".17"/>
<rect x="267" y="412" width="1" height="5" opacity=".11"/>
<rect x="268" y="412" width="2" height="5" opacity=".1"/>
<rect x="270" y="412" width="1" height="5" opacity=".09"/>
<rect x="271" y="412" width="1" height="5" opacity=".11"/>
<rect x="272" y="412" width="1" height="5" opacity=".12"/>
<rect x="273" y="412" width="1" height="5" opacity=".11"/>
<rect x="274" y="412" width="1" height="5" opacity=".07"/>
<rect x="275" y="412" width="1" height="5" opacity=".11"/>
<rect x="276" y="412" width="2" height="5" opacity=".13"/>
<rect x="278" y="412" width="1" height="5" opacity=".12"/>
<rect x="279" y="412" width="1" height="5" opacity=".1"/>
<rect x="280" y="412" width="1" height="5" opacity=".11"/>
<rect x="281" y="412" width="1" height="5" opacity=".16"/>
<rect x="282" y="412" width="1" height="5" opacity=".15"/>
<rect x="283" y="412" width="1" height="5" opacity=".1"/>
<rect x="284" y="412" width="1" height="5" opacity=".13"/>
<rect x="285" y="412" width="1" height="5" opacity=".12"/>
<rect x="286" y="412" width="1" height="5" opacity=".13"/>
<rect x="287" y="412" width="2" height="5" opacity=".1"/>
<rect x="289" y="412" width="1" height="5" opacity=".12"/>
<rect x="290" y="412" width="2" height="5" opacity=".11"/>
<rect x="292" y="412" width="1" height="5" opacity=".09"/>
<rect x="293" y="412" width="1" height="5" opacity=".07"/>
<rect x="294" y="412" width="1" height="5" opacity=".09"/>
<rect x="295" y="412" width="1" height="5" opacity=".14"/>
<rect x="296" y="412" width="2" height="5" opacity=".12"/>
<rect x="298" y="412" width="1" height="5" opacity=".1"/>
<rect x="299" y="412" width="2" height="5" opacity=".09"/>
<rect x="301" y="412" width="2" height="5" opacity=".11"/>
<rect x="303" y="412" width="2" height="5" opacity=".12"/>
<rect x="305" y="412" width="1" height="5" opacity=".11"/>
<rect x="306" y="412" width="1" height="5" opacity=".09"/>
<rect x="307" y="412" width="1" height="5" opacity=".12"/>
<rect x="308" y="412" width="1" height="5" opacity=".13"/>
<rect x="309" y="412" width="1" height="5" opacity=".12"/>
<rect x="310" y="412" width="2" height="5" opacity=".11"/>
<rect x="312" y="412" width="1" height="5" opacity=".16"/>
<rect x="313" y="412" width="1" height="5" opacity=".1"/>
<rect x="314" y="412" width="1" height="5" opacity=".09"/>
<rect x="315" y="412" width="1" height="5" opacity=".12"/>
<rect x="316" y="412" width="1" height="5" opacity=".11"/>
<rect x="317" y="412" width="1" height="5" opacity=".1"/>
<rect x="318" y="412" width="1" height="5" opacity=".08"/>
<rect x="319" y="412" width="3" height="5" opacity=".13"/>
<rect x="322" y="412" width="1" height="5" opacity=".1"/>
<rect x="323" y="412" width="1" height="5" opacity=".11"/>
<rect x="324" y="412" width="1" height="5" opacity=".1"/>
<rect x="325" y="412" width="2" height="5" opacity=".08"/>
<rect x="327" y="412" width="2" height="5" opacity=".1"/>
<rect x="329" y="412" width="1" height="5" opacity=".08"/>
<rect x="330" y="412" width="1" height="5" opacity=".09"/>
<rect x="331" y="412" width="4" height="5" opacity=".1"/>
<rect x="335" y="412" width="1" height="5" opacity=".12"/>
<rect x="336" y="412" width="1" height="5" opacity=".1"/>
<rect x="337" y="412" width="1" height="5" opacity=".09"/>
<rect x="338" y="412" width="1" height="5" opacity=".14"/>
<rect x="339" y="412" width="1" height="5" opacity=".11"/>
<rect x="340" y="412" width="1" height="5" opacity=".08"/>
<rect x="341" y="412" width="2" height="5" opacity=".07"/>
<rect x="343" y="412" width="1" height="5" opacity=".06"/>
<rect x="344" y="412" width="1" height="5" opacity=".08"/>
<rect x="345" y="412" width="2" height="5" opacity=".07"/>
<rect x="347" y="412" width="1" height="5" opacity=".09"/>
<rect x="348" y="412" width="1" height="5" opacity=".11"/>
<rect x="349" y="412" width="1" height="5" opacity=".09"/>
<rect x="350" y="412" width="1" height="5" opacity=".06"/>
<rect x="351" y="412" width="1" height="5" opacity=".1"/>
<rect x="352" y="412" width="1" height="5" opacity=".08"/>
<rect x="353" y="412" width="1" height="5" opacity=".06"/>
<rect x="354" y="412" width="1" height="5" opacity=".09"/>
<rect x="355" y="412" width="1" height="5" opacity=".1"/>
<rect x="356" y="412" width="1" height="5" opacity=".05"/>
<rect x="357" y="412" width="2" height="5" opacity=".08"/>
<rect x="359" y="412" width="1" height="5" opacity=".04"/>
<rect x="360" y="412" width="2" height="5" opacity=".07"/>
<rect x="362" y="412" width="1" height="5" opacity=".08"/>
<rect x="363" y="412" width="1" height="5" opacity=".09"/>
<rect x="364" y="412" width="1" height="5" opacity=".08"/>
<rect x="365" y="412" width="1" height="5" opacity=".1"/>
<rect x="366" y="412" width="1" height="5" opacity=".09"/>
<rect x="367" y="412" width="1" height="5" opacity=".08"/>
<rect x="368" y="412" width="1" height="5" opacity=".1"/>
<rect x="369" y="412" width="1" height="5" opacity=".07"/>
<rect x="370" y="412" width="1" height="5" opacity=".05"/>
<rect x="371" y="412" width="1" height="5" opacity=".08"/>
<rect x="372" y="412" width="1" height="5" opacity=".09"/>
<rect x="373" y="412" width="2" height="5" opacity=".07"/>
<rect x="375" y="412" width="1" height="5" opacity=".08"/>
<rect x="376" y="412" width="1" height="5" opacity=".1"/>
<rect x="377" y="412" width="1" height="5" opacity=".12"/>
<rect x="378" y="412" width="1" height="5" opacity=".1"/>
<rect x="379" y="412" width="2" height="5" opacity=".11"/>
<rect x="381" y="412" width="1" height="5" opacity=".08"/>
<rect x="382" y="412" width="1" height="5" opacity=".07"/>
<rect x="383" y="412" width="1" height="5" opacity=".04"/>
<rect x="384" y="412" width="1" height="5" opacity=".08"/>
<rect x="385" y="412" width="1" height="5" opacity=".07"/>
<rect x="386" y="412" width="1" height="5" opacity=".11"/>
<rect x="387" y="412" width="1" height="5" opacity=".14"/>
<rect x="388" y="412" width="3" height="5" opacity=".15"/>
<rect x="391" y="412" width="2" height="5" opacity=".18"/>
<rect x="393" y="412" width="1" height="5" opacity=".2"/>
<rect x="394" y="412" width="1" height="5" opacity=".19"/>
<rect x="395" y="412" width="1" height="5" opacity=".17"/>
<rect x="396" y="412" width="1" height="5" opacity=".18"/>
<rect x="397" y="412" width="1" height="5" opacity=".17"/>
<rect x="398" y="412" width="1" height="5" opacity=".18"/>
<rect x="399" y="412" width="3" height="5" opacity=".17"/>
<rect x="402" y="412" width="1" height="5" opacity=".15"/>
<rect x="403" y="412" width="1" height="5" opacity=".18"/>
<rect x="404" y="412" width="1" height="5" opacity=".2"/>
<rect x="405" y="412" width="1" height="5" opacity=".19"/>
<rect x="406" y="412" width="1" height="5" opacity=".17"/>
<rect x="407" y="412" width="1" height="5" opacity=".2"/>
<rect x="408" y="412" width="1" height="5" opacity=".19"/>
<rect x="409" y="412" width="1" height="5" opacity=".18"/>
<rect x="410" y="412" width="1" height="5" opacity=".17"/>
<rect x="411" y="412" width="1" height="5" opacity=".19"/>
<rect x="412" y="412" width="1" height="5" opacity=".17"/>
<rect x="413" y="412" width="2" height="5" opacity=".16"/>
<rect x="415" y="412" width="2" height="5" opacity=".19"/>
<rect x="417" y="412" width="1" height="5" opacity=".16"/>
<rect x="418" y="412" width="1" height="5" opacity=".15"/>
<rect x="419" y="412" width="3" height="5" opacity=".16"/>
<rect x="422" y="412" width="1" height="5" opacity=".17"/>
<rect x="423" y="412" width="1" height="5" opacity=".19"/>
<rect x="424" y="412" width="1" height="5" opacity=".22"/>
<rect x="425" y="412" width="1" height="5" opacity=".16"/>
<rect x="426" y="412" width="1" height="5" opacity=".18"/>
<rect x="427" y="412" width="1" height="5" opacity=".14"/>
<rect x="428" y="412" width="1" height="5" opacity=".15"/>
<rect x="429" y="412" width="1" height="5" opacity=".16"/>
<rect x="430" y="412" width="1" height="5" opacity=".17"/>
<rect x="431" y="412" width="1" height="5" opacity=".15"/>
<rect x="432" y="412" width="1" height="5" opacity=".14"/>
<rect x="433" y="412" width="2" height="5" opacity=".19"/>
<rect x="435" y="412" width="1" height="5" opacity=".17"/>
<rect x="436" y="412" width="1" height="5" opacity=".15"/>
<rect x="437" y="412" width="1" height="5" opacity=".19"/>
<rect x="438" y="412" width="1" height="5" opacity=".18"/>
<rect x="439" y="412" width="1" height="5" opacity=".16"/>
<rect x="440" y="412" width="1" height="5" opacity=".15"/>
<rect x="441" y="412" width="1" height="5" opacity=".17"/>
<rect x="442" y="412" width="1" height="5" opacity=".16"/>
<rect x="443" y="412" width="1" height="5" opacity=".15"/>
<rect x="444" y="412" width="3" height="5" opacity=".14"/>
<rect x="447" y="412" width="1" height="5" opacity=".18"/>
<rect x="448" y="412" width="1" height="5" opacity=".16"/>
<rect x="449" y="412" width="1" height="5" opacity=".17"/>
<rect x="450" y="412" width="1" height="5" opacity=".19"/>
<rect x="451" y="412" width="1" height="5" opacity=".16"/>
<rect x="452" y="412" width="1" height="5" opacity=".17"/>
<rect x="453" y="412" width="1" height="5" opacity=".18"/>
<rect x="454" y="412" width="1" height="5" opacity=".2"/>
<rect x="455" y="412" width="2" height="5" opacity=".19"/>
<rect x="457" y="412" width="1" height="5" opacity=".18"/>
<rect x="458" y="412" width="1" height="5" opacity=".2"/>
<rect x="459" y="412" width="3" height="5" opacity=".16"/>
<rect x="462" y="412" width="2" height="5" opacity=".17"/>
<rect x="464" y="412" width="1" height="5" opacity=".18"/>
<rect x="465" y="412" width="1" height="5" opacity=".19"/>
<rect x="466" y="412" width="1" height="5" opacity=".18"/>
<rect x="467" y="412" width="1" height="5" opacity=".16"/>
<rect x="468" y="412" width="1" height="5" opacity=".15"/>
<rect x="469" y="412" width="1" height="5" opacity=".13"/>
<rect x="470" y="412" width="1" height="5" opacity=".14"/>
<rect x="471" y="412" width="5" height="5" opacity=".17"/>
<rect x="476" y="412" width="1" height="5" opacity=".19"/>
<rect x="477" y="412" width="2" height="5" opacity=".18"/>
<rect x="479" y="412" width="2" height="5" opacity=".15"/>
<rect x="481" y="412" width="2" height="5" opacity=".16"/>
<rect x="483" y="412" width="1" height="5" opacity=".22"/>
<rect x="484" y="412" width="1" height="5" opacity=".16"/>
<rect x="485" y="412" width="3" height="5" opacity=".17"/>
<rect x="488" y="412" width="1" height="5" opacity=".16"/>
<rect x="489" y="412" width="1" height="5" opacity=".15"/>
<rect x="490" y="412" width="1" height="5" opacity=".22"/>
<rect x="491" y="412" width="1" height="5" opacity=".16"/>
<rect x="492" y="412" width="2" height="5" opacity=".18"/>
<rect x="494" y="412" width="1" height="5" opacity=".2"/>
<rect x="495" y="412" width="1" height="5" opacity=".17"/>
<rect x="496" y="412" width="1" height="5" opacity=".16"/>
<rect x="497" y="412" width="1" height="5" opacity=".13"/>
<rect x="498" y="412" width="1" height="5" opacity=".16"/>
<rect x="499" y="412" width="1" height="5" opacity=".17"/>
<rect x="500" y="412" width="1" height="5" opacity=".16"/>
<rect x="501" y="412" width="1" height="5" opacity=".15"/>
<rect x="502" y="412" width="7" height="5" opacity=".16"/>
<rect x="509" y="412" width="1" height="5" opacity=".17"/>
<rect x="510" y="412" width="1" height="5" opacity=".16"/>
<rect x="511" y="412" width="1" height="5" opacity=".18"/>
<rect x="512" y="412" width="1" height="5" opacity=".17"/>
<rect x="513" y="412" width="1" height="5" opacity=".16"/>
<rect x="514" y="412" width="1" height="5" opacity=".15"/>
<rect x="515" y="412" width="1" height="5" opacity=".17"/>
<rect x="516" y="412" width="1" height="5" opacity=".19"/>
<rect x="517" y="412" width="1" height="5" opacity=".18"/>
<rect x="518" y="412" width="1" height="5" opacity=".19"/>
<rect x="519" y="412" width="2" height="5" opacity=".17"/>
<rect x="521" y="412" width="2" height="5" opacity=".15"/>
<rect x="523" y="412" width="1" height="5" opacity=".18"/>
<rect x="524" y="412" width="1" height="5" opacity=".15"/>
<rect x="525" y="412" width="1" height="5" opacity=".18"/>
<rect x="526" y="412" width="1" height="5" opacity=".16"/>
<rect x="527" y="412" width="1" height="5" opacity=".17"/>
<rect x="528" y="412" width="1" height="5" opacity=".16"/>
<rect x="529" y="412" width="1" height="5" opacity=".14"/>
<rect x="530" y="412" width="1" height="5" opacity=".13"/>
<rect x="531" y="412" width="1" height="5" opacity=".15"/>
<rect x="532" y="412" width="1" height="5" opacity=".16"/>
<rect x="533" y="412" width="1" height="5" opacity=".18"/>
<rect x="534" y="412" width="1" height="5" opacity=".21"/>
<rect x="535" y="412" width="1" height="5" opacity=".17"/>
<rect x="536" y="412" width="1" height="5" opacity=".2"/>
<rect x="537" y="412" width="1" height="5" opacity=".17"/>
<rect x="538" y="412" width="1" height="5" opacity=".18"/>
<rect x="539" y="412" width="1" height="5" opacity=".14"/>
<rect x="540" y="412" width="1" height="5" opacity=".17"/>
<rect x="541" y="412" width="1" height="5" opacity=".16"/>
<rect x="542" y="412" width="1" height="5" opacity=".18"/>
<rect x="543" y="412" width="1" height="5" opacity=".17"/>
<rect x="544" y="412" width="2" height="5" opacity=".15"/>
<rect x="546" y="412" width="1" height="5" opacity=".16"/>
<rect x="547" y="412" width="1" height="5" opacity=".18"/>
<rect x="548" y="412" width="1" height="5" opacity=".17"/>
<rect x="549" y="412" width="1" height="5" opacity=".15"/>
<rect x="550" y="412" width="1" height="5" opacity=".2"/>
<rect x="551" y="412" width="1" height="5" opacity=".22"/>
<rect x="552" y="412" width="1" height="5" opacity=".19"/>
<rect x="553" y="412" width="1" height="5" opacity=".13"/>
<rect x="554" y="412" width="2" height="5" opacity=".15"/>
<rect x="556" y="412" width="1" height="5" opacity=".16"/>
<rect x="557" y="412" width="1" height="5" opacity=".14"/>
<rect x="558" y="412" width="1" height="5" opacity=".15"/>
<rect x="559" y="412" width="1" height="5" opacity=".17"/>
<rect x="560" y="412" width="1" height="5" opacity=".18"/>
<rect x="561" y="412" width="1" height="5" opacity=".16"/>
<rect x="562" y="412" width="1" height="5" opacity=".18"/>
<rect x="563" y="412" width="1" height="5" opacity=".17"/>
<rect x="564" y="412" width="1" height="5" opacity=".18"/>
<rect x="565" y="412" width="1" height="5" opacity=".2"/>
<rect x="566" y="412" width="1" height="5" opacity=".22"/>
<rect x="567" y="412" width="1" height="5" opacity=".16"/>
<rect x="568" y="412" width="1" height="5" opacity=".15"/>
<rect x="569" y="412" width="1" height="5" opacity=".14"/>
<rect x="570" y="412" width="1" height="5" opacity=".16"/>
<rect x="571" y="412" width="1" height="5" opacity=".15"/>
<rect x="572" y="412" width="1" height="5" opacity=".17"/>
<rect x="573" y="412" width="3" height="5" opacity=".18"/>
<rect x="576" y="412" width="1" height="5" opacity=".17"/>
<rect x="577" y="412" width="1" height="5" opacity=".19"/>
<rect x="578" y="412" width="1" height="5" opacity=".17"/>
<rect x="579" y="412" width="1" height="5" opacity=".19"/>
<rect x="580" y="412" width="1" height="5" opacity=".18"/>
<rect x="581" y="412" width="1" height="5" opacity=".19"/>
<rect x="582" y="412" width="1" height="5" opacity=".16"/>
<rect x="583" y="412" width="1" height="5" opacity=".13"/>
<rect x="584" y="412" width="1" height="5" opacity=".15"/>
<rect x="585" y="412" width="1" height="5" opacity=".19"/>
<rect x="586" y="412" width="2" height="5" opacity=".17"/>
<rect x="588" y="412" width="1" height="5" opacity=".18"/>
<rect x="589" y="412" width="4" height="5" opacity=".17"/>
<rect x="593" y="412" width="2" height="5" opacity=".18"/>
<rect x="595" y="412" width="1" height="5" opacity=".2"/>
<rect x="596" y="412" width="1" height="5" opacity=".19"/>
<rect x="597" y="412" width="1" height="5" opacity=".16"/>
<rect x="598" y="412" width="1" height="5" opacity=".19"/>
<rect x="599" y="412" width="1" height="5" opacity=".16"/>
<rect x="600" y="412" width="1" height="5" opacity=".15"/>
<rect x="601" y="412" width="1" height="5" opacity=".19"/>
<rect x="602" y="412" width="1" height="5" opacity=".18"/>
<rect x="603" y="412" width="1" height="5" opacity=".2"/>
<rect x="604" y="412" width="1" height="5" opacity=".15"/>
<rect x="605" y="412" width="2" height="5" opacity=".18"/>
<rect x="607" y="412" width="1" height="5" opacity=".17"/>
<rect x="608" y="412" width="1" height="5" opacity=".18"/>
<rect x="609" y="412" width="2" height="5" opacity=".17"/>
<rect x="611" y="412" width="3" height="5" opacity=".18"/>
<rect x="614" y="412" width="1" height="5" opacity=".21"/>
<rect x="615" y="412" width="2" height="5" opacity=".2"/>
<rect x="617" y="412" width="1" height="5" opacity=".17"/>
<rect x="618" y="412" width="1" height="5" opacity=".2"/>
<rect x="619" y="412" width="2" height="5" opacity=".22"/>
<rect x="621" y="412" width="1" height="5" opacity=".15"/>
<rect x="622" y="412" width="1" height="5" opacity=".17"/>
<rect x="623" y="412" width="2" height="5" opacity=".18"/>
<rect x="625" y="412" width="1" height="5" opacity=".2"/>
<rect x="626" y="412" width="1" height="5" opacity=".17"/>
<rect x="627" y="412" width="1" height="5" opacity=".19"/>
<rect x="628" y="412" width="1" height="5" opacity=".17"/>
<rect x="629" y="412" width="1" height="5" opacity=".19"/>
<rect x="630" y="412" width="1" height="5" opacity=".16"/>
<rect x="631" y="412" width="1" height="5" opacity=".19"/>
<rect x="632" y="412" width="1" height="5" opacity=".18"/>
<rect x="633" y="412" width="1" height="5" opacity=".16"/>
<rect x="634" y="412" width="2" height="5" opacity=".15"/>
<rect x="636" y="412" width="1" height="5" opacity=".17"/>
<rect x="637" y="412" width="1" height="5" opacity=".18"/>
<rect x="638" y="412" width="1" height="5" opacity=".19"/>
<rect x="639" y="412" width="1" height="5" opacity=".18"/>
<rect x="640" y="412" width="2" height="5" opacity=".16"/>
<rect x="642" y="412" width="2" height="5" opacity=".18"/>
<rect x="644" y="412" width="1" height="5" opacity=".17"/>
<rect x="645" y="412" width="1" height="5" opacity=".16"/>
<rect x="646" y="412" width="1" height="5" opacity=".18"/>
<rect x="647" y="412" width="1" height="5" opacity=".2"/>
<rect x="648" y="412" width="1" height="5" opacity=".19"/>
<rect x="649" y="412" width="1" height="5" opacity=".18"/>
<rect x="650" y="412" width="1" height="5" opacity=".16"/>
<rect x="651" y="412" width="1" height="5" opacity=".18"/>
<rect x="652" y="412" width="2" height="5" opacity=".19"/>
<rect x="654" y="412" width="2" height="5" opacity=".18"/>
<rect x="656" y="412" width="2" height="5" opacity=".19"/>
<rect x="658" y="412" width="1" height="5" opacity=".18"/>
<rect x="659" y="412" width="2" height="5" opacity=".19"/>
<rect x="661" y="412" width="1" height="5" opacity=".15"/>
<rect x="662" y="412" width="1" height="5" opacity=".16"/>
<rect x="663" y="412" width="1" height="5" opacity=".17"/>
<rect x="664" y="412" width="1" height="5" opacity=".19"/>
<rect x="665" y="412" width="2" height="5" opacity=".16"/>
<rect x="667" y="412" width="1" height="5" opacity=".17"/>
<rect x="668" y="412" width="1" height="5" opacity=".18"/>
<rect x="669" y="412" width="1" height="5" opacity=".2"/>
<rect x="670" y="412" width="1" height="5" opacity=".17"/>
<rect x="671" y="412" width="2" height="5" opacity=".18"/>
<rect x="673" y="412" width="1" height="5" opacity=".22"/>
<rect x="674" y="412" width="4" height="5" opacity=".18"/>
<rect x="678" y="412" width="1" height="5" opacity=".21"/>
<rect x="679" y="412" width="2" height="5" opacity=".19"/>
<rect x="681" y="412" width="2" height="5" opacity=".18"/>
<rect x="683" y="412" width="1" height="5" opacity=".19"/>
<rect x="684" y="412" width="2" height="5" opacity=".18"/>
<rect x="686" y="412" width="2" height="5" opacity=".17"/>
<rect x="688" y="412" width="1" height="5" opacity=".18"/>
<rect x="689" y="412" width="1" height="5" opacity=".17"/>
<rect x="690" y="412" width="1" height="5" opacity=".16"/>
<rect x="691" y="412" width="1" height="5" opacity=".2"/>
<rect x="692" y="412" width="2" height="5" opacity=".19"/>
<rect x="694" y="412" width="3" height="5" opacity=".18"/>
<rect x="697" y="412" width="1" height="5" opacity=".17"/>
<rect x="698" y="412" width="1" height="5" opacity=".19"/>
<rect x="699" y="412" width="2" height="5" opacity=".16"/>
<rect x="701" y="412" width="2" height="5" opacity=".17"/>
<rect x="703" y="412" width="1" height="5" opacity=".16"/>
<rect x="704" y="412" width="2" height="5" opacity=".18"/>
<rect x="706" y="412" width="1" height="5" opacity=".17"/>
<rect x="707" y="412" width="2" height="5" opacity=".18"/>
<rect x="709" y="412" width="1" height="5" opacity=".15"/>
<rect x="710" y="412" width="1" height="5" opacity=".16"/>
<rect x="711" y="412" width="1" height="5" opacity=".2"/>
<rect x="712" y="412" width="1" height="5" opacity=".21"/>
<rect x="713" y="412" width="1" height="5" opacity=".17"/>
<rect x="714" y="412" width="3" height="5" opacity=".18"/>
<rect x="717" y="412" width="1" height="5" opacity=".17"/>
<rect x="718" y="412" width="1" height="5" opacity=".19"/>
<rect x="719" y="412" width="1" height="5" opacity=".2"/>
<rect x="720" y="412" width="1" height="5" opacity=".18"/>
<rect x="721" y="412" width="2" height="5" opacity=".2"/>
<rect x="723" y="412" width="1" height="5" opacity=".18"/>
<rect x="724" y="412" width="1" height="5" opacity=".2"/>
<rect x="725" y="412" width="2" height="5" opacity=".18"/>
<rect x="727" y="412" width="1" height="5" opacity=".17"/>
<rect x="728" y="412" width="1" height="5" opacity=".18"/>
<rect x="729" y="412" width="1" height="5" opacity=".16"/>
<rect x="730" y="412" width="1" height="5" opacity=".17"/>
<rect x="731" y="412" width="1" height="5" opacity=".16"/>
<rect x="732" y="412" width="1" height="5" opacity=".18"/>
<rect x="733" y="412" width="1" height="5" opacity=".19"/>
<rect x="734" y="412" width="1" height="5" opacity=".21"/>
<rect x="735" y="412" width="1" height="5" opacity=".19"/>
<rect x="736" y="412" width="3" height="5" opacity=".2"/>
<rect x="739" y="412" width="1" height="5" opacity=".21"/>
<rect x="740" y="412" width="3" height="5" opacity=".2"/>
<rect x="743" y="412" width="1" height="5" opacity=".18"/>
<rect x="744" y="412" width="1" height="5" opacity=".19"/>
<rect x="745" y="412" width="1" height="5" opacity=".16"/>
<rect x="746" y="412" width="1" height="5" opacity=".2"/>
<rect x="747" y="412" width="2" height="5" opacity=".17"/>
<rect x="749" y="412" width="2" height="5" opacity=".18"/>
<rect x="751" y="412" width="3" height="5" opacity=".19"/>
<rect x="754" y="412" width="1" height="5" opacity=".17"/>
<rect x="755" y="412" width="1" height="5" opacity=".19"/>
<rect x="756" y="412" width="2" height="5" opacity=".2"/>
<rect x="758" y="412" width="1" height="5" opacity=".16"/>
<rect x="759" y="412" width="1" height="5" opacity=".2"/>
<rect x="760" y="412" width="1" height="5" opacity=".21"/>
<rect x="761" y="412" width="1" height="5" opacity=".2"/>
<rect x="762" y="412" width="1" height="5" opacity=".19"/>
<rect x="763" y="412" width="1" height="5" opacity=".17"/>
<rect x="764" y="412" width="3" height="5" opacity=".18"/>
<rect x="767" y="412" width="1" height="5" opacity=".14"/>
<rect x="768" y="412" width="1" height="5" opacity=".17"/>
<rect x="769" y="412" width="1" height="5" opacity=".18"/>
<rect x="770" y="412" width="4" height="5" opacity=".19"/>
<rect x="774" y="412" width="1" height="5" opacity=".17"/>
<rect x="775" y="412" width="1" height="5" opacity=".19"/>
<rect x="776" y="412" width="1" height="5" opacity=".18"/>
<rect x="777" y="412" width="2" height="5" opacity=".19"/>
<rect x="779" y="412" width="1" height="5" opacity=".16"/>
<rect x="780" y="412" width="1" height="5" opacity=".18"/>
<rect x="781" y="412" width="2" height="5" opacity=".19"/>
<rect x="783" y="412" width="1" height="5" opacity=".2"/>
<rect x="784" y="412" width="1" height="5" opacity=".19"/>
<rect x="785" y="412" width="1" height="5" opacity=".16"/>
<rect x="786" y="412" width="1" height="5" opacity=".18"/>
<rect x="787" y="412" width="2" height="5" opacity=".17"/>
<rect x="789" y="412" width="2" height="5" opacity=".19"/>
<rect x="791" y="412" width="1" height="5" opacity=".17"/>
<rect x="792" y="412" width="1" height="5" opacity=".19"/>
<rect x="793" y="412" width="2" height="5" opacity=".18"/>
<rect x="795" y="412" width="1" height="5" opacity=".19"/>
<rect x="796" y="412" width="1" height="5" opacity=".18"/>
<rect x="797" y="412" width="1" height="5" opacity=".17"/>
<rect x="798" y="412" width="1" height="5" opacity=".16"/>
<rect x="799" y="412" width="2" height="5" opacity=".17"/>
<rect x="801" y="412" width="1" height="5" opacity=".19"/>
<rect x="802" y="412" width="1" height="5" opacity=".18"/>
<rect x="803" y="412" width="2" height="5" opacity=".19"/>
<rect x="805" y="412" width="2" height="5" opacity=".18"/>
<rect x="807" y="412" width="1" height="5" opacity=".23"/>
<rect x="808" y="412" width="2" height="5" opacity=".2"/>
<rect x="810" y="412" width="1" height="5" opacity=".19"/>
<rect x="811" y="412" width="1" height="5" opacity=".18"/>
<rect x="812" y="412" width="1" height="5" opacity=".17"/>
<rect x="813" y="412" width="1" height="5" opacity=".19"/>
<rect x="814" y="412" width="1" height="5" opacity=".18"/>
<rect x="815" y="412" width="2" height="5" opacity=".19"/>
<rect x="817" y="412" width="1" height="5" opacity=".22"/>
<rect x="818" y="412" width="1" height="5" opacity=".19"/>
<rect x="819" y="412" width="2" height="5" opacity=".18"/>
<rect x="821" y="412" width="3" height="5" opacity=".2"/>
<rect x="824" y="412" width="2" height="5" opacity=".18"/>
<rect x="826" y="412" width="1" height="5" opacity=".2"/>
<rect x="827" y="412" width="1" height="5" opacity=".18"/>
<rect x="828" y="412" width="1" height="5" opacity=".17"/>
<rect x="829" y="412" width="3" height="5" opacity=".18"/>
<rect x="832" y="412" width="2" height="5" opacity=".19"/>
<rect x="834" y="412" width="1" height="5" opacity=".17"/>
<rect x="835" y="412" width="2" height="5" opacity=".2"/>
<rect x="837" y="412" width="1" height="5" opacity=".19"/>
<rect x="838" y="412" width="1" height="5" opacity=".18"/>
<rect x="839" y="412" width="3" height="5" opacity=".17"/>
<rect x="842" y="412" width="1" height="5" opacity=".18"/>
<rect x="843" y="412" width="2" height="5" opacity=".2"/>
<rect x="845" y="412" width="1" height="5" opacity=".19"/>
<rect x="846" y="412" width="4" height="5" opacity=".21"/>
<rect x="850" y="412" width="1" height="5" opacity=".19"/>
<rect x="851" y="412" width="1" height="5" opacity=".18"/>
<rect x="852" y="412" width="1" height="5" opacity=".16"/>
<rect x="853" y="412" width="2" height="5" opacity=".22"/>
<rect x="855" y="412" width="1" height="5" opacity=".2"/>
<rect x="856" y="412" width="1" height="5" opacity=".17"/>
<rect x="857" y="412" width="1" height="5" opacity=".25"/>
<rect x="858" y="412" width="1" height="5" opacity=".22"/>
<rect x="859" y="412" width="1" height="5" opacity=".18"/>
<rect x="860" y="412" width="1" height="5" opacity=".2"/>
<rect x="861" y="412" width="1" height="5" opacity=".22"/>
<rect x="862" y="412" width="1" height="5" opacity=".2"/>
<rect x="863" y="412" width="1" height="5" opacity=".18"/>
<rect x="864" y="412" width="1" height="5" opacity=".19"/>
<rect x="865" y="412" width="2" height="5" opacity=".17"/>
<rect x="867" y="412" width="2" height="5" opacity=".19"/>
<rect x="869" y="412" width="2" height="5" opacity=".22"/>
<rect x="871" y="412" width="1" height="5" opacity=".18"/>
<rect x="872" y="412" width="1" height="5" opacity=".17"/>
<rect x="873" y="412" width="1" height="5" opacity=".18"/>
<rect x="874" y="412" width="1" height="5" opacity=".17"/>
<rect x="875" y="412" width="1" height="5" opacity=".18"/>
<rect x="876" y="412" width="1" height="5" opacity=".19"/>
<rect x="877" y="412" width="1" height="5" opacity=".2"/>
<rect x="878" y="412" width="1" height="5" opacity=".19"/>
<rect x="879" y="412" width="1" height="5" opacity=".2"/>
<rect x="880" y="412" width="2" height="5" opacity=".18"/>
<rect x="882" y="412" width="1" height="5" opacity=".2"/>
<rect x="883" y="412" width="1" height="5" opacity=".18"/>
<rect x="884" y="412" width="2" height="5" opacity=".19"/>
<rect x="886" y="412" width="2" height="5" opacity=".18"/>
<rect x="888" y="412" width="1" height="5" opacity=".21"/>
<rect x="889" y="412" width="1" height="5" opacity=".22"/>
<rect x="890" y="412" width="1" height="5" opacity=".2"/>
<rect x="891" y="412" width="1" height="5" opacity=".17"/>
<rect x="892" y="412" width="1" height="5" opacity=".16"/>
<rect x="893" y="412" width="1" height="5" opacity=".18"/>
<rect x="894" y="412" width="1" height="5" opacity=".19"/>
<rect x="895" y="412" width="1" height="5" opacity=".18"/>
<rect x="896" y="412" width="1" height="5" opacity=".21"/>
<rect x="897" y="412" width="1" height="5" opacity=".22"/>
<rect x="898" y="412" width="4" height="5" opacity=".17"/>
<rect x="902" y="412" width="1" height="5" opacity=".16"/>
<rect x="903" y="412" width="1" height="5" opacity=".18"/>
<rect x="904" y="412" width="1" height="5" opacity=".16"/>
<rect x="905" y="412" width="4" height="5" opacity=".19"/>
<rect x="909" y="412" width="1" height="5" opacity=".18"/>
<rect x="910" y="412" width="1" height="5" opacity=".19"/>
<rect x="911" y="412" width="1" height="5" opacity=".17"/>
<rect x="912" y="412" width="1" height="5" opacity=".2"/>
<rect x="913" y="412" width="1" height="5" opacity=".19"/>
<rect x="914" y="412" width="1" height="5" opacity=".2"/>
<rect x="915" y="412" width="2" height="5" opacity=".19"/>
<rect x="917" y="412" width="1" height="5" opacity=".2"/>
<rect x="918" y="412" width="1" height="5" opacity=".19"/>
<rect x="919" y="412" width="1" height="5" opacity=".2"/>
<rect x="920" y="412" width="1" height="5" opacity=".21"/>
<rect x="921" y="412" width="2" height="5" opacity=".15"/>
<rect x="923" y="412" width="2" height="5" opacity=".19"/>
<rect x="925" y="412" width="1" height="5" opacity=".17"/>
<rect x="926" y="412" width="1" height="5" opacity=".18"/>
<rect x="927" y="412" width="2" height="5" opacity=".17"/>
<rect x="929" y="412" width="1" height="5" opacity=".19"/>
<rect x="930" y="412" width="1" height="5" opacity=".18"/>
<rect x="931" y="412" width="1" height="5" opacity=".17"/>
<rect x="932" y="412" width="1" height="5" opacity=".18"/>
<rect x="933" y="412" width="1" height="5" opacity=".17"/>
</g>
<rect x="84" y="363" width="1" height="1" fill="#a9a9a9"/>
<rect x="86" y="367" width="1" height="2" fill="#7b7b7b"/>
<rect x="87" y="364" width="1" height="1" fill="#a9a9a9"/>
<rect x="88" y="379" width="1" height="1" fill="#a1a1a1"/>
<rect x="89" y="367" width="1" height="3" fill="#7b7b7b"/>
<rect x="91" y="367" width="1" height="2" fill="#7b7b7b"/>
<rect x="92" y="363" width="1" height="3" fill="#7b7b7b"/>
<rect x="93" y="366" width="1" height="2" fill="#a9a9a9"/>
<rect x="104" y="366" width="1" height="2" fill="#a9a9a9"/>
<rect x="105" y="364" width="1" height="3" fill="#7b7b7b"/>
<rect x="114" y="366" width="1" height="2" fill="#a9a9a9"/>
<rect x="114" y="379" width="1" height="1" fill="#a1a1a1"/>
<rect x="116" y="364" width="1" height="3" fill="#7b7b7b"/>
<rect x="117" y="365" width="1" height="2" fill="#7b7b7b"/>
<rect x="119" y="363" width="1" height="2" fill="#7b7b7b"/>
<rect x="121" y="367" width="1" height="3" fill="#7b7b7b"/>
<rect x="126" y="330" width="1" height="1" fill="#999999"/>
<rect x="128" y="363" width="1" height="2" fill="#a9a9a9"/>
<rect x="130" y="365" width="2" height="2" fill="#a9a9a9"/>
<rect x="134" y="363" width="1" height="2" fill="#7b7b7b"/>
<rect x="135" y="363" width="1" height="3" fill="#7b7b7b"/>
<rect x="136" y="366" width="1" height="3" fill="#7b7b7b"/>
<rect x="143" y="364" width="1" height="2" fill="#a9a9a9"/>
<rect x="145" y="363" width="1" height="2" fill="#a9a9a9"/>
<rect x="147" y="366" width="1" height="4" fill="#7b7b7b"/>
<rect x="154" y="379" width="1" height="1" fill="#a1a1a1"/>
<rect x="157" y="367" width="1" height="3" fill="#7b7b7b"/>
<rect x="159" y="366" width="1" height="3" fill="#7b7b7b"/>
<rect x="160" y="365" width="1" height="2" fill="#7b7b7b"/>
<rect x="162" y="379" width="1" height="1" fill="#a1a1a1"/>
<rect x="164" y="362" width="1" height="1" fill="#a9a9a9"/>
<rect x="165" y="366" width="1" height="2" fill="#a9a9a9"/>
<rect x="167" y="364" width="1" height="4" fill="#7b7b7b"/>
<rect x="170" y="365" width="1" height="1" fill="#a9a9a9"/>
<rect x="175" y="362" width="2" height="1" fill="#a9a9a9"/>
<rect x="178" y="379" width="1" height="1" fill="#a1a1a1"/>
<rect x="179" y="363" width="1" height="4" fill="#7b7b7b"/>
<rect x="182" y="364" width="1" height="2" fill="#a9a9a9"/>
<rect x="185" y="364" width="1" height="1" fill="#a9a9a9"/>
<rect x="186" y="365" width="2" height="2" fill="#a9a9a9"/>
<rect x="187" y="364" width="1" height="4" fill="#7b7b7b"/>
<rect x="188" y="363" width="1" height="1" fill="#a9a9a9"/>
<rect x="192" y="362" width="1" height="1" fill="#a9a9a9"/>
<rect x="197" y="364" width="1" height="4" fill="#7b7b7b"/>
<rect x="198" y="366" width="1" height="1" fill="#a9a9a9"/>
<rect x="199" y="364" width="1" height="4" fill="#7b7b7b"/>
<rect x="203" y="365" width="1" height="3" fill="#7b7b7b"/>
<rect x="205" y="362" width="1" height="2" fill="#a9a9a9"/>
<rect x="212" y="364" width="1" height="2" fill="#a9a9a9"/>
<rect x="213" y="364" width="2" height="2" fill="#a9a9a9"/>
<rect x="215" y="366" width="1" height="3" fill="#7b7b7b"/>
<rect x="218" y="362" width="1" height="1" fill="#a9a9a9"/>
<rect x="221" y="364" width="2" height="2" fill="#a9a9a9"/>
<rect x="222" y="379" width="2" height="1" fill="#a1a1a1"/>
<rect x="225" y="362" width="1" height="2" fill="#a9a9a9"/>
<rect x="225" y="379" width="1" height="1" fill="#a1a1a1"/>
<rect x="228" y="367" width="1" height="3" fill="#7b7b7b"/>
<rect x="229" y="366" width="2" height="2" fill="#a9a9a9"/>
<rect x="231" y="363" width="1" height="4" fill="#7b7b7b"/>
<rect x="232" y="379" width="2" height="1" fill="#a1a1a1"/>
<rect x="235" y="364" width="1" height="2" fill="#a9a9a9"/>
<rect x="238" y="365" width="1" height="2" fill="#7b7b7b"/>
<rect x="240" y="362" width="1" height="2" fill="#a9a9a9"/>
<rect x="246" y="366" width="1" height="1" fill="#a9a9a9"/>
<rect x="248" y="365" width="1" height="2" fill="#7b7b7b"/>
<rect x="250" y="362" width="1" height="2" fill="#a9a9a9"/>
<rect x="253" y="365" width="1" height="2" fill="#a9a9a9"/>
<rect x="255" y="365" width="1" height="3" fill="#7b7b7b"/>
<rect x="257" y="329" width="1" height="1" fill="#999999"/>
<rect x="259" y="363" width="1" height="4" fill="#7b7b7b"/>
<rect x="259" y="331" width="1" height="1" fill="#999999"/>
<rect x="260" y="362" width="1" height="2" fill="#a9a9a9"/>
<rect x="260" y="379" width="2" height="1" fill="#a1a1a1"/>
<rect x="262" y="362" width="2" height="2" fill="#a9a9a9"/>
<rect x="263" y="364" width="1" height="2" fill="#a9a9a9"/>
<rect x="266" y="365" width="1" height="2" fill="#a9a9a9"/>
<rect x="267" y="366" width="1" height="3" fill="#7b7b7b"/>
<rect x="269" y="366" width="1" height="2" fill="#7b7b7b"/>
<rect x="270" y="331" width="1" height="1" fill="#999999"/>
<rect x="271" y="366" width="2" height="2" fill="#a9a9a9"/>
<rect x="272" y="366" width="1" height="1" fill="#a9a9a9"/>
<rect x="276" y="363" width="1" height="2" fill="#7b7b7b"/>
<rect x="278" y="332" width="1" height="1" fill="#999999"/>
<rect x="280" y="366" width="1" height="2" fill="#7b7b7b"/>
<rect x="288" y="366" width="1" height="3" fill="#7b7b7b"/>
<rect x="293" y="366" width="1" height="3" fill="#7b7b7b"/>
<rect x="300" y="364" width="1" height="2" fill="#7b7b7b"/>
<rect x="301" y="379" width="1" height="1" fill="#a1a1a1"/>
<rect x="304" y="379" width="1" height="1" fill="#a1a1a1"/>
<rect x="307" y="365" width="1" height="3" fill="#7b7b7b"/>
<rect x="309" y="363" width="1" height="2" fill="#7b7b7b"/>
<rect x="310" y="364" width="1" height="3" fill="#7b7b7b"/>
<rect x="314" y="365" width="2" height="1" fill="#a9a9a9"/>
<rect x="316" y="363" width="1" height="4" fill="#7b7b7b"/>
<rect x="318" y="364" width="1" height="3" fill="#7b7b7b"/>
<rect x="323" y="365" width="1" height="3" fill="#7b7b7b"/>
<rect x="329" y="379" width="1" height="1" fill="#a1a1a1"/>
<rect x="330" y="364" width="1" height="4" fill="#7b7b7b"/>
<rect x="335" y="364" width="1" height="2" fill="#a9a9a9"/>
<rect x="339" y="363" width="1" height="3" fill="#7b7b7b"/>
<rect x="340" y="379" width="2" height="1" fill="#a1a1a1"/>
<rect x="346" y="365" width="2" height="1" fill="#a9a9a9"/>
<rect x="350" y="366" width="1" height="2" fill="#a9a9a9"/>
<rect x="353" y="363" width="1" height="2" fill="#7b7b7b"/>
<rect x="356" y="366" width="2" height="2" fill="#a9a9a9"/>
<rect x="357" y="330" width="1" height="1" fill="#999999"/>
<rect x="358" y="365" width="1" height="2" fill="#a9a9a9"/>
<rect x="361" y="363" width="1" height="1" fill="#a9a9a9"/>
<rect x="368" y="365" width="1" height="4" fill="#7b7b7b"/>
<rect x="369" y="366" width="1" height="4" fill="#7b7b7b"/>
<rect x="376" y="364" width="1" height="2" fill="#a9a9a9"/>
<rect x="377" y="367" width="1" height="3" fill="#7b7b7b"/>
<rect x="381" y="366" width="1" height="3" fill="#7b7b7b"/>
<rect x="384" y="366" width="1" height="3" fill="#7b7b7b"/>
<rect x="387" y="365" width="1" height="1" fill="#a9a9a9"/>
<rect x="387" y="332" width="1" height="1" fill="#999999"/>
<rect x="388" y="365" width="2" height="2" fill="#a9a9a9"/>
<rect x="389" y="367" width="1" height="2" fill="#7b7b7b"/>
<rect x="390" y="362" width="1" height="1" fill="#a9a9a9"/>
<rect x="391" y="365" width="2" height="2" fill="#a9a9a9"/>
<rect x="394" y="364" width="2" height="2" fill="#a9a9a9"/>
<rect x="405" y="367" width="1" height="2" fill="#7b7b7b"/>
<rect x="408" y="328" width="1" height="1" fill="#999999"/>
<rect x="411" y="362" width="2" height="2" fill="#a9a9a9"/>
<rect x="411" y="327" width="1" height="1" fill="#999999"/>
<rect x="412" y="327" width="1" height="1" fill="#999999"/>
<rect x="418" y="362" width="2" height="1" fill="#a9a9a9"/>
<rect x="419" y="366" width="1" height="3" fill="#7b7b7b"/>
<rect x="422" y="362" width="1" height="1" fill="#a9a9a9"/>
<rect x="423" y="330" width="1" height="1" fill="#999999"/>
<rect x="427" y="363" width="1" height="2" fill="#7b7b7b"/>
<rect x="428" y="366" width="1" height="4" fill="#7b7b7b"/>
<rect x="429" y="366" width="2" height="2" fill="#a9a9a9"/>
<rect x="433" y="364" width="2" height="1" fill="#a9a9a9"/>
<rect x="437" y="379" width="1" height="1" fill="#a1a1a1"/>
<rect x="438" y="367" width="1" height="2" fill="#7b7b7b"/>
<rect x="446" y="364" width="2" height="2" fill="#a9a9a9"/>
<rect x="452" y="364" width="1" height="3" fill="#7b7b7b"/>
<rect x="455" y="364" width="1" height="3" fill="#7b7b7b"/>
<rect x="460" y="330" width="1" height="1" fill="#999999"/>
<rect x="461" y="365" width="1" height="4" fill="#7b7b7b"/>
<rect x="464" y="365" width="1" height="2" fill="#a9a9a9"/>
<rect x="464" y="328" width="1" height="1" fill="#999999"/>
<rect x="468" y="364" width="1" height="1" fill="#a9a9a9"/>
<rect x="471" y="365" width="1" height="2" fill="#a9a9a9"/>
<rect x="473" y="363" width="2" height="1" fill="#a9a9a9"/>
<rect x="479" y="379" width="1" height="1" fill="#a1a1a1"/>
<rect x="480" y="379" width="2" height="1" fill="#a1a1a1"/>
<rect x="481" y="364" width="2" height="2" fill="#a9a9a9"/>
<rect x="483" y="364" width="1" height="3" fill="#7b7b7b"/>
<rect x="484" y="366" width="1" height="4" fill="#7b7b7b"/>
<rect x="495" y="363" width="1" height="1" fill="#a9a9a9"/>
<rect x="496" y="366" width="1" height="1" fill="#a9a9a9"/>
<rect x="498" y="362" width="1" height="1" fill="#a9a9a9"/>
<rect x="502" y="363" width="1" height="3" fill="#7b7b7b"/>
<rect x="505" y="366" width="1" height="3" fill="#7b7b7b"/>
<rect x="505" y="327" width="1" height="1" fill="#999999"/>
<rect x="506" y="365" width="1" height="1" fill="#a9a9a9"/>
<rect x="509" y="362" width="1" height="2" fill="#a9a9a9"/>
<rect x="517" y="379" width="1" height="1" fill="#a1a1a1"/>
<rect x="519" y="364" width="1" height="3" fill="#7b7b7b"/>
<rect x="521" y="365" width="1" height="2" fill="#a9a9a9"/>
<rect x="522" y="364" width="2" height="1" fill="#a9a9a9"/>
<rect x="528" y="365" width="1" height="3" fill="#7b7b7b"/>
<rect x="534" y="331" width="1" height="1" fill="#999999"/>
<rect x="541" y="362" width="1" height="1" fill="#a9a9a9"/>
<rect x="547" y="365" width="1" height="1" fill="#a9a9a9"/>
<rect x="548" y="331" width="1" height="1" fill="#999999"/>
<rect x="549" y="363" width="1" height="2" fill="#7b7b7b"/>
<rect x="550" y="379" width="1" height="1" fill="#a1a1a1"/>
<rect x="551" y="330" width="1" height="1" fill="#999999"/>
<rect x="552" y="362" width="2" height="2" fill="#a9a9a9"/>
<rect x="553" y="366" width="1" height="1" fill="#a9a9a9"/>
<rect x="557" y="379" width="2" height="1" fill="#a1a1a1"/>
<rect x="559" y="367" width="1" height="2" fill="#7b7b7b"/>
<rect x="560" y="364" width="1" height="2" fill="#a9a9a9"/>
<rect x="561" y="330" width="1" height="1" fill="#999999"/>
<rect x="562" y="332" width="1" height="1" fill="#999999"/>
<rect x="563" y="363" width="1" height="2" fill="#7b7b7b"/>
<rect x="566" y="379" width="1" height="1" fill="#a1a1a1"/>
<rect x="568" y="363" width="1" height="3" fill="#7b7b7b"/>
<rect x="569" y="365" width="1" height="3" fill="#7b7b7b"/>
<rect x="571" y="364" width="2" height="2" fill="#a9a9a9"/>
<rect x="576" y="379" width="2" height="1" fill="#a1a1a1"/>
<rect x="577" y="363" width="1" height="1" fill="#a9a9a9"/>
<rect x="583" y="379" width="1" height="1" fill="#a1a1a1"/>
<rect x="584" y="366" width="1" height="2" fill="#a9a9a9"/>
<rect x="597" y="364" width="1" height="1" fill="#a9a9a9"/>
<rect x="597" y="379" width="1" height="1" fill="#a1a1a1"/>
<rect x="600" y="363" width="1" height="2" fill="#7b7b7b"/>
<rect x="603" y="362" width="2" height="2" fill="#a9a9a9"/>
<rect x="608" y="363" width="1" height="4" fill="#7b7b7b"/>
<rect x="610" y="379" width="2" height="1" fill="#a1a1a1"/>
<rect x="622" y="365" width="1" height="2" fill="#7b7b7b"/>
<rect x="624" y="379" width="1" height="1" fill="#a1a1a1"/>
<rect x="625" y="365" width="1" height="2" fill="#a9a9a9"/>
<rect x="626" y="365" width="1" height="2" fill="#7b7b7b"/>
<rect x="627" y="365" width="2" height="2" fill="#a9a9a9"/>
<rect x="628" y="367" width="1" height="3" fill="#7b7b7b"/>
<rect x="635" y="363" width="1" height="1" fill="#a9a9a9"/>
<rect x="642" y="363" width="1" height="1" fill="#a9a9a9"/>
<rect x="643" y="365" width="1" height="2" fill="#a9a9a9"/>
<rect x="650" y="366" width="1" height="2" fill="#a9a9a9"/>
<rect x="655" y="365" width="1" height="1" fill="#a9a9a9"/>
<rect x="656" y="379" width="2" height="1" fill="#a1a1a1"/>
<rect x="658" y="379" width="1" height="1" fill="#a1a1a1"/>
<rect x="661" y="362" width="2" height="2" fill="#a9a9a9"/>
<rect x="662" y="364" width="1" height="2" fill="#7b7b7b"/>
<rect x="662" y="379" width="2" height="1" fill="#a1a1a1"/>
<rect x="665" y="367" width="1" height="3" fill="#7b7b7b"/>
<rect x="668" y="367" width="1" height="3" fill="#7b7b7b"/>
<rect x="677" y="363" width="1" height="1" fill="#a9a9a9"/>
<rect x="684" y="365" width="1" height="1" fill="#a9a9a9"/>
<rect x="684" y="379" width="2" height="1" fill="#a1a1a1"/>
<rect x="688" y="330" width="1" height="1" fill="#999999"/>
<rect x="689" y="365" width="1" height="1" fill="#a9a9a9"/>
<rect x="694" y="365" width="1" height="3" fill="#7b7b7b"/>
<rect x="695" y="365" width="1" height="1" fill="#a9a9a9"/>
<rect x="697" y="366" width="2" height="1" fill="#a9a9a9"/>
<rect x="702" y="365" width="1" height="2" fill="#a9a9a9"/>
<rect x="703" y="366" width="1" height="4" fill="#7b7b7b"/>
<rect x="704" y="365" width="2" height="1" fill="#a9a9a9"/>
<rect x="705" y="366" width="2" height="2" fill="#a9a9a9"/>
<rect x="710" y="366" width="1" height="4" fill="#7b7b7b"/>
<rect x="710" y="327" width="1" height="1" fill="#999999"/>
<rect x="714" y="363" width="1" height="2" fill="#a9a9a9"/>
<rect x="720" y="367" width="1" height="2" fill="#7b7b7b"/>
<rect x="723" y="364" width="1" height="3" fill="#7b7b7b"/>
<rect x="724" y="365" width="1" height="4" fill="#7b7b7b"/>
<rect x="725" y="367" width="1" height="2" fill="#7b7b7b"/>
<rect x="726" y="379" width="2" height="1" fill="#a1a1a1"/>
<rect x="727" y="363" width="1" height="4" fill="#7b7b7b"/>
<rect x="733" y="365" width="1" height="2" fill="#a9a9a9"/>
<rect x="735" y="366" width="1" height="2" fill="#7b7b7b"/>
<rect x="735" y="328" width="1" height="1" fill="#999999"/>
<rect x="739" y="364" width="1" height="2" fill="#a9a9a9"/>
<rect x="742" y="365" width="1" height="3" fill="#7b7b7b"/>
<rect x="745" y="363" width="1" height="2" fill="#7b7b7b"/>
<rect x="751" y="364" width="1" height="3" fill="#7b7b7b"/>
<rect x="752" y="365" width="1" height="4" fill="#7b7b7b"/>
<rect x="760" y="364" width="2" height="2" fill="#a9a9a9"/>
<rect x="762" y="379" width="1" height="1" fill="#a1a1a1"/>
<rect x="763" y="364" width="2" height="2" fill="#a9a9a9"/>
<rect x="765" y="363" width="1" height="1" fill="#a9a9a9"/>
<rect x="770" y="365" width="1" height="4" fill="#7b7b7b"/>
<rect x="771" y="364" width="2" height="1" fill="#a9a9a9"/>
<rect x="775" y="362" width="2" height="2" fill="#a9a9a9"/>
<rect x="776" y="329" width="1" height="1" fill="#999999"/>
<rect x="777" y="362" width="1" height="1" fill="#a9a9a9"/>
<rect x="780" y="367" width="1" height="3" fill="#7b7b7b"/>
<rect x="781" y="363" width="1" height="3" fill="#7b7b7b"/>
<rect x="782" y="366" width="1" height="1" fill="#a9a9a9"/>
<rect x="785" y="363" width="1" height="1" fill="#a9a9a9"/>
<rect x="787" y="363" width="1" height="2" fill="#a9a9a9"/>
<rect x="790" y="362" width="1" height="1" fill="#a9a9a9"/>
<rect x="792" y="363" width="1" height="1" fill="#a9a9a9"/>
<rect x="793" y="362" width="2" height="1" fill="#a9a9a9"/>
<rect x="795" y="379" width="1" height="1" fill="#a1a1a1"/>
<rect x="796" y="365" width="1" height="3" fill="#7b7b7b"/>
<rect x="799" y="366" width="2" height="2" fill="#a9a9a9"/>
<rect x="804" y="367" width="1" height="3" fill="#7b7b7b"/>
<rect x="810" y="365" width="1" height="1" fill="#a9a9a9"/>
<rect x="810" y="379" width="1" height="1" fill="#a1a1a1"/>
<rect x="813" y="365" width="1" height="1" fill="#a9a9a9"/>
<rect x="814" y="366" width="1" height="3" fill="#7b7b7b"/>
<rect x="818" y="364" width="2" height="2" fill="#a9a9a9"/>
<rect x="819" y="365" width="1" height="4" fill="#7b7b7b"/>
<rect x="820" y="366" width="1" height="2" fill="#a9a9a9"/>
<rect x="822" y="367" width="1" height="2" fill="#7b7b7b"/>
<rect x="826" y="362" width="2" height="2" fill="#a9a9a9"/>
<rect x="828" y="379" width="2" height="1" fill="#a1a1a1"/>
<rect x="830" y="331" width="1" height="1" fill="#999999"/>
<rect x="834" y="366" width="1" height="1" fill="#a9a9a9"/>
<rect x="836" y="366" width="1" height="3" fill="#7b7b7b"/>
<rect x="838" y="366" width="1" height="3" fill="#7b7b7b"/>
<rect x="840" y="363" width="2" height="2" fill="#a9a9a9"/>
<rect x="843" y="364" width="1" height="4" fill="#7b7b7b"/>
<rect x="844" y="367" width="1" height="2" fill="#7b7b7b"/>
<rect x="853" y="363" width="1" height="1" fill="#a9a9a9"/>
<rect x="857" y="365" width="1" height="2" fill="#7b7b7b"/>
<rect x="863" y="364" width="1" height="1" fill="#a9a9a9"/>
<rect x="867" y="364" width="1" height="1" fill="#a9a9a9"/>
<rect x="872" y="365" width="1" height="1" fill="#a9a9a9"/>
<rect x="873" y="364" width="2" height="1" fill="#a9a9a9"/>
<rect x="875" y="367" width="1" height="3" fill="#7b7b7b"/>
<rect x="879" y="363" width="1" height="4" fill="#7b7b7b"/>
<rect x="882" y="379" width="1" height="1" fill="#a1a1a1"/>
<rect x="883" y="362" width="2" height="2" fill="#a9a9a9"/>
<rect x="884" y="365" width="1" height="2" fill="#7b7b7b"/>
<rect x="886" y="379" width="1" height="1" fill="#a1a1a1"/>
<rect x="889" y="366" width="1" height="3" fill="#7b7b7b"/>
<rect x="890" y="363" width="1" height="3" fill="#7b7b7b"/>
<rect x="892" y="364" width="1" height="1" fill="#a9a9a9"/>
<rect x="896" y="364" width="1" height="1" fill="#a9a9a9"/>
<rect x="898" y="379" width="1" height="1" fill="#a1a1a1"/>
<rect x="902" y="364" width="1" height="3" fill="#7b7b7b"/>
<rect x="908" y="365" width="1" height="2" fill="#7b7b7b"/>
<rect x="912" y="366" width="1" height="4" fill="#7b7b7b"/>
<rect x="915" y="362" width="2" height="1" fill="#a9a9a9"/>
<rect x="916" y="366" width="1" height="1" fill="#a9a9a9"/>
<rect x="919" y="365" width="1" height="3" fill="#7b7b7b"/>
<rect x="923" y="363" width="1" height="2" fill="#7b7b7b"/>
<rect x="925" y="366" width="1" height="1" fill="#a9a9a9"/>
<rect x="925" y="379" width="1" height="1" fill="#a1a1a1"/>
<rect x="927" y="367" width="1" height="2" fill="#7b7b7b"/>
<rect x="67" y="33" width="16" height="47" fill="#0a0a0a"/>
<rect x="67" y="80" width="16" height="40" fill="#0f0f0f"/>
<rect x="67" y="120" width="16" height="50" fill="#141414"/>
<rect x="67" y="170" width="16" height="60" fill="#1c1c1c"/>
<rect x="67" y="230" width="16" height="70" fill="#202020"/>
<rect x="67" y="300" width="16" height="60" fill="#242424"/>
<rect x="67" y="360" width="16" height="57" fill="#2b2b2b"/>
<rect x="67" y="267" width="16" height="1" fill="#787878"/>
<rect x="70" y="267" width="8" height="1" fill="#959595"/>
<rect x="67" y="259" width="16" height="1" fill="#383838"/>
<rect x="67" y="271" width="12" height="1" fill="#484848"/>
<rect x="77" y="170" width="1" height="5" fill="#383838"/>
<rect x="78" y="240" width="1" height="5" fill="#3e3e3e"/>
<rect x="72" y="243" width="1" height="3" fill="#383838"/>
<rect x="69" y="321" width="13" height="1" fill="#585858"/>
<rect x="70" y="322" width="11" height="2" fill="#696969"/>
<rect x="69" y="324" width="12" height="1" fill="#515151"/>
<rect x="69" y="330" width="12" height="1" fill="#484848"/>
<rect x="68" y="336" width="13" height="1" fill="#444444"/>
<rect x="70" y="345" width="12" height="1" fill="#585858"/>
<rect x="69" y="346" width="4" height="1" fill="#4c4c4c"/>
<rect x="68" y="362" width="14" height="1" fill="#5f5f5f"/>
<rect x="69" y="363" width="3" height="2" fill="#999999"/>
<rect x="73" y="363" width="2" height="2" fill="#787878"/>
<rect x="76" y="362" width="2" height="3" fill="#909090"/>
<rect x="79" y="363" width="3" height="1" fill="#727272"/>
<rect x="80" y="364" width="2" height="2" fill="#6c6c6c"/>
<rect x="68" y="366" width="14" height="1" fill="#585858"/>
<rect x="68" y="369" width="13" height="1" fill="#4c4c4c"/>
<rect x="69" y="373" width="3" height="2" fill="#a1a1a1"/>
<rect x="72" y="374" width="2" height="1" fill="#878787"/>
<rect x="74" y="375" width="6" height="1" fill="#999999"/>
<rect x="68" y="377" width="8" height="1" fill="#585858"/>
<rect x="68" y="381" width="14" height="1" fill="#4c4c4c"/>
<rect x="70" y="384" width="10" height="1" fill="#484848"/>
<rect x="70" y="394" width="2" height="2" fill="#a9a9a9"/>
<rect x="69" y="397" width="2" height="1" fill="#999999"/>
<rect x="78" y="397" width="3" height="1" fill="#a9a9a9"/>
<rect x="76" y="397" width="2" height="1" fill="#666666"/>
<rect x="69" y="400" width="3" height="1" fill="#999999"/>
<rect x="70" y="403" width="2" height="2" fill="#909090"/>
<rect x="69" y="406" width="2" height="1" fill="#666666"/>
<rect x="83" y="267" width="4" height="1" fill="#a4a4a4"/>
<rect x="87" y="267" width="8" height="1" fill="#9f9f9f"/>
<rect x="95" y="267" width="7" height="1" fill="#a0a0a0"/>
<rect x="102" y="267" width="8" height="1" fill="#919191"/>
<rect x="110" y="267" width="7" height="1" fill="#a7a7a7"/>
<rect x="117" y="267" width="7" height="1" fill="#a3a3a3"/>
<rect x="124" y="267" width="8" height="1" fill="#9f9f9f"/>
<rect x="132" y="267" width="5" height="1" fill="#a5a5a5"/>
<rect x="137" y="267" width="8" height="1" fill="#a1a1a1"/>
<rect x="145" y="267" width="6" height="1" fill="#a4a4a4"/>
<rect x="151" y="267" width="3" height="1" fill="#9d9d9d"/>
<rect x="154" y="267" width="8" height="1" fill="#a0a0a0"/>
<rect x="162" y="267" width="3" height="1" fill="#9a9a9a"/>
<rect x="165" y="267" width="6" height="1" fill="#a0a0a0"/>
<rect x="171" y="267" width="5" height="1" fill="#a2a2a2"/>
<rect x="176" y="267" width="3" height="1" fill="#acacac"/>
<rect x="179" y="267" width="3" height="1" fill="#a3a3a3"/>
<rect x="182" y="267" width="8" height="1" fill="#9f9f9f"/>
<rect x="190" y="267" width="8" height="1" fill="#8c8c8c"/>
<rect x="198" y="267" width="4" height="1" fill="#a6a6a6"/>
<rect x="202" y="267" width="7" height="1" fill="#a7a7a7"/>
<rect x="209" y="267" width="6" height="1" fill="#9e9e9e"/>
<rect x="215" y="267" width="4" height="1" fill="#9e9e9e"/>
<rect x="219" y="267" width="4" height="1" fill="#a1a1a1"/>
<rect x="223" y="267" width="6" height="1" fill="#a1a1a1"/>
<rect x="229" y="267" width="3" height="1" fill="#a0a0a0"/>
<rect x="232" y="267" width="7" height="1" fill="#a4a4a4"/>
<rect x="239" y="267" width="4" height="1" fill="#ababab"/>
<rect x="243" y="267" width="4" height="1" fill="#9d9d9d"/>
<rect x="247" y="267" width="6" height="1" fill="#a8a8a8"/>
<rect x="253" y="267" width="3" height="1" fill="#a9a9a9"/>
<rect x="256" y="267" width="5" height="1" fill="#9e9e9e"/>
<rect x="261" y="267" width="7" height="1" fill="#a1a1a1"/>
<rect x="268" y="267" width="8" height="1" fill="#a7a7a7"/>
<rect x="276" y="267" width="4" height="1" fill="#a6a6a6"/>
<rect x="280" y="267" width="7" height="1" fill="#a7a7a7"/>
<rect x="287" y="267" width="5" height="1" fill="#969696"/>
<rect x="292" y="267" width="6" height="1" fill="#a0a0a0"/>
<rect x="298" y="267" width="8" height="1" fill="#9f9f9f"/>
<rect x="306" y="267" width="7" height="1" fill="#a0a0a0"/>
<rect x="313" y="267" width="3" height="1" fill="#a0a0a0"/>
<rect x="316" y="267" width="7" height="1" fill="#9f9f9f"/>
<rect x="323" y="267" width="3" height="1" fill="#a4a4a4"/>
<rect x="326" y="267" width="7" height="1" fill="#9b9b9b"/>
<rect x="333" y="267" width="5" height="1" fill="#ababab"/>
<rect x="338" y="267" width="5" height="1" fill="#939393"/>
<rect x="343" y="267" width="3" height="1" fill="#a7a7a7"/>
<rect x="346" y="267" width="6" height="1" fill="#a1a1a1"/>
<rect x="352" y="267" width="7" height="1" fill="#9f9f9f"/>
<rect x="359" y="267" width="4" height="1" fill="#a6a6a6"/>
<rect x="363" y="267" width="4" height="1" fill="#9d9d9d"/>
<rect x="367" y="267" width="6" height="1" fill="#a9a9a9"/>
<rect x="373" y="267" width="5" height="1" fill="#aeaeae"/>
<rect x="378" y="267" width="4" height="1" fill="#a7a7a7"/>
<rect x="382" y="267" width="6" height="1" fill="#9b9b9b"/>
<rect x="388" y="267" width="3" height="1" fill="#9d9d9d"/>
<rect x="391" y="267" width="3" height="1" fill="#9e9e9e"/>
<rect x="394" y="267" width="4" height="1" fill="#969696"/>
<rect x="398" y="267" width="8" height="1" fill="#9b9b9b"/>
<rect x="406" y="267" width="8" height="1" fill="#9f9f9f"/>
<rect x="414" y="267" width="5" height="1" fill="#a1a1a1"/>
<rect x="419" y="267" width="5" height="1" fill="#9d9d9d"/>
<rect x="424" y="267" width="6" height="1" fill="#a5a5a5"/>
<rect x="430" y="267" width="6" height="1" fill="#a0a0a0"/>
<rect x="436" y="267" width="8" height="1" fill="#a7a7a7"/>
<rect x="444" y="267" width="4" height="1" fill="#a2a2a2"/>
<rect x="448" y="267" width="6" height="1" fill="#a3a3a3"/>
<rect x="454" y="267" width="4" height="1" fill="#959595"/>
<rect x="458" y="267" width="3" height="1" fill="#afafaf"/>
<rect x="461" y="267" width="4" height="1" fill="#a1a1a1"/>
<rect x="465" y="267" width="8" height="1" fill="#949494"/>
<rect x="473" y="267" width="8" height="1" fill="#a7a7a7"/>
<rect x="481" y="267" width="4" height="1" fill="#a4a4a4"/>
<rect x="485" y="267" width="3" height="1" fill="#a0a0a0"/>
<rect x="488" y="267" width="4" height="1" fill="#a1a1a1"/>
<rect x="492" y="267" width="4" height="1" fill="#aeaeae"/>
<rect x="496" y="267" width="5" height="1" fill="#a0a0a0"/>
<rect x="501" y="267" width="6" height="1" fill="#9e9e9e"/>
<rect x="507" y="267" width="5" height="1" fill="#9c9c9c"/>
<rect x="512" y="267" width="4" height="1" fill="#9b9b9b"/>
<rect x="516" y="267" width="3" height="1" fill="#9f9f9f"/>
<rect x="519" y="267" width="3" height="1" fill="#a0a0a0"/>
<rect x="522" y="267" width="4" height="1" fill="#a6a6a6"/>
<rect x="526" y="267" width="7" height="1" fill="#a9a9a9"/>
<rect x="533" y="267" width="8" height="1" fill="#a0a0a0"/>
<rect x="541" y="267" width="6" height="1" fill="#a2a2a2"/>
<rect x="547" y="267" width="8" height="1" fill="#9e9e9e"/>
<rect x="555" y="267" width="6" height="1" fill="#a8a8a8"/>
<rect x="561" y="267" width="6" height="1" fill="#9c9c9c"/>
<rect x="567" y="267" width="6" height="1" fill="#a0a0a0"/>
<rect x="573" y="267" width="7" height="1" fill="#919191"/>
<rect x="580" y="267" width="7" height="1" fill="#9f9f9f"/>
<rect x="587" y="267" width="6" height="1" fill="#909090"/>
<rect x="593" y="267" width="7" height="1" fill="#939393"/>
<rect x="600" y="267" width="8" height="1" fill="#999999"/>
<rect x="608" y="267" width="7" height="1" fill="#969696"/>
<rect x="615" y="267" width="4" height="1" fill="#999999"/>
<rect x="619" y="267" width="7" height="1" fill="#8f8f8f"/>
<rect x="626" y="267" width="8" height="1" fill="#969696"/>
<rect x="634" y="267" width="3" height="1" fill="#8b8b8b"/>
<rect x="637" y="267" width="4" height="1" fill="#898989"/>
<rect x="641" y="267" width="8" height="1" fill="#898989"/>
<rect x="649" y="267" width="6" height="1" fill="#8a8a8a"/>
<rect x="655" y="267" width="8" height="1" fill="#8c8c8c"/>
<rect x="663" y="267" width="7" height="1" fill="#8f8f8f"/>
<rect x="670" y="267" width="3" height="1" fill="#949494"/>
<rect x="673" y="267" width="8" height="1" fill="#8f8f8f"/>
<rect x="681" y="267" width="4" height="1" fill="#8a8a8a"/>
<rect x="685" y="267" width="7" height="1" fill="#868686"/>
<rect x="692" y="267" width="6" height="1" fill="#8d8d8d"/>
<rect x="698" y="267" width="3" height="1" fill="#8b8b8b"/>
<rect x="701" y="267" width="7" height="1" fill="#838383"/>
<rect x="708" y="267" width="5" height="1" fill="#838383"/>
<rect x="713" y="267" width="5" height="1" fill="#7d7d7d"/>
<rect x="718" y="267" width="7" height="1" fill="#787878"/>
<rect x="725" y="267" width="4" height="1" fill="#898989"/>
<rect x="729" y="267" width="5" height="1" fill="#898989"/>
<rect x="734" y="267" width="7" height="1" fill="#888888"/>
<rect x="741" y="267" width="7" height="1" fill="#848484"/>
<rect x="748" y="267" width="8" height="1" fill="#7c7c7c"/>
<rect x="756" y="267" width="3" height="1" fill="#828282"/>
<rect x="759" y="267" width="7" height="1" fill="#818181"/>
<rect x="766" y="267" width="7" height="1" fill="#868686"/>
<rect x="773" y="267" width="7" height="1" fill="#7b7b7b"/>
<rect x="780" y="267" width="6" height="1" fill="#808080"/>
<rect x="786" y="267" width="4" height="1" fill="#898989"/>
<rect x="790" y="267" width="3" height="1" fill="#777777"/>
<rect x="793" y="267" width="7" height="1" fill="#838383"/>
<rect x="800" y="267" width="3" height="1" fill="#7c7c7c"/>
<rect x="803" y="267" width="4" height="1" fill="#818181"/>
<rect x="807" y="267" width="8" height="1" fill="#878787"/>
<rect x="815" y="267" width="3" height="1" fill="#797979"/>
<rect x="818" y="267" width="8" height="1" fill="#7c7c7c"/>
<rect x="826" y="267" width="6" height="1" fill="#808080"/>
<rect x="832" y="267" width="7" height="1" fill="#818181"/>
<rect x="839" y="267" width="6" height="1" fill="#7a7a7a"/>
<rect x="845" y="267" width="3" height="1" fill="#7e7e7e"/>
<rect x="848" y="267" width="4" height="1" fill="#7c7c7c"/>
<rect x="852" y="267" width="5" height="1" fill="#6f6f6f"/>
<rect x="857" y="267" width="5" height="1" fill="#7d7d7d"/>
<rect x="862" y="267" width="7" height="1" fill="#797979"/>
<rect x="869" y="267" width="8" height="1" fill="#787878"/>
<rect x="877" y="267" width="3" height="1" fill="#7e7e7e"/>
<rect x="880" y="267" width="8" height="1" fill="#7d7d7d"/>
<rect x="888" y="267" width="6" height="1" fill="#7f7f7f"/>
<rect x="894" y="267" width="8" height="1" fill="#6f6f6f"/>
<rect x="902" y="267" width="8" height="1" fill="#7f7f7f"/>
<rect x="910" y="267" width="7" height="1" fill="#7e7e7e"/>
<rect x="917" y="267" width="5" height="1" fill="#767676"/>
<rect x="922" y="267" width="3" height="1" fill="#7a7a7a"/>
<rect x="925" y="267" width="8" height="1" fill="#757575"/>
<rect x="933" y="267" width="1" height="1" fill="#6c6c6c"/>
<rect x="83" y="270" width="87" height="1" fill="#909090"/>
<rect x="170" y="270" width="390" height="1" fill="#838383"/>
<rect x="560" y="270" width="120" height="1" fill="#7b7b7b"/>
<rect x="680" y="270" width="254" height="1" fill="#707070"/>
<rect x="169" y="168" width="1" height="249" fill="#000000"/>
<rect x="417" y="150" width="1" height="267" fill="#000000"/>
<rect x="665" y="148" width="1" height="269" fill="#000000"/>
<rect x="637" y="203" width="1" height="7" fill="#000000"/>
<rect x="719" y="333" width="1" height="9" fill="#000000"/>
<rect x="554" y="176" width="1" height="10" fill="#000000"/>
</g>
<g fill="#000">
<rect x="66" y="32" width="869" height="1"/>
<rect x="66" y="417" width="869" height="1"/>
<rect x="66" y="32" width="1" height="386"/>
<rect x="934" y="32" width="1" height="386"/>
<rect x="52" y="30" width="14" height="2"/>
<rect x="52" y="76" width="14" height="2"/>
<rect x="52" y="121" width="14" height="2"/>
<rect x="52" y="167" width="14" height="2"/>
<rect x="52" y="213" width="14" height="2"/>
<rect x="52" y="258" width="14" height="2"/>
<rect x="52" y="304" width="14" height="2"/>
<rect x="52" y="350" width="14" height="2"/>
<rect x="52" y="395" width="14" height="2"/>
<rect x="173" y="418" width="2" height="13"/>
<rect x="339" y="418" width="2" height="13"/>
<rect x="504" y="418" width="2" height="13"/>
<rect x="669" y="418" width="2" height="13"/>
<rect x="834" y="418" width="2" height="13"/>
</g>
<rect x="988.5" y="32.5" width="20" height="385" fill="url(#cb)" stroke="#000" stroke-width="1"/>
<g fill="#000">
<rect x="1009" y="46" width="4" height="1"/>
<rect x="1009" y="108" width="4" height="1"/>
<rect x="1009" y="170" width="4" height="1"/>
<rect x="1009" y="232" width="4" height="1"/>
<rect x="1009" y="294" width="4" height="1"/>
<rect x="1009" y="356" width="4" height="1"/>
</g>
<g font-family="'DejaVu Sans', 'Liberation Sans', sans-serif" fill="#000" font-size="13.89px" text-rendering="geometricPrecision">
<text x="499.7" y="23.5" font-size="16.63px" text-anchor="middle">EOVSA Summed Cross-Correlation Amplitude for 2025-08-30</text>
<text x="46.6" y="37" text-anchor="end">18</text>
<text x="46.6" y="83" text-anchor="end">16</text>
<text x="46.6" y="128" text-anchor="end">14</text>
<text x="46.6" y="174" text-anchor="end">12</text>
<text x="46.6" y="220" text-anchor="end">10</text>
<text x="46.6" y="265" text-anchor="end">8</text>
<text x="46.6" y="311" text-anchor="end">6</text>
<text x="46.6" y="357" text-anchor="end">4</text>
<text x="46.6" y="402" text-anchor="end">2</text>
<text x="174.5" y="447" text-anchor="middle" font-size="13.7px">14:24:00</text>
<text x="340.5" y="447" text-anchor="middle" font-size="13.7px">14:34:00</text>
<text x="505.5" y="447" text-anchor="middle" font-size="13.7px">14:44:00</text>
<text x="670.5" y="447" text-anchor="middle" font-size="13.7px">14:54:00</text>
<text x="835.5" y="447" text-anchor="middle" font-size="13.7px">15:04:00</text>
<text x="500" y="467" text-anchor="middle">Time [UT on 2025-08-30]</text>
<text transform="translate(20,225) rotate(-90)" text-anchor="middle">Frequency [GHz]</text>
<text x="1017" y="53">600</text>
<text x="1017" y="115">500</text>
<text x="1017" y="177">400</text>
<text x="1017" y="239">300</text>
<text x="1017" y="301">200</text>
<text x="1017" y="363">100</text>
<text transform="translate(1060,225) rotate(-90)" text-anchor="middle">Amplitude [arb. units]</text>
</g>
</svg>
</body></html>
